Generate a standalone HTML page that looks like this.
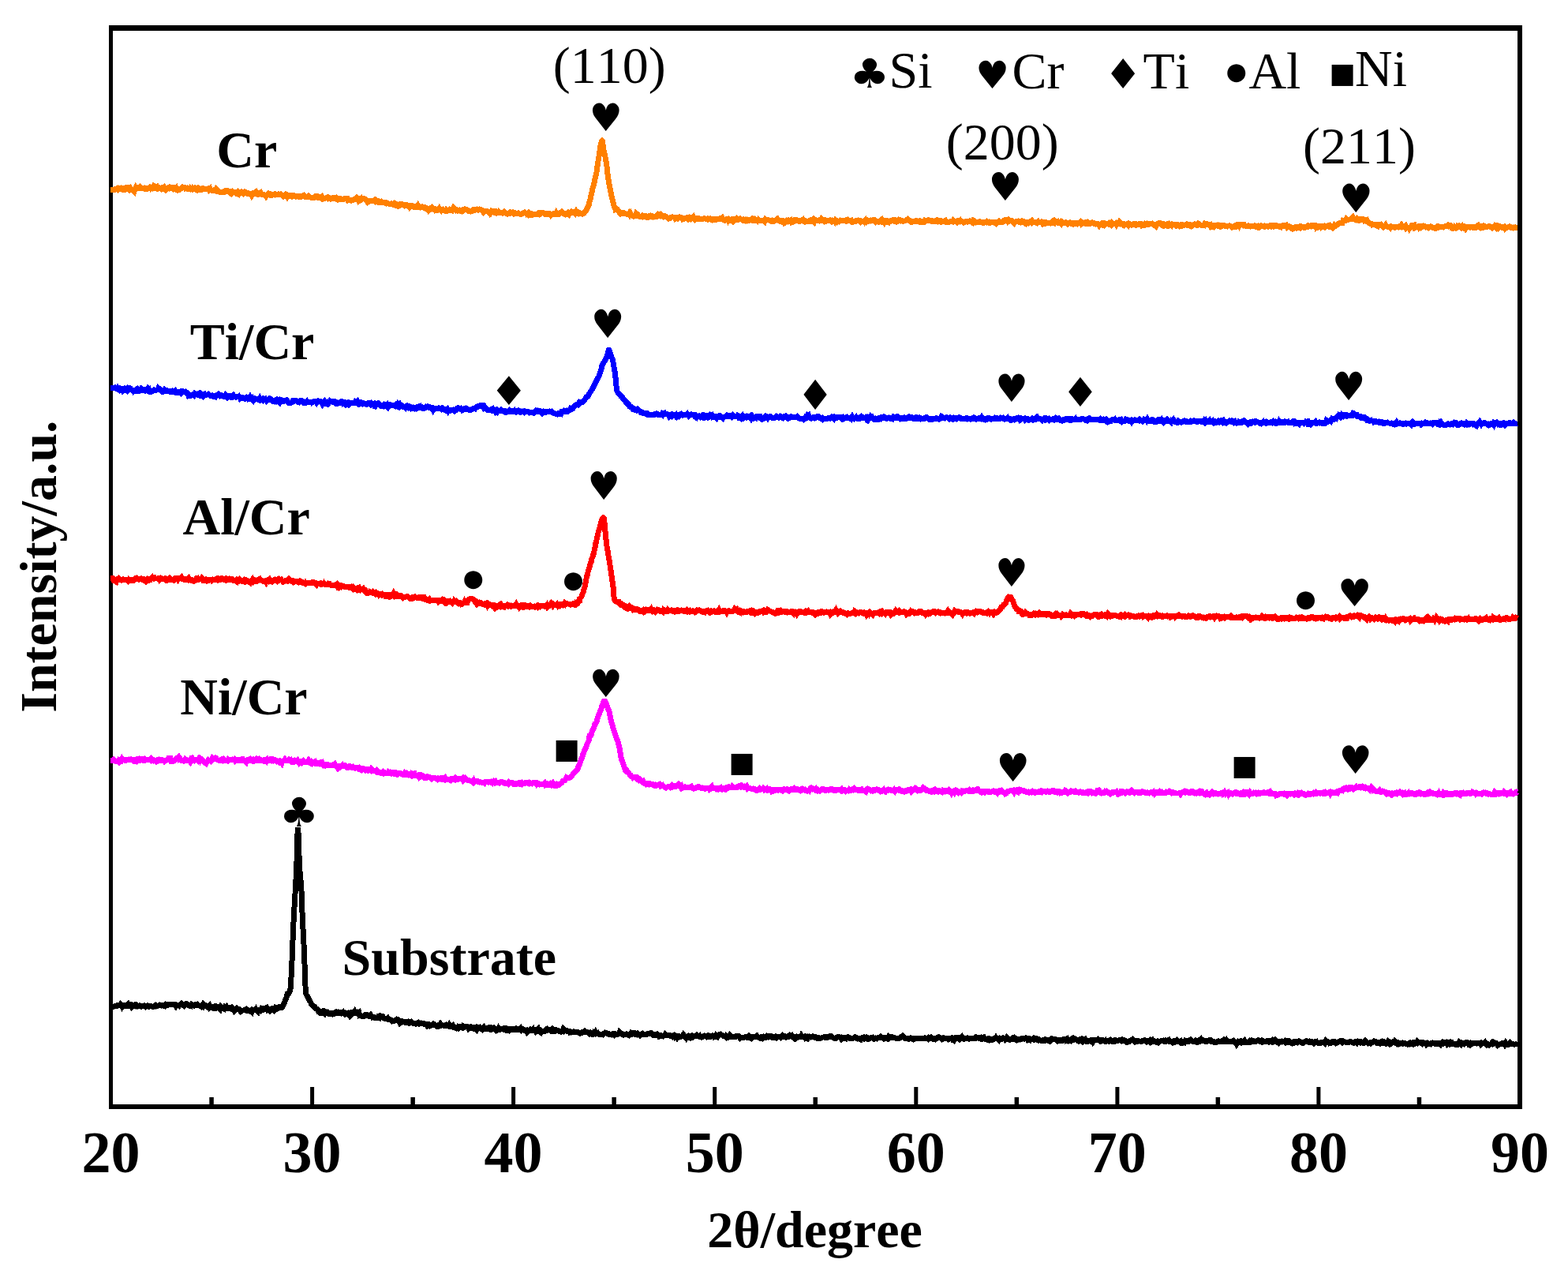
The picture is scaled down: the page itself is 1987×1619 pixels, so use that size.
<!DOCTYPE html>
<html><head><meta charset="utf-8"><title>XRD patterns</title>
<style>html,body{margin:0;padding:0;background:#fff;}svg{display:block;}text{font-kerning:none;}</style></head>
<body>
<svg width="1987" height="1619" viewBox="0 0 1987 1619">
<rect width="1987" height="1619" fill="#fff"/>
<g fill="#000">
<rect x="138" y="32" width="1791" height="7" fill="#000"/>
<rect x="138" y="1399" width="1791" height="6" fill="#000"/>
<rect x="138" y="32" width="5" height="1373" fill="#000"/>
<rect x="1923" y="32" width="6" height="1373" fill="#000"/>
<rect x="265.3" y="1390" width="5.5" height="9" fill="#000"/>
<rect x="393.1" y="1377" width="5" height="22" fill="#000"/>
<rect x="520.4" y="1390" width="5.5" height="9" fill="#000"/>
<rect x="648.1" y="1377" width="5" height="22" fill="#000"/>
<rect x="775.4" y="1390" width="5.5" height="9" fill="#000"/>
<rect x="903.2" y="1377" width="5" height="22" fill="#000"/>
<rect x="1030.5" y="1390" width="5.5" height="9" fill="#000"/>
<rect x="1158.3" y="1377" width="5" height="22" fill="#000"/>
<rect x="1285.6" y="1390" width="5.5" height="9" fill="#000"/>
<rect x="1413.4" y="1377" width="5" height="22" fill="#000"/>
<rect x="1540.6" y="1390" width="5.5" height="9" fill="#000"/>
<rect x="1668.4" y="1377" width="5" height="22" fill="#000"/>
<rect x="1795.7" y="1390" width="5.5" height="9" fill="#000"/>
</g>
<g>
<polyline fill="none" stroke="#ff8000" stroke-width="7.0" stroke-linejoin="miter" stroke-miterlimit="2" shape-rendering="crispEdges" points="140.0,240.3 141.0,240.3 142.0,240.3 143.0,240.3 144.0,240.4 145.0,240.4 146.0,239.4 147.0,239.5 148.0,239.0 149.0,239.9 150.0,238.5 151.0,239.2 152.0,239.1 153.0,238.8 154.0,238.0 155.0,238.2 156.0,239.9 157.0,239.4 158.0,240.5 159.0,240.2 160.0,237.7 161.0,235.6 162.0,238.1 163.0,238.9 164.0,240.0 165.0,238.8 166.0,240.6 167.0,238.8 168.0,240.7 169.0,241.2 170.0,242.2 171.0,239.3 172.0,237.4 173.0,238.7 174.0,238.7 175.0,237.8 176.0,237.7 177.0,238.2 178.0,237.0 179.0,237.8 180.0,238.1 181.0,238.5 182.0,238.9 183.0,238.4 184.0,239.2 185.0,239.8 186.0,239.6 187.0,238.5 188.0,238.6 189.0,238.5 190.0,237.5 191.0,238.7 192.0,237.9 193.0,238.2 194.0,236.8 195.0,238.6 196.0,238.3 197.0,237.1 198.0,237.8 199.0,236.9 200.0,239.1 201.0,238.7 202.0,238.0 203.0,238.5 204.0,238.2 205.0,239.5 206.0,239.0 207.0,239.1 208.0,237.8 209.0,239.5 210.0,240.6 211.0,239.4 212.0,238.1 213.0,237.7 214.0,237.2 215.0,238.5 216.0,237.9 217.0,238.1 218.0,237.3 219.0,237.2 220.0,238.9 221.0,238.0 222.0,238.8 223.0,238.0 224.0,240.5 225.0,241.0 226.0,240.3 227.0,240.6 228.0,239.5 229.0,239.0 230.0,238.1 231.0,237.2 232.0,237.9 233.0,237.5 234.0,237.7 235.0,238.9 236.0,238.6 237.0,238.3 238.0,239.5 239.0,239.6 240.0,239.8 241.0,238.5 242.0,239.5 243.0,239.9 244.0,238.5 245.0,239.7 246.0,239.5 247.0,238.4 248.0,239.6 249.0,240.9 250.0,241.2 251.0,240.7 252.0,238.4 253.0,238.9 254.0,240.0 255.0,240.5 256.0,239.9 257.0,238.8 258.0,238.9 259.0,239.8 260.0,241.4 261.0,238.8 262.0,241.1 263.0,239.6 264.0,239.1 265.0,240.7 266.0,239.7 267.0,242.8 268.0,241.0 269.0,241.6 270.0,241.5 271.0,241.6 272.0,240.4 273.0,240.5 274.0,239.1 275.0,240.0 276.0,241.9 277.0,245.2 278.0,241.8 279.0,243.5 280.0,243.4 281.0,241.1 282.0,243.0 283.0,243.5 284.0,243.3 285.0,241.9 286.0,241.6 287.0,242.0 288.0,241.6 289.0,242.2 290.0,242.7 291.0,243.8 292.0,242.5 293.0,242.4 294.0,244.2 295.0,243.0 296.0,244.0 297.0,243.9 298.0,243.8 299.0,243.5 300.0,245.3 301.0,245.5 302.0,246.1 303.0,243.6 304.0,244.4 305.0,244.5 306.0,243.5 307.0,244.5 308.0,245.2 309.0,244.1 310.0,243.4 311.0,244.2 312.0,243.9 313.0,244.4 314.0,245.0 315.0,247.2 316.0,245.2 317.0,245.5 318.0,245.7 319.0,247.5 320.0,245.9 321.0,244.7 322.0,244.5 323.0,244.3 324.0,243.5 325.0,245.9 326.0,246.1 327.0,246.4 328.0,245.6 329.0,244.3 330.0,243.8 331.0,245.6 332.0,246.4 333.0,246.1 334.0,246.3 335.0,247.0 336.0,247.6 337.0,248.8 338.0,247.5 339.0,246.0 340.0,245.1 341.0,246.1 342.0,245.8 343.0,247.0 344.0,247.0 345.0,247.2 346.0,246.9 347.0,246.5 348.0,246.9 349.0,245.8 350.0,246.3 351.0,246.8 352.0,246.7 353.0,246.0 354.0,246.4 355.0,246.4 356.0,248.8 357.0,246.9 358.0,247.6 359.0,248.6 360.0,247.6 361.0,247.8 362.0,246.6 363.0,247.7 364.0,249.2 365.0,247.7 366.0,248.4 367.0,247.9 368.0,247.7 369.0,247.9 370.0,248.7 371.0,247.6 372.0,247.4 373.0,248.3 374.0,248.2 375.0,249.1 376.0,248.9 377.0,246.8 378.0,249.3 379.0,249.6 380.0,249.4 381.0,248.7 382.0,249.2 383.0,248.8 384.0,248.2 385.0,250.5 386.0,248.7 387.0,249.7 388.0,249.5 389.0,249.5 390.0,249.5 391.0,248.6 392.0,249.9 393.0,249.9 394.0,250.0 395.0,250.7 396.0,250.4 397.0,250.3 398.0,250.2 399.0,249.3 400.0,248.3 401.0,248.3 402.0,250.3 403.0,250.6 404.0,250.4 405.0,249.9 406.0,250.5 407.0,250.9 408.0,249.9 409.0,251.8 410.0,251.1 411.0,251.1 412.0,251.3 413.0,250.8 414.0,250.4 415.0,251.2 416.0,250.2 417.0,251.2 418.0,251.0 419.0,252.0 420.0,251.4 421.0,251.6 422.0,250.8 423.0,250.7 424.0,250.8 425.0,251.4 426.0,250.8 427.0,252.4 428.0,253.0 429.0,252.6 430.0,251.8 431.0,251.6 432.0,252.0 433.0,252.1 434.0,254.1 435.0,252.1 436.0,252.1 437.0,251.6 438.0,251.9 439.0,251.4 440.0,251.4 441.0,253.6 442.0,253.1 443.0,253.3 444.0,253.4 445.0,254.1 446.0,253.7 447.0,253.8 448.0,253.0 449.0,252.3 450.0,252.0 451.0,251.6 452.0,250.6 453.0,251.9 454.0,251.7 455.0,254.7 456.0,254.1 457.0,253.4 458.0,252.0 459.0,253.7 460.0,251.5 461.0,251.7 462.0,252.0 463.0,252.5 464.0,253.9 465.0,254.7 466.0,256.1 467.0,255.2 468.0,255.0 469.0,254.2 470.0,254.4 471.0,254.6 472.0,254.3 473.0,254.6 474.0,254.1 475.0,254.9 476.0,253.3 477.0,254.0 478.0,254.9 479.0,254.7 480.0,256.0 481.0,256.0 482.0,255.7 483.0,255.2 484.0,256.2 485.0,256.0 486.0,256.2 487.0,256.2 488.0,257.3 489.0,257.8 490.0,257.1 491.0,257.7 492.0,258.0 493.0,258.1 494.0,258.3 495.0,258.2 496.0,257.9 497.0,258.2 498.0,258.9 499.0,258.1 500.0,259.5 501.0,260.0 502.0,258.6 503.0,259.2 504.0,259.5 505.0,261.0 506.0,260.4 507.0,259.0 508.0,259.3 509.0,258.5 510.0,258.8 511.0,259.3 512.0,259.7 513.0,260.5 514.0,259.8 515.0,259.6 516.0,260.7 517.0,261.0 518.0,260.8 519.0,262.3 520.0,261.2 521.0,260.6 522.0,260.4 523.0,260.9 524.0,262.0 525.0,262.4 526.0,261.8 527.0,262.2 528.0,262.2 529.0,262.2 530.0,260.3 531.0,261.5 532.0,262.1 533.0,262.9 534.0,262.7 535.0,261.9 536.0,262.0 537.0,262.0 538.0,263.4 539.0,264.1 540.0,264.3 541.0,263.9 542.0,264.3 543.0,266.0 544.0,264.7 545.0,264.9 546.0,263.7 547.0,263.0 548.0,264.4 549.0,265.1 550.0,264.6 551.0,264.5 552.0,266.3 553.0,265.9 554.0,266.1 555.0,264.3 556.0,266.1 557.0,264.2 558.0,265.4 559.0,266.6 560.0,265.2 561.0,265.0 562.0,265.8 563.0,266.9 564.0,267.2 565.0,266.1 566.0,267.4 567.0,267.1 568.0,266.9 569.0,266.4 570.0,265.5 571.0,266.1 572.0,266.3 573.0,266.8 574.0,265.4 575.0,263.2 576.0,264.2 577.0,265.9 578.0,266.7 579.0,266.1 580.0,266.9 581.0,266.2 582.0,266.0 583.0,266.3 584.0,267.6 585.0,267.9 586.0,267.4 587.0,265.6 588.0,265.1 589.0,264.9 590.0,265.2 591.0,265.5 592.0,266.1 593.0,266.5 594.0,267.7 595.0,267.9 596.0,268.0 597.0,267.3 598.0,267.3 599.0,266.1 600.0,265.6 601.0,265.6 602.0,266.1 603.0,265.7 604.0,265.2 605.0,266.0 606.0,266.2 607.0,265.6 608.0,265.1 609.0,265.5 610.0,266.0 611.0,266.5 612.0,267.0 613.0,268.8 614.0,267.9 615.0,267.6 616.0,267.4 617.0,267.4 618.0,268.3 619.0,268.7 620.0,269.8 621.0,267.6 622.0,269.2 623.0,267.6 624.0,268.1 625.0,268.3 626.0,267.2 627.0,267.2 628.0,269.8 629.0,270.1 630.0,269.4 631.0,269.4 632.0,268.2 633.0,269.0 634.0,269.5 635.0,269.4 636.0,269.5 637.0,270.2 638.0,269.5 639.0,268.5 640.0,269.5 641.0,270.0 642.0,270.0 643.0,271.0 644.0,270.6 645.0,270.3 646.0,269.3 647.0,270.1 648.0,269.3 649.0,269.6 650.0,268.8 651.0,269.0 652.0,270.9 653.0,270.6 654.0,270.7 655.0,270.8 656.0,270.7 657.0,270.1 658.0,270.9 659.0,271.3 660.0,271.3 661.0,271.3 662.0,270.7 663.0,270.0 664.0,269.3 665.0,269.0 666.0,269.9 667.0,267.9 668.0,270.5 669.0,269.8 670.0,271.5 671.0,270.6 672.0,271.5 673.0,272.8 674.0,272.8 675.0,271.3 676.0,271.7 677.0,271.1 678.0,271.2 679.0,271.2 680.0,271.7 681.0,271.6 682.0,270.7 683.0,271.4 684.0,270.0 685.0,270.6 686.0,269.9 687.0,269.8 688.0,269.5 689.0,270.2 690.0,270.9 691.0,271.5 692.0,271.0 693.0,271.4 694.0,271.1 695.0,270.5 696.0,270.6 697.0,271.2 698.0,272.5 699.0,271.6 700.0,271.2 701.0,270.9 702.0,271.0 703.0,271.6 704.0,271.7 705.0,269.8 706.0,271.3 707.0,271.9 708.0,271.9 709.0,270.6 710.0,269.7 711.0,269.8 712.0,268.6 713.0,269.8 714.0,270.6 715.0,271.2 716.0,271.6 717.0,270.5 718.0,270.8 719.0,271.2 720.0,270.0 721.0,271.1 722.0,269.2 723.0,269.0 724.0,268.3 725.0,269.2 726.0,268.6 727.0,269.1 728.0,268.7 729.0,269.9 730.0,268.3 731.0,269.9 732.0,270.4 732.7,270.7 733.0,270.8 733.0,270.8 733.2,270.6 733.5,270.3 733.7,270.0 734.0,269.7 734.0,269.6 734.2,269.7 734.5,269.9 734.7,270.0 735.0,270.1 735.0,270.1 735.2,270.2 735.5,270.2 735.7,270.2 736.0,270.3 736.0,270.3 736.2,270.3 736.5,270.4 736.7,270.5 737.0,270.5 737.0,270.5 737.2,270.7 737.5,270.8 737.7,271.0 738.0,271.1 738.0,271.1 738.2,271.0 738.5,270.9 738.7,270.8 739.0,270.6 739.0,270.6 739.2,270.5 739.5,270.5 739.7,270.4 740.0,270.3 740.0,270.3 740.2,270.0 740.5,269.6 740.7,269.2 741.0,268.7 741.0,268.7 741.2,268.5 741.5,268.3 741.7,268.1 742.0,267.8 742.0,267.8 742.2,267.4 742.5,267.0 742.7,266.5 743.0,266.1 743.0,266.0 743.2,265.5 743.5,265.0 743.7,264.4 744.0,263.8 744.0,263.7 744.2,263.4 744.5,262.8 744.7,262.2 745.0,261.6 745.0,261.4 745.2,261.2 745.5,260.9 745.7,260.5 746.0,260.1 746.0,260.0 746.2,259.2 746.5,258.1 746.7,257.0 747.0,255.9 747.0,255.7 747.2,254.9 747.5,254.0 747.7,253.1 748.0,252.2 748.0,252.1 748.2,251.1 748.5,249.9 748.7,248.8 749.0,247.6 749.0,247.3 749.2,246.6 749.5,245.6 749.7,244.5 750.0,243.5 750.0,243.3 750.2,242.4 750.5,241.2 750.7,240.1 751.0,238.9 751.0,238.7 751.2,238.0 751.5,237.1 751.7,236.2 752.0,235.4 752.0,235.2 752.2,234.3 752.5,233.2 752.7,232.2 753.0,231.1 753.0,230.9 753.2,230.1 753.5,229.0 753.7,227.9 754.0,226.8 754.0,226.6 754.2,225.9 754.5,224.9 754.7,223.9 755.0,222.9 755.0,222.6 755.2,221.7 755.5,220.5 755.7,219.3 756.0,218.0 756.0,217.7 756.2,216.4 756.5,214.6 756.7,212.9 757.0,211.1 757.0,210.8 757.2,209.3 757.5,207.5 757.7,205.7 758.0,203.9 758.0,203.5 758.2,202.3 758.5,200.9 758.7,199.4 759.0,197.9 759.0,197.6 759.2,196.3 759.5,194.6 759.7,192.9 760.0,191.2 760.0,190.9 760.2,189.8 760.5,188.2 760.7,186.5 761.0,184.8 761.0,184.4 761.2,183.4 761.5,182.1 761.7,181.0 762.0,180.1 762.0,180.0 762.2,179.2 762.5,178.6 762.7,178.4 763.0,178.7 763.0,178.8 763.2,179.5 763.5,180.7 763.7,182.1 764.0,183.8 764.0,184.1 764.2,185.3 764.5,186.8 764.7,188.4 765.0,189.9 765.0,190.2 765.2,191.2 765.5,192.4 765.7,193.3 766.0,194.2 766.0,194.4 766.2,195.4 766.5,196.6 766.7,197.8 767.0,199.0 767.0,199.3 767.2,200.3 767.5,201.5 767.7,202.9 768.0,204.3 768.0,204.7 768.2,205.7 768.5,207.2 768.7,208.9 769.0,211.1 769.0,211.6 769.2,213.6 769.5,216.2 769.7,218.6 770.0,220.7 770.0,221.1 770.2,222.6 770.5,224.4 770.7,226.1 771.0,227.7 771.0,228.1 771.2,229.2 771.5,230.7 771.7,232.1 772.0,233.4 772.0,233.7 772.2,234.7 772.5,236.0 772.7,237.2 773.0,238.4 773.0,238.6 773.2,239.6 773.5,240.9 773.7,242.1 774.0,243.3 774.0,243.5 774.2,244.6 774.5,245.9 774.7,247.2 775.0,248.4 775.0,248.7 775.2,249.6 775.5,250.7 775.7,251.7 776.0,252.9 776.0,253.1 776.2,253.8 776.5,254.6 776.7,255.5 777.0,256.4 777.0,256.5 777.2,257.4 777.5,258.5 777.7,259.6 778.0,260.7 778.0,260.9 778.2,261.5 778.5,262.2 778.7,262.9 779.0,263.5 779.0,263.7 779.2,264.0 779.5,264.4 779.7,264.7 780.0,264.9 780.0,265.0 780.2,264.9 780.5,264.7 780.7,264.6 781.0,264.4 781.0,264.4 781.2,264.5 781.5,264.6 781.7,264.7 782.0,264.8 782.0,264.8 782.2,265.2 782.5,265.6 782.7,266.0 783.0,266.4 783.0,266.5 783.2,266.8 783.5,267.1 783.7,267.4 784.0,267.8 784.0,267.8 784.2,268.1 784.5,268.4 784.7,268.8 785.0,269.1 785.0,269.2 785.2,269.4 785.5,269.6 785.7,269.8 786.0,270.1 786.0,270.1 786.2,269.9 786.5,269.7 786.7,269.5 787.0,269.3 787.0,269.2 787.2,269.3 787.5,269.4 787.7,269.4 788.0,269.5 788.0,269.5 788.2,269.5 788.5,269.4 788.7,269.3 789.0,269.3 789.0,269.3 789.2,269.4 789.5,269.6 789.7,269.8 790.0,269.9 790.0,270.0 790.2,270.0 790.5,270.0 790.7,269.9 791.0,269.9 791.0,269.9 791.2,270.0 791.5,270.1 791.7,270.2 792.0,270.2 792.0,270.2 792.2,270.4 792.5,270.5 793.0,270.9 794.0,271.2 795.0,271.2 796.0,271.6 797.0,270.4 798.0,272.1 799.0,270.5 800.0,272.3 801.0,273.3 802.0,273.6 803.0,274.1 804.0,273.4 805.0,273.6 806.0,271.0 807.0,272.2 808.0,271.8 809.0,273.2 810.0,274.2 811.0,274.4 812.0,274.2 813.0,274.0 814.0,273.3 815.0,274.4 816.0,273.8 817.0,273.5 818.0,273.3 819.0,274.4 820.0,275.3 821.0,275.4 822.0,275.0 823.0,273.3 824.0,273.1 825.0,273.6 826.0,273.5 827.0,274.7 828.0,274.3 829.0,274.9 830.0,274.6 831.0,274.1 832.0,273.3 833.0,272.2 834.0,273.7 835.0,273.3 836.0,272.4 837.0,273.2 838.0,272.0 839.0,272.8 840.0,273.2 841.0,274.2 842.0,273.5 843.0,274.1 844.0,274.3 845.0,275.2 846.0,275.8 847.0,276.9 848.0,276.3 849.0,276.4 850.0,275.7 851.0,275.0 852.0,274.8 853.0,275.0 854.0,275.0 855.0,275.5 856.0,277.3 857.0,276.8 858.0,276.0 859.0,276.7 860.0,275.7 861.0,274.9 862.0,275.5 863.0,275.4 864.0,276.6 865.0,277.9 866.0,277.6 867.0,276.5 868.0,276.4 869.0,276.3 870.0,275.7 871.0,275.7 872.0,277.1 873.0,275.8 874.0,275.2 875.0,275.6 876.0,276.9 877.0,276.0 878.0,276.5 879.0,275.2 880.0,276.9 881.0,278.2 882.0,277.4 883.0,277.6 884.0,276.5 885.0,276.3 886.0,277.4 887.0,277.1 888.0,277.4 889.0,277.6 890.0,277.3 891.0,276.0 892.0,278.5 893.0,276.9 894.0,277.0 895.0,277.5 896.0,277.1 897.0,277.8 898.0,277.2 899.0,277.6 900.0,277.0 901.0,278.0 902.0,278.6 903.0,277.8 904.0,277.3 905.0,277.5 906.0,278.5 907.0,278.5 908.0,278.2 909.0,277.3 910.0,277.5 911.0,277.5 912.0,276.9 913.0,276.7 914.0,277.1 915.0,276.1 916.0,278.0 917.0,279.0 918.0,279.3 919.0,278.5 920.0,278.4 921.0,277.4 922.0,277.7 923.0,279.5 924.0,278.3 925.0,279.1 926.0,278.4 927.0,277.9 928.0,278.9 929.0,280.1 930.0,279.1 931.0,277.9 932.0,278.2 933.0,277.3 934.0,278.7 935.0,278.7 936.0,277.9 937.0,277.3 938.0,277.0 939.0,277.8 940.0,278.2 941.0,278.8 942.0,278.2 943.0,278.8 944.0,278.3 945.0,279.4 946.0,278.7 947.0,279.8 948.0,279.3 949.0,278.9 950.0,279.3 951.0,278.8 952.0,277.8 953.0,277.2 954.0,279.1 955.0,279.0 956.0,278.0 957.0,279.4 958.0,279.5 959.0,278.8 960.0,279.7 961.0,278.4 962.0,279.3 963.0,279.5 964.0,279.9 965.0,279.5 966.0,279.1 967.0,279.3 968.0,279.2 969.0,280.4 970.0,278.2 971.0,279.2 972.0,278.6 973.0,278.5 974.0,279.0 975.0,279.1 976.0,279.8 977.0,280.2 978.0,279.5 979.0,280.5 980.0,280.5 981.0,280.0 982.0,279.4 983.0,279.0 984.0,278.1 985.0,277.4 986.0,278.8 987.0,279.8 988.0,280.3 989.0,279.7 990.0,279.6 991.0,280.5 992.0,279.7 993.0,280.4 994.0,282.2 995.0,281.3 996.0,281.0 997.0,279.6 998.0,280.3 999.0,279.2 1000.0,280.0 1001.0,279.6 1002.0,279.1 1003.0,281.2 1004.0,280.5 1005.0,281.2 1006.0,280.5 1007.0,278.7 1008.0,278.7 1009.0,278.5 1010.0,279.8 1011.0,279.7 1012.0,279.4 1013.0,280.5 1014.0,280.1 1015.0,280.0 1016.0,279.1 1017.0,279.6 1018.0,278.6 1019.0,280.1 1020.0,279.8 1021.0,281.0 1022.0,280.8 1023.0,281.0 1024.0,280.7 1025.0,280.6 1026.0,280.2 1027.0,278.9 1028.0,278.6 1029.0,280.6 1030.0,280.9 1031.0,279.3 1032.0,280.6 1033.0,278.5 1034.0,279.2 1035.0,279.1 1036.0,279.1 1037.0,279.7 1038.0,279.1 1039.0,280.0 1040.0,279.7 1041.0,277.6 1042.0,278.7 1043.0,278.5 1044.0,278.9 1045.0,280.3 1046.0,279.5 1047.0,280.3 1048.0,279.8 1049.0,279.5 1050.0,279.6 1051.0,279.8 1052.0,278.9 1053.0,279.5 1054.0,280.4 1055.0,279.4 1056.0,280.0 1057.0,279.6 1058.0,280.8 1059.0,279.0 1060.0,280.0 1061.0,281.1 1062.0,280.3 1063.0,280.7 1064.0,279.8 1065.0,279.1 1066.0,279.5 1067.0,279.7 1068.0,279.1 1069.0,279.0 1070.0,279.1 1071.0,279.6 1072.0,279.0 1073.0,280.2 1074.0,279.7 1075.0,278.7 1076.0,279.3 1077.0,279.8 1078.0,279.7 1079.0,279.3 1080.0,281.3 1081.0,281.1 1082.0,281.0 1083.0,280.7 1084.0,280.7 1085.0,279.4 1086.0,279.5 1087.0,279.2 1088.0,279.9 1089.0,280.0 1090.0,279.8 1091.0,281.1 1092.0,280.3 1093.0,280.8 1094.0,280.4 1095.0,278.3 1096.0,280.3 1097.0,279.0 1098.0,280.7 1099.0,279.6 1100.0,280.5 1101.0,280.2 1102.0,279.1 1103.0,279.0 1104.0,279.9 1105.0,279.6 1106.0,279.5 1107.0,278.5 1108.0,278.5 1109.0,280.1 1110.0,281.2 1111.0,280.6 1112.0,280.9 1113.0,281.3 1114.0,281.1 1115.0,280.2 1116.0,279.4 1117.0,278.6 1118.0,281.1 1119.0,280.7 1120.0,281.8 1121.0,279.8 1122.0,280.3 1123.0,279.6 1124.0,279.7 1125.0,281.7 1126.0,282.0 1127.0,280.7 1128.0,280.6 1129.0,279.4 1130.0,279.1 1131.0,279.0 1132.0,278.7 1133.0,279.6 1134.0,279.1 1135.0,280.9 1136.0,281.1 1137.0,280.7 1138.0,279.8 1139.0,278.5 1140.0,279.2 1141.0,279.0 1142.0,279.9 1143.0,279.5 1144.0,280.1 1145.0,280.1 1146.0,280.0 1147.0,279.8 1148.0,279.0 1149.0,278.8 1150.0,277.9 1151.0,279.1 1152.0,279.6 1153.0,279.6 1154.0,279.9 1155.0,281.4 1156.0,281.3 1157.0,280.7 1158.0,280.8 1159.0,280.3 1160.0,279.9 1161.0,279.5 1162.0,280.6 1163.0,280.9 1164.0,281.0 1165.0,281.3 1166.0,279.9 1167.0,280.0 1168.0,281.0 1169.0,281.4 1170.0,281.5 1171.0,281.4 1172.0,279.7 1173.0,280.3 1174.0,279.9 1175.0,279.7 1176.0,278.9 1177.0,278.8 1178.0,279.2 1179.0,279.6 1180.0,280.0 1181.0,279.6 1182.0,280.7 1183.0,280.6 1184.0,280.4 1185.0,280.5 1186.0,279.2 1187.0,278.7 1188.0,279.4 1189.0,280.3 1190.0,279.6 1191.0,279.2 1192.0,279.5 1193.0,281.1 1194.0,280.8 1195.0,280.4 1196.0,280.4 1197.0,280.4 1198.0,279.6 1199.0,281.4 1200.0,281.7 1201.0,281.1 1202.0,281.1 1203.0,281.2 1204.0,280.9 1205.0,280.5 1206.0,280.3 1207.0,280.7 1208.0,279.3 1209.0,280.3 1210.0,280.2 1211.0,280.4 1212.0,280.2 1213.0,281.2 1214.0,279.9 1215.0,280.4 1216.0,280.7 1217.0,279.5 1218.0,280.9 1219.0,280.8 1220.0,280.9 1221.0,281.8 1222.0,281.2 1223.0,281.1 1224.0,280.6 1225.0,280.5 1226.0,281.0 1227.0,280.6 1228.0,280.0 1229.0,279.9 1230.0,280.5 1231.0,281.2 1232.0,280.1 1233.0,281.2 1234.0,279.5 1235.0,280.1 1236.0,281.3 1237.0,281.9 1238.0,281.6 1239.0,281.8 1240.0,281.9 1241.0,281.9 1242.0,280.9 1243.0,281.3 1244.0,281.2 1245.0,281.8 1246.0,282.5 1247.0,282.3 1248.0,281.6 1249.0,281.5 1250.0,280.8 1251.0,281.9 1252.0,281.7 1253.0,281.3 1254.0,282.5 1255.0,282.2 1256.0,281.9 1257.0,281.5 1258.0,281.7 1259.0,281.7 1260.0,282.0 1261.0,281.6 1262.0,281.4 1263.0,282.8 1264.0,281.8 1265.0,280.9 1266.0,280.0 1267.0,280.9 1268.0,281.4 1269.0,281.2 1270.0,281.3 1271.0,280.6 1272.0,280.7 1273.0,279.1 1274.0,278.6 1275.0,278.5 1276.0,278.6 1277.0,280.2 1278.0,278.9 1279.0,280.1 1280.0,279.8 1281.0,279.7 1282.0,279.5 1283.0,280.4 1284.0,281.5 1285.0,282.5 1286.0,281.0 1287.0,280.8 1288.0,281.0 1289.0,280.8 1290.0,280.4 1291.0,281.1 1292.0,281.0 1293.0,281.5 1294.0,280.1 1295.0,279.8 1296.0,280.0 1297.0,281.5 1298.0,281.6 1299.0,282.6 1300.0,282.0 1301.0,283.1 1302.0,282.4 1303.0,282.8 1304.0,282.2 1305.0,280.9 1306.0,280.7 1307.0,281.7 1308.0,280.2 1309.0,281.7 1310.0,281.8 1311.0,281.7 1312.0,281.8 1313.0,281.9 1314.0,282.5 1315.0,281.4 1316.0,283.7 1317.0,281.5 1318.0,281.7 1319.0,281.0 1320.0,280.8 1321.0,281.5 1322.0,284.0 1323.0,283.8 1324.0,281.5 1325.0,281.4 1326.0,282.0 1327.0,282.1 1328.0,282.4 1329.0,282.8 1330.0,282.4 1331.0,282.7 1332.0,281.9 1333.0,282.1 1334.0,281.0 1335.0,282.2 1336.0,282.6 1337.0,280.4 1338.0,281.3 1339.0,280.8 1340.0,280.5 1341.0,282.0 1342.0,282.0 1343.0,282.6 1344.0,281.6 1345.0,283.0 1346.0,281.4 1347.0,282.2 1348.0,282.4 1349.0,282.6 1350.0,281.8 1351.0,281.9 1352.0,282.3 1353.0,283.5 1354.0,282.7 1355.0,282.7 1356.0,282.1 1357.0,283.2 1358.0,283.5 1359.0,283.8 1360.0,282.3 1361.0,282.2 1362.0,283.3 1363.0,282.8 1364.0,283.8 1365.0,284.0 1366.0,283.1 1367.0,282.3 1368.0,282.2 1369.0,281.2 1370.0,282.9 1371.0,281.5 1372.0,281.9 1373.0,282.7 1374.0,282.2 1375.0,283.1 1376.0,282.2 1377.0,282.9 1378.0,282.1 1379.0,283.3 1380.0,283.1 1381.0,283.5 1382.0,282.6 1383.0,282.2 1384.0,281.7 1385.0,282.2 1386.0,282.1 1387.0,283.2 1388.0,283.1 1389.0,283.9 1390.0,283.6 1391.0,283.6 1392.0,284.2 1393.0,285.6 1394.0,284.3 1395.0,283.9 1396.0,284.4 1397.0,282.6 1398.0,282.3 1399.0,282.3 1400.0,284.2 1401.0,283.1 1402.0,283.1 1403.0,283.4 1404.0,283.6 1405.0,284.0 1406.0,282.8 1407.0,283.6 1408.0,284.6 1409.0,282.9 1410.0,284.3 1411.0,284.0 1412.0,283.9 1413.0,283.8 1414.0,283.1 1415.0,284.7 1416.0,283.5 1417.0,283.0 1418.0,283.4 1419.0,281.1 1420.0,282.1 1421.0,282.7 1422.0,283.7 1423.0,284.3 1424.0,285.2 1425.0,283.7 1426.0,284.1 1427.0,284.2 1428.0,283.8 1429.0,283.9 1430.0,285.1 1431.0,283.5 1432.0,284.2 1433.0,284.2 1434.0,285.0 1435.0,284.0 1436.0,283.9 1437.0,284.3 1438.0,283.7 1439.0,283.8 1440.0,285.0 1441.0,284.4 1442.0,284.5 1443.0,284.2 1444.0,283.5 1445.0,283.8 1446.0,283.8 1447.0,285.7 1448.0,285.1 1449.0,284.8 1450.0,283.9 1451.0,285.1 1452.0,285.0 1453.0,284.5 1454.0,283.3 1455.0,283.6 1456.0,284.2 1457.0,283.4 1458.0,283.5 1459.0,283.4 1460.0,283.1 1461.0,284.0 1462.0,284.2 1463.0,285.2 1464.0,285.2 1465.0,286.3 1466.0,284.6 1467.0,283.7 1468.0,283.4 1469.0,282.5 1470.0,282.4 1471.0,283.2 1472.0,283.4 1473.0,285.0 1474.0,284.4 1475.0,286.1 1476.0,285.5 1477.0,284.9 1478.0,284.4 1479.0,285.3 1480.0,284.2 1481.0,285.2 1482.0,284.0 1483.0,284.7 1484.0,284.6 1485.0,285.5 1486.0,284.1 1487.0,284.4 1488.0,284.3 1489.0,284.8 1490.0,284.7 1491.0,286.2 1492.0,286.0 1493.0,284.9 1494.0,285.5 1495.0,285.2 1496.0,286.9 1497.0,286.8 1498.0,285.9 1499.0,284.7 1500.0,285.2 1501.0,285.2 1502.0,284.7 1503.0,285.0 1504.0,284.3 1505.0,285.0 1506.0,285.0 1507.0,284.9 1508.0,285.8 1509.0,285.2 1510.0,286.3 1511.0,285.5 1512.0,284.8 1513.0,284.6 1514.0,284.1 1515.0,284.8 1516.0,285.3 1517.0,284.6 1518.0,283.5 1519.0,284.6 1520.0,284.2 1521.0,284.9 1522.0,285.2 1523.0,285.7 1524.0,285.4 1525.0,285.2 1526.0,285.5 1527.0,283.4 1528.0,283.9 1529.0,283.6 1530.0,283.9 1531.0,284.4 1532.0,285.0 1533.0,284.7 1534.0,286.6 1535.0,285.5 1536.0,286.9 1537.0,286.2 1538.0,287.1 1539.0,286.1 1540.0,285.4 1541.0,285.2 1542.0,285.0 1543.0,285.6 1544.0,286.5 1545.0,286.8 1546.0,285.1 1547.0,285.2 1548.0,286.4 1549.0,285.8 1550.0,285.7 1551.0,285.4 1552.0,286.1 1553.0,286.7 1554.0,286.4 1555.0,286.8 1556.0,286.0 1557.0,286.0 1558.0,285.9 1559.0,286.0 1560.0,286.9 1561.0,287.9 1562.0,287.3 1563.0,286.8 1564.0,287.1 1565.0,286.3 1566.0,286.9 1567.0,285.6 1568.0,284.8 1569.0,285.4 1570.0,286.6 1571.0,284.8 1572.0,284.9 1573.0,284.7 1574.0,284.9 1575.0,284.9 1576.0,285.6 1577.0,285.0 1578.0,286.1 1579.0,286.5 1580.0,286.7 1581.0,286.1 1582.0,285.9 1583.0,286.0 1584.0,286.6 1585.0,287.0 1586.0,286.9 1587.0,286.6 1588.0,283.9 1589.0,286.1 1590.0,286.4 1591.0,286.7 1592.0,287.9 1593.0,287.9 1594.0,288.1 1595.0,286.6 1596.0,287.3 1597.0,286.3 1598.0,285.9 1599.0,286.2 1600.0,286.8 1601.0,286.8 1602.0,286.4 1603.0,287.3 1604.0,287.0 1605.0,286.9 1606.0,286.5 1607.0,287.2 1608.0,286.4 1609.0,286.0 1610.0,285.7 1611.0,286.5 1612.0,285.6 1613.0,285.7 1614.0,286.8 1615.0,286.2 1616.0,285.9 1617.0,285.7 1618.0,286.6 1619.0,286.8 1620.0,286.9 1621.0,287.3 1622.0,287.3 1623.0,287.7 1624.0,286.0 1625.0,285.8 1626.0,285.6 1627.0,286.6 1628.0,286.6 1629.0,286.4 1630.0,285.6 1631.0,287.5 1632.0,286.4 1633.0,286.2 1634.0,286.8 1635.0,287.1 1636.0,288.3 1637.0,289.4 1638.0,290.1 1639.0,289.3 1640.0,286.6 1641.0,288.0 1642.0,287.6 1643.0,286.0 1644.0,288.4 1645.0,287.9 1646.0,287.9 1647.0,288.5 1648.0,286.9 1649.0,286.9 1650.0,287.8 1651.0,287.4 1652.0,287.6 1653.0,288.4 1654.0,287.8 1655.0,288.0 1656.0,287.7 1657.0,287.7 1658.0,285.8 1659.0,286.1 1660.0,286.5 1661.0,286.9 1662.0,285.8 1663.0,286.0 1664.0,285.4 1665.0,285.6 1666.0,286.7 1667.0,286.2 1668.0,288.4 1669.0,287.7 1670.0,288.2 1671.0,287.6 1672.0,286.3 1673.0,286.2 1674.0,287.5 1675.0,286.6 1676.0,286.9 1677.0,287.1 1678.0,286.6 1679.0,287.7 1680.0,287.0 1681.0,286.7 1682.0,286.8 1682.2,286.6 1682.5,286.5 1682.8,286.3 1683.0,286.1 1683.2,286.3 1683.5,286.5 1683.8,286.7 1684.0,286.9 1684.2,286.7 1684.5,286.5 1684.8,286.2 1685.0,286.0 1685.2,286.3 1685.5,286.7 1685.8,287.0 1686.0,287.3 1686.2,287.2 1686.5,287.0 1686.8,286.9 1687.0,286.8 1687.2,286.9 1687.5,287.0 1687.8,287.2 1688.0,287.3 1688.2,287.5 1688.5,287.7 1688.8,287.9 1689.0,288.1 1689.2,287.9 1689.5,287.7 1689.8,287.4 1690.0,287.2 1690.2,286.8 1690.5,286.4 1690.8,286.0 1691.0,285.6 1691.2,285.8 1691.5,285.9 1691.8,286.0 1692.0,286.1 1692.2,285.9 1692.5,285.7 1692.8,285.5 1693.0,285.3 1693.2,285.2 1693.5,285.1 1693.8,285.0 1694.0,284.9 1694.2,284.8 1694.5,284.7 1694.8,284.7 1695.0,284.6 1695.2,284.4 1695.5,284.2 1695.8,284.0 1696.0,283.7 1696.2,283.5 1696.5,283.3 1696.8,283.0 1697.0,282.8 1697.2,282.6 1697.5,282.4 1697.8,282.2 1698.0,282.0 1698.2,282.0 1698.5,282.0 1698.8,282.0 1699.0,282.0 1699.2,282.0 1699.5,282.0 1699.8,282.0 1700.0,282.0 1700.2,282.1 1700.5,282.1 1700.8,282.1 1701.0,282.1 1701.2,281.5 1701.5,280.9 1701.8,280.3 1702.0,279.7 1702.2,279.8 1702.5,279.9 1702.8,280.0 1703.0,280.1 1703.2,280.0 1703.5,280.0 1703.8,279.9 1704.0,279.8 1704.2,279.7 1704.5,279.6 1704.8,279.5 1705.0,279.4 1705.2,279.0 1705.5,278.6 1705.8,278.2 1706.0,277.8 1706.2,278.0 1706.5,278.2 1706.8,278.4 1707.0,278.6 1707.2,278.7 1707.5,278.8 1707.8,278.8 1708.0,278.9 1708.2,278.9 1708.5,278.8 1708.8,278.8 1709.0,278.7 1709.2,279.0 1709.5,279.3 1709.8,279.6 1710.0,279.9 1710.2,279.4 1710.5,278.9 1710.8,278.4 1711.0,277.9 1711.2,277.8 1711.5,277.8 1711.8,277.7 1712.0,277.7 1712.2,277.3 1712.5,276.9 1712.8,276.5 1713.0,276.1 1713.2,275.8 1713.5,275.6 1713.8,275.4 1714.0,275.2 1714.2,275.6 1714.5,275.9 1714.8,276.2 1715.0,276.6 1715.2,276.8 1715.5,277.0 1715.8,277.2 1716.0,277.3 1716.2,277.5 1716.5,277.7 1716.8,277.9 1717.0,278.1 1717.2,278.2 1717.5,278.2 1717.8,278.3 1718.0,278.4 1718.2,278.1 1718.5,277.9 1718.8,277.7 1719.0,277.5 1719.2,277.8 1719.5,278.2 1719.8,278.5 1720.0,278.8 1720.2,278.8 1720.5,278.9 1720.8,278.9 1721.0,279.0 1721.2,279.0 1721.5,279.0 1721.8,279.0 1722.0,279.0 1722.2,278.7 1722.5,278.4 1722.8,278.1 1723.0,277.8 1723.2,277.8 1723.5,277.9 1723.8,277.9 1724.0,278.0 1724.2,278.0 1724.5,278.0 1724.8,278.0 1725.0,277.9 1725.2,278.0 1725.5,278.0 1725.8,278.0 1726.0,278.0 1726.2,277.8 1726.5,277.7 1726.8,277.5 1727.0,277.4 1727.2,277.5 1727.5,277.6 1727.8,277.7 1728.0,277.9 1728.2,278.2 1728.5,278.6 1728.8,279.0 1729.0,279.4 1729.2,279.3 1729.5,279.1 1729.8,279.0 1730.0,278.9 1730.2,279.2 1730.5,279.4 1730.8,279.6 1731.0,279.8 1731.2,279.6 1731.5,279.4 1731.8,279.2 1732.0,279.1 1732.2,279.6 1732.5,280.1 1732.8,280.7 1733.0,281.2 1733.2,281.4 1733.5,281.6 1733.8,281.8 1734.0,282.0 1734.2,282.0 1734.5,282.0 1734.8,282.0 1735.0,282.1 1735.2,282.3 1735.5,282.5 1735.8,282.7 1736.0,282.9 1736.2,283.0 1736.5,283.0 1736.8,283.1 1737.0,283.1 1737.2,283.2 1737.5,283.2 1737.8,283.3 1738.0,283.3 1738.2,283.6 1738.5,283.9 1738.8,284.2 1739.0,284.5 1739.2,284.4 1739.5,284.4 1739.8,284.4 1740.0,284.4 1740.2,284.4 1740.5,284.4 1740.8,284.4 1741.0,284.4 1741.2,284.5 1741.5,284.6 1741.8,284.7 1742.0,284.8 1743.0,284.8 1744.0,285.7 1745.0,286.2 1746.0,286.6 1747.0,285.0 1748.0,285.3 1749.0,285.3 1750.0,284.6 1751.0,285.6 1752.0,286.9 1753.0,287.7 1754.0,286.6 1755.0,286.4 1756.0,285.2 1757.0,286.8 1758.0,287.0 1759.0,287.8 1760.0,287.7 1761.0,287.2 1762.0,288.3 1763.0,286.9 1764.0,287.5 1765.0,287.6 1766.0,288.0 1767.0,288.3 1768.0,287.3 1769.0,287.1 1770.0,287.3 1771.0,287.3 1772.0,287.8 1773.0,286.9 1774.0,286.8 1775.0,287.3 1776.0,285.6 1777.0,287.2 1778.0,287.3 1779.0,287.6 1780.0,287.5 1781.0,286.5 1782.0,288.8 1783.0,288.0 1784.0,288.2 1785.0,288.1 1786.0,289.7 1787.0,288.5 1788.0,287.1 1789.0,285.6 1790.0,285.6 1791.0,285.6 1792.0,285.2 1793.0,288.7 1794.0,288.3 1795.0,288.0 1796.0,287.4 1797.0,287.0 1798.0,288.4 1799.0,287.5 1800.0,286.9 1801.0,288.3 1802.0,287.7 1803.0,287.1 1804.0,286.1 1805.0,286.3 1806.0,287.1 1807.0,287.8 1808.0,287.5 1809.0,288.0 1810.0,288.5 1811.0,287.3 1812.0,287.4 1813.0,287.0 1814.0,287.6 1815.0,287.9 1816.0,288.7 1817.0,288.5 1818.0,291.0 1819.0,289.3 1820.0,288.2 1821.0,287.4 1822.0,287.9 1823.0,286.7 1824.0,287.2 1825.0,287.2 1826.0,287.1 1827.0,287.6 1828.0,287.4 1829.0,287.8 1830.0,287.2 1831.0,286.7 1832.0,286.4 1833.0,286.7 1834.0,286.7 1835.0,285.6 1836.0,286.5 1837.0,285.9 1838.0,285.9 1839.0,287.6 1840.0,289.2 1841.0,289.4 1842.0,288.6 1843.0,290.7 1844.0,288.0 1845.0,288.9 1846.0,288.4 1847.0,286.4 1848.0,286.8 1849.0,286.2 1850.0,287.0 1851.0,286.8 1852.0,288.0 1853.0,286.8 1854.0,288.4 1855.0,288.9 1856.0,287.9 1857.0,289.3 1858.0,287.6 1859.0,287.6 1860.0,287.9 1861.0,287.5 1862.0,287.8 1863.0,288.1 1864.0,287.3 1865.0,287.4 1866.0,288.0 1867.0,287.3 1868.0,287.5 1869.0,288.5 1870.0,288.5 1871.0,288.1 1872.0,286.6 1873.0,285.8 1874.0,287.5 1875.0,287.9 1876.0,288.4 1877.0,287.2 1878.0,287.9 1879.0,288.1 1880.0,286.8 1881.0,287.9 1882.0,287.8 1883.0,287.0 1884.0,287.2 1885.0,287.2 1886.0,286.9 1887.0,286.3 1888.0,286.9 1889.0,287.7 1890.0,287.6 1891.0,288.5 1892.0,287.4 1893.0,287.5 1894.0,286.3 1895.0,287.3 1896.0,286.5 1897.0,288.3 1898.0,287.2 1899.0,288.6 1900.0,287.6 1901.0,287.1 1902.0,287.7 1903.0,287.8 1904.0,288.6 1905.0,288.7 1906.0,287.8 1907.0,289.2 1908.0,287.9 1909.0,288.7 1910.0,288.3 1911.0,287.9 1912.0,287.0 1913.0,286.9 1914.0,287.8 1915.0,288.4 1916.0,288.6 1917.0,288.9 1918.0,288.1 1919.0,288.5 1920.0,287.9 1921.0,288.0 1922.0,288.3 1923.0,288.4"/>
<polyline fill="none" stroke="#0000ff" stroke-width="7.0" stroke-linejoin="miter" stroke-miterlimit="2" shape-rendering="crispEdges" points="140.0,491.4 141.0,491.5 142.0,491.6 143.0,491.7 144.0,491.1 145.0,489.8 146.0,493.3 147.0,491.6 148.0,492.4 149.0,491.2 150.0,492.4 151.0,491.9 152.0,493.5 153.0,492.3 154.0,492.2 155.0,492.5 156.0,494.9 157.0,493.9 158.0,494.2 159.0,492.5 160.0,493.2 161.0,494.2 162.0,492.4 163.0,493.3 164.0,491.8 165.0,491.9 166.0,493.3 167.0,494.2 168.0,494.6 169.0,495.8 170.0,495.0 171.0,495.2 172.0,493.8 173.0,493.2 174.0,494.3 175.0,493.0 176.0,493.9 177.0,495.1 178.0,494.5 179.0,492.5 180.0,493.3 181.0,494.5 182.0,494.4 183.0,494.0 184.0,494.9 185.0,494.2 186.0,494.2 187.0,492.8 188.0,494.5 189.0,493.8 190.0,496.4 191.0,496.7 192.0,496.1 193.0,495.7 194.0,494.8 195.0,494.1 196.0,494.7 197.0,494.4 198.0,494.3 199.0,493.9 200.0,495.4 201.0,491.9 202.0,492.7 203.0,493.4 204.0,494.3 205.0,495.3 206.0,496.5 207.0,496.2 208.0,495.6 209.0,493.8 210.0,494.6 211.0,494.6 212.0,495.4 213.0,495.6 214.0,495.8 215.0,496.2 216.0,495.2 217.0,495.1 218.0,496.4 219.0,496.6 220.0,495.8 221.0,496.4 222.0,495.4 223.0,497.2 224.0,497.4 225.0,496.8 226.0,497.4 227.0,496.6 228.0,497.0 229.0,496.3 230.0,498.0 231.0,497.0 232.0,496.2 233.0,496.9 234.0,497.0 235.0,496.5 236.0,497.5 237.0,497.3 238.0,498.4 239.0,501.3 240.0,500.9 241.0,501.4 242.0,501.0 243.0,500.5 244.0,500.1 245.0,499.5 246.0,500.4 247.0,498.6 248.0,499.1 249.0,499.2 250.0,499.1 251.0,498.7 252.0,502.9 253.0,501.7 254.0,501.1 255.0,499.4 256.0,500.3 257.0,501.3 258.0,499.5 259.0,499.2 260.0,500.7 261.0,500.3 262.0,500.2 263.0,499.8 264.0,499.4 265.0,500.2 266.0,501.0 267.0,501.6 268.0,501.8 269.0,501.2 270.0,502.1 271.0,502.0 272.0,502.2 273.0,502.7 274.0,501.0 275.0,500.6 276.0,500.8 277.0,499.8 278.0,500.8 279.0,501.8 280.0,501.4 281.0,500.8 282.0,501.4 283.0,502.2 284.0,502.3 285.0,502.5 286.0,500.7 287.0,501.9 288.0,503.1 289.0,501.7 290.0,501.6 291.0,502.4 292.0,502.0 293.0,503.6 294.0,503.4 295.0,502.5 296.0,501.1 297.0,502.3 298.0,502.5 299.0,500.8 300.0,503.0 301.0,502.9 302.0,502.3 303.0,504.7 304.0,500.9 305.0,504.5 306.0,503.8 307.0,503.3 308.0,503.7 309.0,504.6 310.0,505.1 311.0,503.8 312.0,503.3 313.0,504.0 314.0,502.7 315.0,505.2 316.0,504.7 317.0,503.0 318.0,504.6 319.0,504.1 320.0,506.0 321.0,507.1 322.0,505.4 323.0,504.8 324.0,505.0 325.0,503.6 326.0,505.8 327.0,505.7 328.0,506.4 329.0,504.9 330.0,506.8 331.0,506.2 332.0,505.7 333.0,506.6 334.0,505.1 335.0,505.6 336.0,505.2 337.0,506.5 338.0,507.8 339.0,506.8 340.0,507.0 341.0,506.9 342.0,504.9 343.0,505.1 344.0,506.6 345.0,507.5 346.0,508.4 347.0,508.2 348.0,508.6 349.0,507.7 350.0,508.3 351.0,507.1 352.0,508.3 353.0,509.2 354.0,510.0 355.0,507.8 356.0,508.8 357.0,508.7 358.0,507.1 359.0,507.4 360.0,507.9 361.0,507.3 362.0,507.2 363.0,506.7 364.0,507.9 365.0,509.1 366.0,509.7 367.0,512.4 368.0,510.0 369.0,510.0 370.0,509.3 371.0,507.5 372.0,507.7 373.0,508.0 374.0,507.3 375.0,507.3 376.0,508.2 377.0,508.8 378.0,509.7 379.0,509.9 380.0,508.8 381.0,507.7 382.0,507.5 383.0,507.9 384.0,508.5 385.0,510.1 386.0,509.8 387.0,510.1 388.0,508.9 389.0,508.1 390.0,509.2 391.0,509.8 392.0,509.8 393.0,510.0 394.0,511.4 395.0,506.8 396.0,509.5 397.0,508.8 398.0,508.9 399.0,508.5 400.0,508.4 401.0,509.9 402.0,508.1 403.0,507.8 404.0,508.4 405.0,508.4 406.0,508.6 407.0,509.0 408.0,509.6 409.0,511.7 410.0,510.4 411.0,509.1 412.0,511.1 413.0,510.9 414.0,511.5 415.0,510.0 416.0,510.9 417.0,509.2 418.0,508.0 419.0,508.7 420.0,508.7 421.0,508.4 422.0,509.3 423.0,508.9 424.0,508.9 425.0,510.3 426.0,511.7 427.0,511.8 428.0,511.3 429.0,510.1 430.0,510.2 431.0,509.0 432.0,508.9 433.0,508.6 434.0,509.8 435.0,511.7 436.0,511.4 437.0,512.2 438.0,510.3 439.0,511.0 440.0,511.9 441.0,512.4 442.0,509.9 443.0,510.1 444.0,510.4 445.0,510.9 446.0,510.5 447.0,510.1 448.0,510.1 449.0,510.5 450.0,509.1 451.0,510.1 452.0,509.6 453.0,508.5 454.0,510.3 455.0,512.1 456.0,511.8 457.0,511.4 458.0,509.8 459.0,510.3 460.0,511.5 461.0,510.8 462.0,511.0 463.0,511.7 464.0,512.2 465.0,511.3 466.0,510.9 467.0,511.1 468.0,510.5 469.0,511.1 470.0,512.2 471.0,511.0 472.0,511.9 473.0,511.5 474.0,513.2 475.0,512.4 476.0,513.8 477.0,512.4 478.0,511.5 479.0,511.0 480.0,512.4 481.0,512.6 482.0,513.1 483.0,514.8 484.0,514.8 485.0,514.9 486.0,513.0 487.0,512.3 488.0,512.6 489.0,514.1 490.0,514.9 491.0,513.5 492.0,515.2 493.0,513.6 494.0,512.7 495.0,512.9 496.0,513.5 497.0,513.1 498.0,513.4 499.0,513.4 500.0,513.3 501.0,514.2 502.0,512.9 503.0,513.7 504.0,512.0 505.0,513.4 506.0,512.4 507.0,514.7 508.0,513.7 509.0,513.4 510.0,514.6 511.0,515.5 512.0,515.6 513.0,515.2 514.0,516.3 515.0,514.9 516.0,514.1 517.0,514.7 518.0,516.0 519.0,515.1 520.0,515.9 521.0,517.3 522.0,516.5 523.0,517.0 524.0,516.1 525.0,516.4 526.0,517.3 527.0,516.6 528.0,517.5 529.0,516.8 530.0,516.5 531.0,514.9 532.0,514.6 533.0,516.3 534.0,516.1 535.0,517.3 536.0,517.6 537.0,516.9 538.0,517.1 539.0,516.4 540.0,515.2 541.0,515.6 542.0,515.0 543.0,516.0 544.0,515.6 545.0,516.3 546.0,516.5 547.0,517.7 548.0,517.3 549.0,519.2 550.0,517.7 551.0,518.1 552.0,517.4 553.0,517.7 554.0,517.8 555.0,517.4 556.0,517.0 557.0,517.7 558.0,517.4 559.0,517.1 560.0,518.2 561.0,517.3 562.0,518.1 563.0,518.6 564.0,519.8 565.0,519.6 566.0,520.3 567.0,518.9 568.0,520.7 569.0,519.5 570.0,519.3 571.0,520.2 572.0,520.0 573.0,519.4 574.0,519.1 575.0,520.0 576.0,520.9 577.0,520.0 578.0,519.5 578.2,519.1 578.5,518.7 578.8,518.3 579.0,517.8 579.2,517.8 579.5,517.7 579.8,517.6 580.0,517.6 580.2,517.4 580.5,517.2 580.8,517.0 581.0,516.8 581.2,516.9 581.5,517.1 581.8,517.2 582.0,517.3 582.2,517.5 582.5,517.6 582.8,517.8 583.0,517.9 583.2,517.8 583.5,517.8 583.8,517.7 584.0,517.6 584.2,517.9 584.5,518.1 584.8,518.3 585.0,518.5 585.2,518.8 585.5,519.0 585.8,519.3 586.0,519.6 586.2,519.5 586.5,519.4 586.8,519.3 587.0,519.2 587.2,519.0 587.5,518.7 587.8,518.5 588.0,518.2 588.2,518.0 588.5,517.9 588.8,517.7 589.0,517.5 589.2,517.4 589.5,517.4 589.8,517.4 590.0,517.3 590.2,517.5 590.5,517.7 590.8,517.9 591.0,518.1 591.2,518.0 591.5,517.9 591.8,517.8 592.0,517.7 592.2,517.8 592.5,517.9 592.8,518.0 593.0,518.1 593.2,518.4 593.5,518.6 593.8,518.9 594.0,519.1 594.2,519.2 594.5,519.2 594.8,519.3 595.0,519.3 595.2,519.3 595.5,519.4 595.8,519.4 596.0,519.4 596.2,519.2 596.5,519.1 596.8,518.9 597.0,518.7 597.2,518.6 597.5,518.5 597.8,518.4 598.0,518.4 598.2,518.2 598.5,518.0 598.8,517.8 599.0,517.7 599.2,517.7 599.5,517.8 599.8,517.8 600.0,517.8 600.2,517.8 600.5,517.7 600.8,517.6 601.0,517.5 601.2,517.5 601.5,517.6 601.8,517.6 602.0,517.7 602.2,517.4 602.5,517.1 602.8,516.7 603.0,516.4 603.2,516.1 603.5,515.8 603.8,515.4 604.0,515.1 604.2,515.1 604.5,515.1 604.8,515.1 605.0,515.1 605.2,514.8 605.5,514.6 605.8,514.4 606.0,514.2 606.2,514.2 606.5,514.2 606.8,514.2 607.0,514.2 607.2,514.2 607.5,514.2 607.8,514.3 608.0,514.3 608.2,514.1 608.5,513.9 608.8,513.7 609.0,513.6 609.2,513.6 609.5,513.7 609.8,513.9 610.0,514.0 610.2,513.9 610.5,513.8 610.8,513.8 611.0,513.7 611.2,513.9 611.5,514.1 611.8,514.3 612.0,514.5 612.2,515.0 612.5,515.4 612.8,515.9 613.0,516.3 613.2,516.1 613.5,515.8 613.8,515.6 614.0,515.3 614.2,515.6 614.5,515.8 614.8,516.0 615.0,516.3 615.2,516.6 615.5,516.9 615.8,517.2 616.0,517.5 616.2,517.8 616.5,518.1 616.8,518.4 617.0,518.7 617.2,518.9 617.5,519.1 617.8,519.2 618.0,519.4 618.2,519.5 618.5,519.5 618.8,519.5 619.0,519.6 619.2,519.6 619.5,519.6 619.8,519.6 620.0,519.7 620.2,519.6 620.5,519.6 620.8,519.5 621.0,519.4 621.2,519.5 621.5,519.5 621.8,519.5 622.0,519.6 622.2,519.3 622.5,519.0 622.8,518.7 623.0,518.5 623.2,518.4 623.5,518.3 623.8,518.2 624.0,518.1 624.2,518.6 624.5,519.1 624.8,519.5 625.0,520.0 625.2,520.0 625.5,519.9 625.8,519.8 626.0,519.8 626.2,520.0 626.5,520.1 626.8,520.3 627.0,520.5 627.2,520.8 627.5,521.1 627.8,521.4 628.0,521.7 628.2,521.5 628.5,521.2 628.8,521.0 629.0,520.7 629.2,520.9 629.5,521.2 629.8,521.4 630.0,521.6 630.2,521.2 630.5,520.8 630.8,520.4 631.0,520.0 631.2,520.2 631.5,520.4 631.8,520.6 632.0,520.8 632.2,520.8 632.5,520.7 632.8,520.7 633.0,520.7 633.2,520.6 633.5,520.5 633.8,520.5 634.0,520.4 634.2,520.2 634.5,520.1 634.8,519.9 635.0,519.7 635.2,519.9 635.5,520.1 635.8,520.3 636.0,520.5 636.2,520.6 636.5,520.6 636.8,520.7 637.0,520.7 637.2,520.8 637.5,520.8 637.8,520.8 638.0,520.9 639.0,520.3 640.0,520.6 641.0,522.0 642.0,522.0 643.0,521.6 644.0,521.7 645.0,521.6 646.0,519.9 647.0,520.8 648.0,521.2 649.0,521.3 650.0,520.9 651.0,521.1 652.0,520.2 653.0,521.4 654.0,522.2 655.0,521.8 656.0,520.6 657.0,520.0 658.0,520.5 659.0,521.3 660.0,522.2 661.0,521.9 662.0,521.1 663.0,521.3 664.0,521.0 665.0,522.1 666.0,521.3 667.0,521.1 668.0,521.2 669.0,521.4 670.0,522.0 671.0,522.7 672.0,522.3 673.0,522.5 674.0,522.5 675.0,522.9 676.0,523.1 677.0,522.1 678.0,521.5 679.0,520.4 680.0,521.2 681.0,521.2 682.0,520.3 683.0,520.8 684.0,520.8 685.0,522.2 686.0,522.6 687.0,523.6 688.0,522.5 689.0,524.0 690.0,521.6 691.0,521.4 692.0,522.1 693.0,521.9 694.0,524.1 695.0,521.6 696.0,521.2 697.0,521.9 698.0,522.0 699.0,521.5 700.0,522.4 701.0,523.0 702.0,523.0 703.0,524.0 704.0,524.1 705.0,524.5 706.0,524.8 707.0,524.0 708.0,524.5 709.0,524.1 710.0,523.6 711.0,524.1 712.0,521.6 713.0,521.8 714.0,521.3 715.0,520.5 716.0,521.2 717.0,521.1 718.0,521.2 719.0,520.4 720.0,520.9 721.0,520.0 722.0,519.6 723.0,517.8 724.0,518.5 725.0,518.1 726.0,517.6 727.0,515.5 728.0,514.1 729.0,513.2 730.0,512.9 731.0,512.7 732.0,513.0 733.0,511.1 734.0,509.8 735.0,510.5 736.0,509.7 737.0,509.6 738.0,509.4 739.0,508.3 740.0,507.6 741.0,506.0 741.5,505.5 741.8,505.2 742.0,504.9 742.2,504.4 742.5,504.0 742.8,503.5 743.0,503.0 743.2,502.9 743.5,502.8 743.8,502.7 744.0,502.6 744.2,502.5 744.5,502.5 744.8,502.4 745.0,502.3 745.2,501.8 745.5,501.2 745.8,500.7 746.0,500.2 746.2,499.8 746.5,499.3 746.8,498.9 747.0,498.4 747.2,497.9 747.5,497.4 747.8,496.9 748.0,496.4 748.2,496.1 748.5,495.9 748.8,495.6 749.0,495.3 749.2,494.9 749.5,494.6 749.8,494.2 750.0,493.8 750.2,493.5 750.5,493.2 750.8,492.8 751.0,492.5 751.2,491.9 751.5,491.3 751.8,490.7 752.0,490.0 752.2,489.5 752.5,489.0 752.8,488.5 753.0,488.0 753.2,487.6 753.5,487.2 753.8,486.9 754.0,486.4 754.2,485.7 754.5,484.9 754.8,484.2 755.0,483.4 755.2,483.1 755.5,482.7 755.8,482.4 756.0,482.0 756.2,481.4 756.5,480.7 756.8,480.0 757.0,479.4 757.2,479.2 757.5,479.0 757.8,478.9 758.0,478.7 758.2,478.2 758.5,477.7 758.8,477.1 759.0,476.5 759.2,475.8 759.5,475.0 759.8,474.2 760.0,473.4 760.2,472.7 760.5,471.9 760.8,471.2 761.0,470.5 761.2,469.7 761.5,469.0 761.8,468.3 762.0,467.6 762.2,466.4 762.5,465.2 762.8,464.0 763.0,462.8 763.2,462.2 763.5,461.7 763.8,461.3 764.0,460.8 764.2,460.4 764.5,460.0 764.8,459.6 765.0,459.2 765.2,458.8 765.5,458.5 765.8,458.1 766.0,457.7 766.2,457.2 766.5,456.8 766.8,456.3 767.0,455.8 767.2,455.6 767.5,455.3 767.8,455.1 768.0,454.8 768.2,454.0 768.5,453.3 768.8,452.5 769.0,451.7 769.2,451.0 769.5,450.4 769.8,449.7 770.0,448.9 770.2,447.9 770.5,446.7 770.8,445.4 771.0,444.3 771.2,443.5 771.5,443.2 771.8,443.2 772.0,443.4 772.2,444.0 772.5,444.8 772.8,445.6 773.0,446.5 773.2,447.2 773.5,447.8 773.8,448.5 774.0,449.2 774.2,449.9 774.5,450.7 774.8,451.5 775.0,452.4 775.2,452.9 775.5,453.5 775.8,454.1 776.0,454.7 776.2,455.8 776.5,456.9 776.8,458.0 777.0,459.2 777.2,460.5 777.5,461.9 777.8,463.4 778.0,464.9 778.2,466.1 778.5,467.5 778.8,468.9 779.0,470.4 779.2,472.1 779.5,474.1 779.8,476.2 780.0,478.5 780.2,480.7 780.5,483.0 780.8,485.7 781.0,488.6 781.2,491.4 781.5,493.2 781.8,494.2 782.0,495.1 782.2,495.8 782.5,496.4 782.8,497.0 783.0,497.5 783.2,497.8 783.5,498.0 783.8,498.3 784.0,498.5 784.2,498.8 784.5,499.1 784.8,499.4 785.0,499.7 785.2,500.0 785.5,500.3 785.8,500.6 786.0,500.9 786.2,501.2 786.5,501.5 786.8,501.8 787.0,502.1 787.2,502.2 787.5,502.4 787.8,502.5 788.0,502.6 788.2,503.0 788.5,503.3 788.8,503.7 789.0,504.0 789.2,504.5 789.5,504.9 789.8,505.4 790.0,505.8 790.2,506.1 790.5,506.3 790.8,506.5 791.0,506.8 791.2,506.9 791.5,507.1 791.8,507.3 792.0,507.4 792.2,507.8 792.5,508.3 792.8,508.7 793.0,509.1 793.2,509.5 793.5,509.9 793.8,510.3 794.0,510.6 794.2,510.7 794.5,510.7 794.8,510.8 795.0,510.8 795.2,511.2 795.5,511.7 795.8,512.2 796.0,512.6 796.2,512.6 796.5,512.6 796.8,512.7 797.0,512.7 797.2,513.2 797.5,513.8 797.8,514.3 798.0,514.9 798.2,515.0 798.5,515.2 798.8,515.3 799.0,515.5 799.2,515.6 799.5,515.6 799.8,515.7 800.0,515.7 800.2,516.0 800.5,516.2 800.8,516.5 801.0,516.7 801.2,517.1 802.0,518.2 803.0,517.8 804.0,519.2 805.0,519.4 806.0,518.9 807.0,519.6 808.0,518.5 809.0,519.3 810.0,520.3 811.0,520.9 812.0,522.5 813.0,522.7 814.0,522.7 815.0,523.8 816.0,523.7 817.0,523.0 818.0,523.0 819.0,524.6 820.0,525.1 821.0,524.5 822.0,525.9 823.0,525.9 824.0,525.4 825.0,525.8 826.0,525.7 827.0,527.3 828.0,525.3 829.0,525.3 830.0,524.5 831.0,524.6 832.0,524.0 833.0,524.7 834.0,525.6 835.0,525.4 836.0,525.7 837.0,525.8 838.0,525.5 839.0,524.2 840.0,525.2 841.0,523.7 842.0,523.3 843.0,524.7 844.0,524.9 845.0,525.0 846.0,524.9 847.0,525.6 848.0,527.4 849.0,526.5 850.0,525.9 851.0,526.8 852.0,525.4 853.0,526.1 854.0,525.7 855.0,525.8 856.0,526.9 857.0,525.7 858.0,527.3 859.0,526.3 860.0,527.2 861.0,525.6 862.0,525.3 863.0,524.7 864.0,525.7 865.0,526.0 866.0,525.5 867.0,525.5 868.0,525.4 869.0,525.6 870.0,524.8 871.0,527.1 872.0,525.7 873.0,526.9 874.0,526.2 875.0,525.1 876.0,524.8 877.0,525.2 878.0,525.3 879.0,525.6 880.0,525.9 881.0,528.3 882.0,528.9 883.0,526.8 884.0,527.5 885.0,527.4 886.0,527.0 887.0,527.8 888.0,528.8 889.0,528.3 890.0,526.9 891.0,528.0 892.0,526.8 893.0,528.0 894.0,526.7 895.0,526.5 896.0,528.2 897.0,529.1 898.0,528.4 899.0,527.3 900.0,525.8 901.0,526.6 902.0,526.1 903.0,528.4 904.0,528.0 905.0,528.1 906.0,527.7 907.0,527.9 908.0,529.2 909.0,527.5 910.0,527.7 911.0,526.9 912.0,527.8 913.0,527.0 914.0,527.8 915.0,528.9 916.0,529.8 917.0,528.4 918.0,528.1 919.0,527.8 920.0,527.6 921.0,526.4 922.0,527.6 923.0,527.3 924.0,526.9 925.0,526.8 926.0,527.7 927.0,528.3 928.0,527.4 929.0,526.0 930.0,526.8 931.0,527.6 932.0,527.8 933.0,527.3 934.0,527.8 935.0,526.4 936.0,526.8 937.0,529.4 938.0,529.1 939.0,530.0 940.0,528.4 941.0,527.0 942.0,528.6 943.0,527.0 944.0,527.1 945.0,527.8 946.0,528.8 947.0,527.8 948.0,528.7 949.0,528.5 950.0,529.0 951.0,527.8 952.0,529.5 953.0,527.8 954.0,529.5 955.0,527.4 956.0,529.6 957.0,529.1 958.0,529.6 959.0,527.9 960.0,528.1 961.0,527.4 962.0,527.3 963.0,528.7 964.0,528.3 965.0,530.1 966.0,531.2 967.0,530.8 968.0,530.0 969.0,528.9 970.0,527.8 971.0,529.1 972.0,528.5 973.0,529.7 974.0,528.4 975.0,527.8 976.0,527.7 977.0,528.6 978.0,528.8 979.0,529.4 980.0,529.1 981.0,529.4 982.0,529.0 983.0,528.5 984.0,527.5 985.0,528.0 986.0,528.5 987.0,529.1 988.0,528.8 989.0,527.8 990.0,528.7 991.0,528.6 992.0,529.4 993.0,528.2 994.0,528.9 995.0,528.9 996.0,527.8 997.0,528.9 998.0,528.6 999.0,530.0 1000.0,529.5 1001.0,528.4 1002.0,528.5 1003.0,527.7 1004.0,528.3 1005.0,528.5 1006.0,528.6 1007.0,528.4 1008.0,528.4 1009.0,528.3 1010.0,527.7 1011.0,528.9 1012.0,529.8 1013.0,530.1 1014.0,530.5 1015.0,530.2 1016.0,530.3 1017.0,530.6 1018.0,531.2 1019.0,530.2 1020.0,530.3 1021.0,528.5 1022.0,528.9 1023.0,526.9 1024.0,527.9 1025.0,526.9 1026.0,529.3 1027.0,529.6 1028.0,530.2 1029.0,529.6 1030.0,528.7 1031.0,528.2 1032.0,528.4 1033.0,529.4 1034.0,528.9 1035.0,528.1 1036.0,527.5 1037.0,527.3 1038.0,528.3 1039.0,529.3 1040.0,530.0 1041.0,530.5 1042.0,529.8 1043.0,531.0 1044.0,530.1 1045.0,530.5 1046.0,530.3 1047.0,530.5 1048.0,530.7 1049.0,530.1 1050.0,529.0 1051.0,529.0 1052.0,529.9 1053.0,529.3 1054.0,528.5 1055.0,529.4 1056.0,529.1 1057.0,530.3 1058.0,528.7 1059.0,529.5 1060.0,529.1 1061.0,529.1 1062.0,528.4 1063.0,528.4 1064.0,528.1 1065.0,528.2 1066.0,529.1 1067.0,530.2 1068.0,529.3 1069.0,530.7 1070.0,530.3 1071.0,529.1 1072.0,529.0 1073.0,528.5 1074.0,529.4 1075.0,529.9 1076.0,530.0 1077.0,529.1 1078.0,528.7 1079.0,529.9 1080.0,528.3 1081.0,530.1 1082.0,530.7 1083.0,529.9 1084.0,529.7 1085.0,528.7 1086.0,530.1 1087.0,530.5 1088.0,530.1 1089.0,530.3 1090.0,528.6 1091.0,527.9 1092.0,529.5 1093.0,529.7 1094.0,529.0 1095.0,529.3 1096.0,529.6 1097.0,528.9 1098.0,530.6 1099.0,529.6 1100.0,531.3 1101.0,529.6 1102.0,529.6 1103.0,527.9 1104.0,529.1 1105.0,528.5 1106.0,530.1 1107.0,531.0 1108.0,531.0 1109.0,530.5 1110.0,531.6 1111.0,531.7 1112.0,531.3 1113.0,531.2 1114.0,529.8 1115.0,529.8 1116.0,530.5 1117.0,529.1 1118.0,529.3 1119.0,528.4 1120.0,528.0 1121.0,528.6 1122.0,530.0 1123.0,530.1 1124.0,530.1 1125.0,529.6 1126.0,529.2 1127.0,530.0 1128.0,530.1 1129.0,529.6 1130.0,529.7 1131.0,530.4 1132.0,528.7 1133.0,529.6 1134.0,529.0 1135.0,529.1 1136.0,527.9 1137.0,527.8 1138.0,529.3 1139.0,529.3 1140.0,529.9 1141.0,529.7 1142.0,530.9 1143.0,530.8 1144.0,530.8 1145.0,529.6 1146.0,528.9 1147.0,529.2 1148.0,530.2 1149.0,530.1 1150.0,529.6 1151.0,528.7 1152.0,528.0 1153.0,529.0 1154.0,528.5 1155.0,529.1 1156.0,528.9 1157.0,529.6 1158.0,530.4 1159.0,530.4 1160.0,529.6 1161.0,530.1 1162.0,528.8 1163.0,529.3 1164.0,529.1 1165.0,530.9 1166.0,531.0 1167.0,530.0 1168.0,530.4 1169.0,530.5 1170.0,530.8 1171.0,530.6 1172.0,529.5 1173.0,529.0 1174.0,528.6 1175.0,529.8 1176.0,530.2 1177.0,530.9 1178.0,531.4 1179.0,530.9 1180.0,531.0 1181.0,530.4 1182.0,531.0 1183.0,530.6 1184.0,530.2 1185.0,530.5 1186.0,529.8 1187.0,529.9 1188.0,530.2 1189.0,530.8 1190.0,531.1 1191.0,530.3 1192.0,529.8 1193.0,527.8 1194.0,528.7 1195.0,529.1 1196.0,529.7 1197.0,529.9 1198.0,529.1 1199.0,528.9 1200.0,528.8 1201.0,529.0 1202.0,529.5 1203.0,530.5 1204.0,529.4 1205.0,530.1 1206.0,530.7 1207.0,529.9 1208.0,530.7 1209.0,529.6 1210.0,530.3 1211.0,529.7 1212.0,530.4 1213.0,529.4 1214.0,529.5 1215.0,528.9 1216.0,528.9 1217.0,529.6 1218.0,530.4 1219.0,530.6 1220.0,530.7 1221.0,530.5 1222.0,530.6 1223.0,530.7 1224.0,530.1 1225.0,530.6 1226.0,529.8 1227.0,530.6 1228.0,530.6 1229.0,530.6 1230.0,531.2 1231.0,530.4 1232.0,530.7 1233.0,529.7 1234.0,528.9 1235.0,529.7 1236.0,531.0 1237.0,531.2 1238.0,531.0 1239.0,530.1 1240.0,530.2 1241.0,529.3 1242.0,529.5 1243.0,530.3 1244.0,528.8 1245.0,530.3 1246.0,531.1 1247.0,530.9 1248.0,531.5 1249.0,530.7 1250.0,531.2 1251.0,530.3 1252.0,529.5 1253.0,529.4 1254.0,530.3 1255.0,530.5 1256.0,531.1 1257.0,530.4 1258.0,530.4 1259.0,530.2 1260.0,530.2 1261.0,529.4 1262.0,529.9 1263.0,530.4 1264.0,529.9 1265.0,530.2 1266.0,530.6 1267.0,530.7 1268.0,529.4 1269.0,529.9 1270.0,530.0 1271.0,529.4 1272.0,530.3 1273.0,530.9 1274.0,530.4 1275.0,530.8 1276.0,530.5 1277.0,529.5 1278.0,530.8 1279.0,531.1 1280.0,531.0 1281.0,532.3 1282.0,532.1 1283.0,531.2 1284.0,530.9 1285.0,530.7 1286.0,531.5 1287.0,531.0 1288.0,530.7 1289.0,529.8 1290.0,530.0 1291.0,529.1 1292.0,529.4 1293.0,531.6 1294.0,530.9 1295.0,530.6 1296.0,530.9 1297.0,530.8 1298.0,530.3 1299.0,531.7 1300.0,530.7 1301.0,530.5 1302.0,530.7 1303.0,531.5 1304.0,532.3 1305.0,531.8 1306.0,531.5 1307.0,530.9 1308.0,530.0 1309.0,530.6 1310.0,531.9 1311.0,531.6 1312.0,533.6 1313.0,529.1 1314.0,528.4 1315.0,530.4 1316.0,530.2 1317.0,530.4 1318.0,530.6 1319.0,531.2 1320.0,531.9 1321.0,529.8 1322.0,531.4 1323.0,531.7 1324.0,529.7 1325.0,529.4 1326.0,530.0 1327.0,531.5 1328.0,531.1 1329.0,532.0 1330.0,530.7 1331.0,531.3 1332.0,531.8 1333.0,531.5 1334.0,531.0 1335.0,530.6 1336.0,528.5 1337.0,530.6 1338.0,529.6 1339.0,530.2 1340.0,531.4 1341.0,531.6 1342.0,530.7 1343.0,532.0 1344.0,532.5 1345.0,532.5 1346.0,533.1 1347.0,533.0 1348.0,531.8 1349.0,532.3 1350.0,531.8 1351.0,530.7 1352.0,530.9 1353.0,530.5 1354.0,531.3 1355.0,531.1 1356.0,532.1 1357.0,532.1 1358.0,530.6 1359.0,531.0 1360.0,531.3 1361.0,531.8 1362.0,531.3 1363.0,530.3 1364.0,531.5 1365.0,531.5 1366.0,531.3 1367.0,531.8 1368.0,531.7 1369.0,531.8 1370.0,531.1 1371.0,530.6 1372.0,530.5 1373.0,530.9 1374.0,531.1 1375.0,532.0 1376.0,531.6 1377.0,531.3 1378.0,532.5 1379.0,531.3 1380.0,531.6 1381.0,530.3 1382.0,531.0 1383.0,531.8 1384.0,531.9 1385.0,531.7 1386.0,531.5 1387.0,531.4 1388.0,531.7 1389.0,531.4 1390.0,531.7 1391.0,531.2 1392.0,531.1 1393.0,531.8 1394.0,531.1 1395.0,532.6 1396.0,532.5 1397.0,531.5 1398.0,531.2 1399.0,532.2 1400.0,532.5 1401.0,533.2 1402.0,531.9 1403.0,533.1 1404.0,534.2 1405.0,533.3 1406.0,533.6 1407.0,533.0 1408.0,533.0 1409.0,531.9 1410.0,531.4 1411.0,531.4 1412.0,532.0 1413.0,531.2 1414.0,532.4 1415.0,532.4 1416.0,532.6 1417.0,532.2 1418.0,531.7 1419.0,532.7 1420.0,533.4 1421.0,532.3 1422.0,534.0 1423.0,533.2 1424.0,533.1 1425.0,533.5 1426.0,533.0 1427.0,531.2 1428.0,531.6 1429.0,532.4 1430.0,533.1 1431.0,533.4 1432.0,533.2 1433.0,532.6 1434.0,534.2 1435.0,532.6 1436.0,532.4 1437.0,532.7 1438.0,532.0 1439.0,532.4 1440.0,532.7 1441.0,532.8 1442.0,532.5 1443.0,532.8 1444.0,531.8 1445.0,533.0 1446.0,532.8 1447.0,533.1 1448.0,534.0 1449.0,533.1 1450.0,531.4 1451.0,532.0 1452.0,531.8 1453.0,532.9 1454.0,531.2 1455.0,532.9 1456.0,533.3 1457.0,533.8 1458.0,534.0 1459.0,533.8 1460.0,531.6 1461.0,531.8 1462.0,532.4 1463.0,534.4 1464.0,534.8 1465.0,534.5 1466.0,533.5 1467.0,532.8 1468.0,531.7 1469.0,531.5 1470.0,533.1 1471.0,533.1 1472.0,531.9 1473.0,533.4 1474.0,533.3 1475.0,535.0 1476.0,534.2 1477.0,533.5 1478.0,532.0 1479.0,531.3 1480.0,532.1 1481.0,533.4 1482.0,533.3 1483.0,533.7 1484.0,534.6 1485.0,532.5 1486.0,532.8 1487.0,531.8 1488.0,533.3 1489.0,534.4 1490.0,534.5 1491.0,535.0 1492.0,535.3 1493.0,533.4 1494.0,534.2 1495.0,534.0 1496.0,534.0 1497.0,534.8 1498.0,534.2 1499.0,534.3 1500.0,533.7 1501.0,533.0 1502.0,534.0 1503.0,533.8 1504.0,534.8 1505.0,534.8 1506.0,534.9 1507.0,534.6 1508.0,534.7 1509.0,533.6 1510.0,534.2 1511.0,533.7 1512.0,533.5 1513.0,532.9 1514.0,533.7 1515.0,533.5 1516.0,534.0 1517.0,533.6 1518.0,534.2 1519.0,533.5 1520.0,533.2 1521.0,533.4 1522.0,534.2 1523.0,534.1 1524.0,534.4 1525.0,534.8 1526.0,533.1 1527.0,534.6 1528.0,533.2 1529.0,534.9 1530.0,534.6 1531.0,534.4 1532.0,533.9 1533.0,532.7 1534.0,534.2 1535.0,534.7 1536.0,534.6 1537.0,533.5 1538.0,534.9 1539.0,533.7 1540.0,534.0 1541.0,535.3 1542.0,535.3 1543.0,534.8 1544.0,533.7 1545.0,534.6 1546.0,533.5 1547.0,533.0 1548.0,532.7 1549.0,534.0 1550.0,533.1 1551.0,535.0 1552.0,534.5 1553.0,534.6 1554.0,535.5 1555.0,534.6 1556.0,534.8 1557.0,533.9 1558.0,533.0 1559.0,533.8 1560.0,534.1 1561.0,533.4 1562.0,534.4 1563.0,534.1 1564.0,535.1 1565.0,534.2 1566.0,535.9 1567.0,536.1 1568.0,535.8 1569.0,535.6 1570.0,534.1 1571.0,534.5 1572.0,535.2 1573.0,535.2 1574.0,533.8 1575.0,533.5 1576.0,532.9 1577.0,534.0 1578.0,534.0 1579.0,534.8 1580.0,535.8 1581.0,536.1 1582.0,537.1 1583.0,536.2 1584.0,535.4 1585.0,536.0 1586.0,534.4 1587.0,534.1 1588.0,535.0 1589.0,534.8 1590.0,535.1 1591.0,533.9 1592.0,533.9 1593.0,534.8 1594.0,534.9 1595.0,535.1 1596.0,535.5 1597.0,536.5 1598.0,536.8 1599.0,535.8 1600.0,535.0 1601.0,534.2 1602.0,535.4 1603.0,535.6 1604.0,536.1 1605.0,534.8 1606.0,535.7 1607.0,535.2 1608.0,535.5 1609.0,535.5 1610.0,534.9 1611.0,534.4 1612.0,535.0 1613.0,534.1 1614.0,535.7 1615.0,535.4 1616.0,534.7 1617.0,535.9 1618.0,535.4 1619.0,535.9 1620.0,535.6 1621.0,533.6 1622.0,534.9 1623.0,534.5 1624.0,535.5 1625.0,535.4 1626.0,534.7 1627.0,535.0 1628.0,534.3 1629.0,535.2 1630.0,534.7 1631.0,534.3 1632.0,534.1 1633.0,535.3 1634.0,535.2 1635.0,535.3 1636.0,535.8 1637.0,535.3 1638.0,535.3 1639.0,533.7 1640.0,533.8 1641.0,536.0 1642.0,535.5 1643.0,536.4 1644.0,536.0 1645.0,535.6 1646.0,536.6 1647.0,534.0 1648.0,535.7 1649.0,535.6 1650.0,535.9 1651.0,535.5 1652.0,535.4 1653.0,536.3 1654.0,535.6 1655.0,534.1 1656.0,534.3 1657.0,533.9 1658.0,537.0 1659.0,537.0 1660.0,536.4 1661.0,537.5 1662.0,536.3 1663.0,535.3 1664.0,535.0 1665.0,535.0 1666.0,535.5 1667.0,534.5 1668.0,536.1 1669.0,536.3 1670.0,535.6 1671.0,535.8 1672.0,535.0 1673.0,535.9 1674.0,535.6 1675.0,535.8 1676.0,536.7 1677.0,536.7 1678.0,535.6 1679.0,536.0 1680.0,534.5 1681.0,532.3 1682.0,532.9 1683.0,533.9 1683.2,533.7 1683.5,533.5 1683.8,533.3 1684.0,533.1 1684.2,533.1 1684.5,533.1 1684.8,533.2 1685.0,533.2 1685.2,532.6 1685.5,532.1 1685.8,531.6 1686.0,531.0 1686.2,531.3 1686.5,531.5 1686.8,531.8 1687.0,532.1 1687.2,531.7 1687.5,531.2 1687.8,530.8 1688.0,530.4 1688.2,530.5 1688.5,530.6 1688.8,530.8 1689.0,530.9 1689.2,531.0 1689.5,531.1 1689.8,531.2 1690.0,531.3 1690.2,531.0 1690.5,530.7 1690.8,530.4 1691.0,530.1 1691.2,530.0 1691.5,530.0 1691.8,529.9 1692.0,529.9 1692.2,530.0 1692.5,530.0 1692.8,530.1 1693.0,530.2 1693.2,529.8 1693.5,529.3 1693.8,528.9 1694.0,528.5 1694.2,528.2 1694.5,527.8 1694.8,527.5 1695.0,527.2 1695.2,527.2 1695.5,527.3 1695.8,527.4 1696.0,527.4 1696.2,527.1 1696.5,526.7 1696.8,526.4 1697.0,526.0 1697.2,526.1 1697.5,526.2 1697.8,526.3 1698.0,526.4 1698.2,526.7 1698.5,527.1 1698.8,527.5 1699.0,527.8 1699.2,527.5 1699.5,527.1 1699.8,526.8 1700.0,526.4 1700.2,526.7 1700.5,527.0 1700.8,527.3 1701.0,527.5 1701.2,527.6 1701.5,527.7 1701.8,527.7 1702.0,527.8 1702.2,527.6 1702.5,527.3 1702.8,527.1 1703.0,526.8 1703.2,526.6 1703.5,526.3 1703.8,526.0 1704.0,525.8 1704.2,525.9 1704.5,526.0 1704.8,526.1 1705.0,526.2 1705.2,526.1 1705.5,526.0 1705.8,525.9 1706.0,525.8 1706.2,526.1 1706.5,526.4 1706.8,526.7 1707.0,527.0 1707.2,526.9 1707.5,526.8 1707.8,526.6 1708.0,526.5 1708.2,526.1 1708.5,525.8 1708.8,525.4 1709.0,525.0 1709.2,525.4 1709.5,525.7 1709.8,526.0 1710.0,526.4 1710.2,526.4 1710.5,526.3 1710.8,526.3 1711.0,526.2 1711.2,526.2 1711.5,526.3 1711.8,526.3 1712.0,526.3 1712.2,526.0 1712.5,525.8 1712.8,525.6 1713.0,525.3 1713.2,525.1 1713.5,524.8 1713.8,524.6 1714.0,524.3 1714.2,524.5 1714.5,524.7 1714.8,524.9 1715.0,525.1 1715.2,524.9 1715.5,524.7 1715.8,524.5 1716.0,524.3 1716.2,524.5 1716.5,524.7 1716.8,524.9 1717.0,525.1 1717.2,525.1 1717.5,525.1 1717.8,525.1 1718.0,525.2 1718.2,525.1 1718.5,525.1 1718.8,525.1 1719.0,525.1 1719.2,525.6 1719.5,526.1 1719.8,526.6 1720.0,527.1 1720.2,527.1 1720.5,527.1 1720.8,527.1 1721.0,527.1 1721.2,527.1 1721.5,527.1 1721.8,527.0 1722.0,527.0 1722.2,527.1 1722.5,527.1 1722.8,527.1 1723.0,527.1 1723.2,527.3 1723.5,527.5 1723.8,527.6 1724.0,527.8 1724.2,528.2 1724.5,528.6 1724.8,528.9 1725.0,529.3 1725.2,529.3 1725.5,529.3 1725.8,529.3 1726.0,529.2 1726.2,529.0 1726.5,528.8 1726.8,528.6 1727.0,528.3 1727.2,528.3 1727.5,528.3 1727.8,528.3 1728.0,528.3 1728.2,528.6 1728.5,528.8 1728.8,529.1 1729.0,529.4 1729.2,529.3 1729.5,529.2 1729.8,529.2 1730.0,529.1 1730.2,529.3 1730.5,529.5 1730.8,529.7 1731.0,530.0 1731.2,530.0 1731.5,530.1 1731.8,530.2 1732.0,530.2 1732.2,530.5 1732.5,530.8 1732.8,531.1 1733.0,531.3 1733.2,532.4 1733.5,533.6 1733.8,534.7 1734.0,535.8 1734.2,534.8 1734.5,533.8 1734.8,532.8 1735.0,531.7 1735.2,532.1 1735.5,532.4 1735.8,532.8 1736.0,533.1 1736.2,533.0 1736.5,533.0 1736.8,532.9 1737.0,532.8 1737.2,533.3 1737.5,533.8 1737.8,534.3 1738.0,534.8 1738.2,534.5 1738.5,534.2 1738.8,533.9 1739.0,533.6 1739.2,533.6 1739.5,533.5 1739.8,533.5 1740.0,533.5 1740.2,533.7 1740.5,534.0 1740.8,534.2 1741.0,534.5 1741.2,534.4 1741.5,534.4 1741.8,534.3 1742.0,534.3 1742.2,534.1 1742.5,534.0 1742.8,533.8 1743.0,533.7 1744.0,534.7 1745.0,535.0 1746.0,534.8 1747.0,535.1 1748.0,534.4 1749.0,535.0 1750.0,534.5 1751.0,534.3 1752.0,535.1 1753.0,536.4 1754.0,536.0 1755.0,536.1 1756.0,535.4 1757.0,535.4 1758.0,535.1 1759.0,535.8 1760.0,536.0 1761.0,536.0 1762.0,536.1 1763.0,536.0 1764.0,536.5 1765.0,536.3 1766.0,537.4 1767.0,537.8 1768.0,537.1 1769.0,536.9 1770.0,535.1 1771.0,536.6 1772.0,536.1 1773.0,536.1 1774.0,536.1 1775.0,535.7 1776.0,534.2 1777.0,537.1 1778.0,537.5 1779.0,537.1 1780.0,536.7 1781.0,536.2 1782.0,537.1 1783.0,536.5 1784.0,536.4 1785.0,536.9 1786.0,536.9 1787.0,536.6 1788.0,537.7 1789.0,535.4 1790.0,534.4 1791.0,535.5 1792.0,537.0 1793.0,537.0 1794.0,536.7 1795.0,536.5 1796.0,536.6 1797.0,536.6 1798.0,536.6 1799.0,536.7 1800.0,536.4 1801.0,537.8 1802.0,537.1 1803.0,536.8 1804.0,536.2 1805.0,536.1 1806.0,535.3 1807.0,536.2 1808.0,536.3 1809.0,535.7 1810.0,536.1 1811.0,536.3 1812.0,536.1 1813.0,536.6 1814.0,536.2 1815.0,537.1 1816.0,535.6 1817.0,535.5 1818.0,535.7 1819.0,535.9 1820.0,535.5 1821.0,536.2 1822.0,537.4 1823.0,537.8 1824.0,536.1 1825.0,537.2 1826.0,535.8 1827.0,537.5 1828.0,537.6 1829.0,538.3 1830.0,538.8 1831.0,538.6 1832.0,538.5 1833.0,537.8 1834.0,537.6 1835.0,536.8 1836.0,537.5 1837.0,537.8 1838.0,537.2 1839.0,537.4 1840.0,536.7 1841.0,537.3 1842.0,536.0 1843.0,535.0 1844.0,535.2 1845.0,535.6 1846.0,537.2 1847.0,538.4 1848.0,538.6 1849.0,538.3 1850.0,536.8 1851.0,536.4 1852.0,536.0 1853.0,536.5 1854.0,536.6 1855.0,537.5 1856.0,538.2 1857.0,537.6 1858.0,537.9 1859.0,536.0 1860.0,536.7 1861.0,536.8 1862.0,537.7 1863.0,537.3 1864.0,536.9 1865.0,537.0 1866.0,536.5 1867.0,536.4 1868.0,537.7 1869.0,537.4 1870.0,538.7 1871.0,539.4 1872.0,537.5 1873.0,537.2 1874.0,535.6 1875.0,534.4 1876.0,536.0 1877.0,537.4 1878.0,536.0 1879.0,536.1 1880.0,535.9 1881.0,535.5 1882.0,536.4 1883.0,536.5 1884.0,537.0 1885.0,537.7 1886.0,537.2 1887.0,538.3 1888.0,537.5 1889.0,536.8 1890.0,536.8 1891.0,537.5 1892.0,536.3 1893.0,537.8 1894.0,535.8 1895.0,535.5 1896.0,535.6 1897.0,535.1 1898.0,535.7 1899.0,537.5 1900.0,537.1 1901.0,538.3 1902.0,538.4 1903.0,537.6 1904.0,536.2 1905.0,535.9 1906.0,537.0 1907.0,538.1 1908.0,536.7 1909.0,536.3 1910.0,536.5 1911.0,536.9 1912.0,536.8 1913.0,535.8 1914.0,535.9 1915.0,536.6 1916.0,536.8 1917.0,536.3 1918.0,535.5 1919.0,536.6 1920.0,536.6 1921.0,536.8 1922.0,536.6 1923.0,536.4"/>
<polyline fill="none" stroke="#ff0000" stroke-width="7.0" stroke-linejoin="miter" stroke-miterlimit="2" shape-rendering="crispEdges" points="140.0,732.7 141.0,732.7 142.0,732.7 143.0,732.7 144.0,734.1 145.0,737.9 146.0,736.2 147.0,736.8 148.0,732.6 149.0,733.6 150.0,732.9 151.0,734.1 152.0,734.0 153.0,734.6 154.0,735.1 155.0,734.2 156.0,733.9 157.0,734.6 158.0,734.6 159.0,734.4 160.0,734.6 161.0,735.1 162.0,735.9 163.0,734.5 164.0,735.6 165.0,735.6 166.0,734.3 167.0,734.4 168.0,735.5 169.0,735.4 170.0,734.4 171.0,733.5 172.0,732.2 173.0,732.0 174.0,733.0 175.0,733.8 176.0,734.3 177.0,733.7 178.0,733.7 179.0,732.9 180.0,733.1 181.0,734.2 182.0,733.8 183.0,735.3 184.0,734.9 185.0,736.0 186.0,734.6 187.0,733.5 188.0,734.0 189.0,735.2 190.0,734.9 191.0,733.0 192.0,732.6 193.0,731.5 194.0,732.9 195.0,733.1 196.0,732.4 197.0,734.2 198.0,731.4 199.0,732.7 200.0,732.6 201.0,733.3 202.0,734.6 203.0,733.4 204.0,732.3 205.0,732.8 206.0,733.4 207.0,733.5 208.0,733.6 209.0,734.2 210.0,732.9 211.0,733.1 212.0,735.1 213.0,734.7 214.0,734.0 215.0,732.7 216.0,733.8 217.0,734.4 218.0,734.6 219.0,734.6 220.0,735.0 221.0,733.3 222.0,732.4 223.0,732.5 224.0,732.5 225.0,733.7 226.0,731.5 227.0,733.3 228.0,732.6 229.0,732.5 230.0,731.5 231.0,733.1 232.0,733.3 233.0,736.3 234.0,734.0 235.0,733.6 236.0,734.3 237.0,734.3 238.0,733.6 239.0,732.6 240.0,734.6 241.0,734.2 242.0,734.2 243.0,734.3 244.0,735.9 245.0,736.2 246.0,736.1 247.0,734.9 248.0,734.1 249.0,732.7 250.0,732.4 251.0,733.9 252.0,733.4 253.0,734.0 254.0,733.7 255.0,733.9 256.0,732.3 257.0,733.3 258.0,735.5 259.0,735.3 260.0,735.1 261.0,734.4 262.0,735.4 263.0,734.5 264.0,734.9 265.0,735.1 266.0,734.4 267.0,734.5 268.0,732.8 269.0,735.1 270.0,734.4 271.0,734.9 272.0,734.9 273.0,734.1 274.0,734.3 275.0,733.0 276.0,732.7 277.0,734.8 278.0,734.4 279.0,734.4 280.0,734.2 281.0,732.8 282.0,732.9 283.0,733.5 284.0,734.7 285.0,734.9 286.0,733.8 287.0,734.6 288.0,733.2 289.0,733.6 290.0,733.2 291.0,734.3 292.0,734.2 293.0,733.5 294.0,733.7 295.0,734.5 296.0,735.5 297.0,735.4 298.0,735.1 299.0,735.8 300.0,736.6 301.0,734.4 302.0,734.8 303.0,734.0 304.0,735.5 305.0,735.0 306.0,735.8 307.0,735.5 308.0,736.4 309.0,736.6 310.0,737.0 311.0,734.6 312.0,734.9 313.0,738.0 314.0,736.6 315.0,737.0 316.0,737.5 317.0,735.3 318.0,737.0 319.0,735.5 320.0,734.2 321.0,736.1 322.0,734.8 323.0,734.9 324.0,736.0 325.0,736.4 326.0,735.4 327.0,735.4 328.0,733.7 329.0,733.2 330.0,734.5 331.0,735.2 332.0,735.5 333.0,736.2 334.0,736.2 335.0,736.6 336.0,736.2 337.0,737.5 338.0,735.2 339.0,735.2 340.0,734.4 341.0,733.8 342.0,736.0 343.0,735.4 344.0,735.4 345.0,736.3 346.0,735.2 347.0,735.4 348.0,734.7 349.0,735.7 350.0,735.5 351.0,734.7 352.0,736.1 353.0,735.4 354.0,734.1 355.0,734.8 356.0,734.4 357.0,736.7 358.0,734.9 359.0,736.8 360.0,736.2 361.0,736.1 362.0,735.2 363.0,735.4 364.0,736.0 365.0,734.8 366.0,733.8 367.0,735.0 368.0,735.0 369.0,735.7 370.0,736.4 371.0,735.9 372.0,737.2 373.0,736.3 374.0,736.1 375.0,736.3 376.0,736.6 377.0,736.8 378.0,737.4 379.0,736.4 380.0,735.9 381.0,736.5 382.0,737.7 383.0,737.7 384.0,738.4 385.0,738.9 386.0,739.2 387.0,738.1 388.0,739.2 389.0,738.5 390.0,738.7 391.0,738.2 392.0,738.3 393.0,738.3 394.0,738.4 395.0,737.8 396.0,737.8 397.0,737.5 398.0,738.4 399.0,738.7 400.0,739.8 401.0,740.7 402.0,739.3 403.0,739.6 404.0,739.9 405.0,739.6 406.0,739.0 407.0,740.4 408.0,740.1 409.0,739.6 410.0,741.3 411.0,739.4 412.0,740.6 413.0,740.5 414.0,740.6 415.0,740.7 416.0,739.6 417.0,740.2 418.0,740.0 419.0,741.2 420.0,741.8 421.0,741.6 422.0,741.6 423.0,741.3 424.0,741.0 425.0,740.9 426.0,740.6 427.0,742.2 428.0,740.6 429.0,741.6 430.0,743.4 431.0,742.3 432.0,743.1 433.0,741.9 434.0,742.2 435.0,742.2 436.0,743.1 437.0,743.1 438.0,743.5 439.0,743.3 440.0,743.7 441.0,743.5 442.0,743.4 443.0,744.0 444.0,744.8 445.0,746.6 446.0,744.8 447.0,745.8 448.0,744.5 449.0,745.4 450.0,746.0 451.0,746.4 452.0,747.1 453.0,745.9 454.0,747.2 455.0,747.4 456.0,745.7 457.0,747.1 458.0,746.2 459.0,746.4 460.0,745.8 461.0,747.6 462.0,748.3 463.0,748.1 464.0,749.8 465.0,751.7 466.0,751.7 467.0,750.8 468.0,752.7 469.0,750.1 470.0,750.6 471.0,750.3 472.0,749.7 473.0,751.0 474.0,750.5 475.0,750.7 476.0,752.1 477.0,750.8 478.0,751.6 479.0,752.2 480.0,753.5 481.0,752.5 482.0,752.4 483.0,753.1 484.0,752.6 485.0,753.9 486.0,753.5 487.0,753.0 488.0,753.0 489.0,755.5 490.0,755.4 491.0,754.3 492.0,755.2 493.0,753.7 494.0,753.5 495.0,755.4 496.0,754.6 497.0,753.8 498.0,753.5 499.0,751.7 500.0,753.3 501.0,755.7 502.0,755.4 503.0,755.6 504.0,753.8 505.0,754.5 506.0,755.3 507.0,755.5 508.0,754.9 509.0,756.1 510.0,756.2 511.0,757.2 512.0,756.4 513.0,756.7 514.0,756.3 515.0,756.0 516.0,755.6 517.0,756.0 518.0,757.0 519.0,757.3 520.0,758.4 521.0,758.5 522.0,758.5 523.0,756.8 524.0,757.1 525.0,757.1 526.0,756.2 527.0,756.9 528.0,757.3 529.0,757.1 530.0,757.0 531.0,756.7 532.0,757.7 533.0,757.4 534.0,757.8 535.0,757.3 536.0,753.6 537.0,758.9 538.0,758.9 539.0,759.5 540.0,759.2 541.0,760.3 542.0,760.8 543.0,760.6 544.0,759.5 545.0,761.0 546.0,760.6 547.0,760.3 548.0,760.2 549.0,760.8 550.0,760.7 551.0,760.1 552.0,760.1 553.0,760.6 554.0,760.3 555.0,760.4 556.0,762.2 557.0,761.6 558.0,761.0 559.0,760.8 560.0,760.0 561.0,761.2 562.0,762.2 563.0,762.9 564.0,761.0 565.0,761.7 566.0,763.0 566.5,762.4 566.8,762.1 567.0,761.8 567.2,761.7 567.5,761.6 567.8,761.5 568.0,761.4 568.2,761.5 568.5,761.7 568.8,761.8 569.0,762.0 569.2,761.9 569.5,761.7 569.8,761.6 570.0,761.5 570.2,761.7 570.5,761.8 570.8,761.9 571.0,762.1 571.2,762.3 571.5,762.5 571.8,762.7 572.0,763.0 572.2,763.1 572.5,763.3 572.8,763.4 573.0,763.6 573.2,763.3 573.5,763.0 573.8,762.6 574.0,762.3 574.2,762.8 574.5,763.2 574.8,763.6 575.0,764.0 575.2,763.5 575.5,762.9 575.8,762.4 576.0,761.8 576.2,762.0 576.5,762.2 576.8,762.4 577.0,762.5 577.2,763.0 577.5,763.5 577.8,764.0 578.0,764.5 578.2,764.1 578.5,763.7 578.8,763.3 579.0,762.9 579.2,763.1 579.5,763.4 579.8,763.6 580.0,763.9 580.2,764.1 580.5,764.2 580.8,764.4 581.0,764.5 581.2,764.3 581.5,764.0 581.8,763.8 582.0,763.5 582.2,763.5 582.5,763.5 582.8,763.4 583.0,763.4 583.2,763.5 583.5,763.6 583.8,763.7 584.0,763.8 584.2,764.1 584.5,764.5 584.8,764.8 585.0,765.2 585.2,765.1 585.5,765.0 585.8,765.0 586.0,764.9 586.2,764.7 586.5,764.5 586.8,764.3 587.0,764.1 587.2,764.0 587.5,763.9 587.8,763.8 588.0,763.8 588.2,763.4 588.5,763.0 588.8,762.7 589.0,762.3 589.2,762.6 589.5,762.8 589.8,763.1 590.0,763.4 590.2,763.4 590.5,763.3 590.8,763.3 591.0,763.2 591.2,763.2 591.5,763.2 591.8,763.2 592.0,763.2 592.2,762.6 592.5,762.1 592.8,761.6 593.0,761.1 593.2,760.7 593.5,760.4 593.8,760.0 594.0,759.7 594.2,759.1 594.5,758.5 594.8,757.9 595.0,757.3 595.2,757.6 595.5,757.8 595.8,758.1 596.0,758.5 596.2,758.4 596.5,758.3 596.8,758.2 597.0,758.2 597.2,758.1 597.5,758.1 597.8,758.1 598.0,758.2 598.2,758.3 598.5,758.5 598.8,758.7 599.0,758.9 599.2,759.1 599.5,759.3 599.8,759.5 600.0,759.8 600.2,760.0 600.5,760.3 600.8,760.6 601.0,760.9 601.2,761.2 601.5,761.4 601.8,761.6 602.0,761.8 602.2,762.3 602.5,762.7 602.8,763.1 603.0,763.5 603.2,763.8 603.5,764.1 603.8,764.4 604.0,764.7 604.2,764.4 604.5,764.0 604.8,763.7 605.0,763.4 605.2,763.6 605.5,763.8 605.8,763.9 606.0,764.1 606.2,764.0 606.5,763.8 606.8,763.6 607.0,763.5 607.2,763.7 607.5,763.9 607.8,764.0 608.0,764.2 608.2,764.1 608.5,764.0 608.8,763.9 609.0,763.8 609.2,764.0 609.5,764.2 609.8,764.5 610.0,764.7 610.2,764.8 610.5,765.0 610.8,765.1 611.0,765.2 611.2,765.3 611.5,765.3 611.8,765.3 612.0,765.4 612.2,765.3 612.5,765.3 612.8,765.3 613.0,765.2 613.2,765.5 613.5,765.7 613.8,766.0 614.0,766.2 614.2,766.3 614.5,766.3 614.8,766.4 615.0,766.5 615.2,766.5 615.5,766.6 615.8,766.6 616.0,766.6 616.2,766.3 616.5,766.1 616.8,765.8 617.0,765.5 617.2,765.8 617.5,766.2 617.8,766.5 618.0,766.9 618.2,766.6 618.5,766.3 618.8,766.1 619.0,765.8 619.2,766.0 619.5,766.1 619.8,766.3 620.0,766.5 620.2,766.4 620.5,766.2 620.8,766.1 621.0,765.9 621.2,766.0 621.5,766.1 621.8,766.1 622.0,766.2 622.2,766.3 622.5,766.4 622.8,766.5 623.0,766.6 623.2,766.7 623.5,766.7 623.8,766.7 624.0,766.7 624.2,767.1 624.5,767.4 624.8,767.7 625.0,768.0 625.2,767.9 625.5,767.8 625.8,767.7 626.0,767.6 626.2,768.0 627.0,769.3 628.0,767.6 629.0,768.4 630.0,769.2 631.0,768.4 632.0,767.9 633.0,766.8 634.0,767.8 635.0,766.5 636.0,768.0 637.0,768.3 638.0,768.4 639.0,768.9 640.0,767.7 641.0,767.8 642.0,767.7 643.0,766.6 644.0,767.7 645.0,767.0 646.0,767.4 647.0,767.1 648.0,768.1 649.0,768.0 650.0,767.9 651.0,768.0 652.0,767.9 653.0,767.0 654.0,765.6 655.0,767.4 656.0,767.2 657.0,767.3 658.0,768.9 659.0,767.4 660.0,766.9 661.0,767.9 662.0,768.9 663.0,767.9 664.0,769.0 665.0,768.5 666.0,767.1 667.0,767.6 668.0,768.0 669.0,767.6 670.0,767.6 671.0,768.6 672.0,767.5 673.0,768.3 674.0,768.6 675.0,768.5 676.0,768.3 677.0,768.1 678.0,768.9 679.0,768.1 680.0,768.1 681.0,769.0 682.0,767.2 683.0,767.8 684.0,768.4 685.0,767.4 686.0,767.3 687.0,767.8 688.0,767.3 689.0,767.4 690.0,768.1 691.0,767.9 692.0,768.4 693.0,767.0 694.0,768.9 695.0,768.1 696.0,767.6 697.0,766.8 698.0,765.3 699.0,763.9 700.0,764.7 701.0,766.9 702.0,765.8 703.0,766.1 704.0,766.7 705.0,766.9 706.0,765.8 707.0,767.2 708.0,766.2 709.0,767.0 710.0,765.9 711.0,765.6 712.0,766.5 713.0,766.9 714.0,765.9 715.0,766.3 716.0,764.1 717.0,765.1 718.0,765.1 719.0,764.9 720.0,765.0 721.0,765.1 722.0,765.2 723.0,766.0 724.0,765.2 725.0,765.4 726.0,764.9 727.0,765.9 728.0,766.2 729.0,764.7 730.0,765.8 731.0,764.7 732.0,764.4 733.0,761.9 733.8,761.6 734.0,761.5 734.0,761.3 734.3,760.0 734.5,758.7 734.8,757.4 735.0,756.3 735.0,756.4 735.3,756.7 735.5,756.9 735.8,757.2 736.0,757.4 736.0,757.3 736.3,756.8 736.5,756.4 736.8,755.9 737.0,755.5 737.0,755.4 737.3,754.8 737.5,754.1 737.8,753.4 738.0,752.7 738.0,752.6 738.3,752.0 738.5,751.4 738.8,750.8 739.0,750.2 739.0,750.1 739.3,749.2 739.5,748.3 739.8,747.5 740.0,746.8 740.0,746.6 740.3,745.8 740.5,745.0 740.8,744.2 741.0,743.5 741.0,743.3 741.3,742.0 741.5,740.8 741.8,739.5 742.0,738.5 742.0,738.2 742.3,736.8 742.5,735.4 742.8,734.1 743.0,733.0 743.0,732.8 743.3,731.8 743.5,730.8 743.8,729.9 744.0,729.2 744.0,729.0 744.3,727.9 744.5,726.9 744.8,725.8 745.0,725.0 745.0,724.8 745.3,724.0 745.5,723.1 745.8,722.2 746.0,721.6 746.0,721.4 746.3,720.7 746.5,719.9 746.8,719.1 747.0,718.5 747.0,718.3 747.3,717.3 747.5,716.2 747.8,715.2 748.0,714.3 748.0,714.2 748.3,713.6 748.5,713.1 748.8,712.5 749.0,712.1 749.0,711.8 749.3,710.8 749.5,709.8 749.8,708.7 750.0,707.9 750.0,707.8 750.3,707.1 750.5,706.5 750.8,705.8 751.0,705.3 751.0,705.1 751.3,704.3 751.5,703.5 751.8,702.7 752.0,702.1 752.0,701.9 752.3,700.9 752.5,699.9 752.8,698.9 753.0,698.0 753.0,697.8 753.3,696.8 753.5,695.8 753.8,694.7 754.0,693.9 754.0,693.6 754.3,692.2 754.5,690.8 754.8,689.3 755.0,688.2 755.0,688.0 755.3,686.9 755.5,685.9 755.8,684.8 756.0,684.0 756.0,683.7 756.3,682.7 756.5,681.7 756.8,680.6 757.0,679.8 757.0,679.6 757.3,678.4 757.5,677.2 757.8,676.0 758.0,675.1 758.0,674.9 758.3,673.9 758.5,672.9 758.8,671.9 759.0,671.2 759.0,671.1 759.3,670.7 759.5,670.3 759.8,669.9 760.0,669.5 760.0,669.3 760.3,668.1 760.5,666.9 760.8,665.7 761.0,664.8 761.0,664.6 761.3,663.6 761.5,662.6 761.8,661.6 762.0,660.8 762.0,660.7 762.3,659.8 762.5,659.0 762.8,658.1 763.0,657.3 763.0,657.2 763.3,656.7 763.5,656.4 763.8,656.2 764.0,656.4 764.0,656.3 764.3,655.9 764.5,655.8 764.8,655.9 765.0,656.1 765.0,656.3 765.3,657.6 765.5,659.0 765.8,660.7 766.0,662.5 766.0,662.9 766.3,665.3 766.5,667.7 766.8,670.7 767.0,673.3 767.0,673.9 767.3,676.9 767.5,679.4 767.8,681.7 768.0,683.4 768.0,683.9 768.3,686.1 768.5,688.2 768.8,690.3 769.0,691.8 769.0,692.2 769.3,693.7 769.5,695.2 769.8,696.7 770.0,697.8 770.0,698.1 770.3,699.7 770.5,701.3 770.8,702.8 771.0,704.0 771.0,704.3 771.3,705.7 771.5,707.1 771.8,708.5 772.0,709.6 772.0,709.9 772.3,711.5 772.5,713.1 772.8,714.7 773.0,716.0 773.0,716.3 773.3,717.9 773.5,719.5 773.8,721.1 774.0,722.4 774.0,722.8 774.3,724.5 774.5,726.2 774.8,728.0 775.0,729.4 775.0,729.8 775.3,731.5 775.5,733.3 775.8,735.1 776.0,736.5 776.0,736.8 776.3,738.4 776.5,740.2 776.8,742.0 777.0,743.6 777.0,744.0 777.3,746.6 777.5,750.1 777.8,753.7 778.0,756.1 778.0,756.6 778.3,758.2 778.5,758.7 778.8,759.2 779.0,759.6 779.0,759.7 779.3,760.2 779.5,760.7 779.8,761.1 780.0,761.5 780.0,761.5 780.3,761.6 780.5,761.8 780.8,761.9 781.0,762.0 781.0,762.0 781.3,762.2 781.5,762.3 781.8,762.4 782.0,762.5 782.0,762.5 782.3,762.6 782.5,762.8 782.8,762.9 783.0,762.9 783.0,763.0 783.3,763.2 783.5,763.5 783.8,763.7 784.0,763.9 784.0,763.9 784.3,763.8 784.5,763.6 784.8,763.5 785.0,763.4 785.0,763.4 785.3,763.5 785.5,763.6 785.8,763.7 786.0,763.8 786.0,763.9 786.3,764.5 786.5,765.0 786.8,765.6 787.0,766.0 787.0,766.0 787.3,766.0 787.5,765.9 787.8,765.9 788.0,765.8 788.0,765.8 788.3,765.8 788.5,765.8 788.8,765.8 789.0,765.8 789.0,765.8 789.3,765.9 789.5,766.1 789.8,766.2 790.0,766.3 790.0,766.4 790.3,766.8 790.5,767.3 790.8,767.8 791.0,768.2 791.0,768.2 791.3,768.2 791.5,768.1 791.8,768.1 792.0,768.1 792.0,768.2 792.3,768.7 792.5,769.2 792.8,769.8 793.0,770.2 793.0,770.2 793.3,770.3 793.5,770.3 794.0,770.4 795.0,770.9 796.0,769.3 797.0,769.7 798.0,768.0 799.0,768.9 800.0,769.9 801.0,770.8 802.0,770.7 803.0,772.7 804.0,772.5 805.0,771.7 806.0,771.3 807.0,771.5 808.0,771.9 809.0,773.3 810.0,773.8 811.0,774.9 812.0,774.8 813.0,773.6 814.0,773.7 815.0,774.7 816.0,773.2 817.0,774.0 818.0,772.8 819.0,772.2 820.0,772.6 821.0,773.4 822.0,773.7 823.0,773.4 824.0,773.4 825.0,772.0 826.0,773.9 827.0,774.6 828.0,774.0 829.0,772.9 830.0,773.4 831.0,774.8 832.0,773.9 833.0,772.8 834.0,773.5 835.0,772.8 836.0,773.4 837.0,774.7 838.0,774.6 839.0,774.7 840.0,775.3 841.0,772.8 842.0,773.7 843.0,774.3 844.0,774.3 845.0,774.4 846.0,772.9 847.0,774.1 848.0,773.9 849.0,773.9 850.0,773.2 851.0,772.8 852.0,773.5 853.0,774.4 854.0,774.1 855.0,775.0 856.0,774.2 857.0,773.4 858.0,772.9 859.0,774.6 860.0,774.4 861.0,773.9 862.0,773.7 863.0,773.2 864.0,773.8 865.0,773.6 866.0,774.1 867.0,774.4 868.0,773.9 869.0,773.8 870.0,774.5 871.0,773.0 872.0,774.0 873.0,774.6 874.0,773.8 875.0,774.9 876.0,774.5 877.0,774.5 878.0,773.8 879.0,774.2 880.0,774.5 881.0,775.4 882.0,774.9 883.0,774.3 884.0,773.0 885.0,773.2 886.0,772.8 887.0,773.1 888.0,773.7 889.0,774.6 890.0,775.1 891.0,775.4 892.0,775.2 893.0,775.7 894.0,774.0 895.0,773.9 896.0,774.1 897.0,773.5 898.0,774.8 899.0,775.5 900.0,776.3 901.0,775.7 902.0,774.1 903.0,774.3 904.0,774.0 905.0,773.8 906.0,774.0 907.0,775.5 908.0,775.6 909.0,774.0 910.0,773.8 911.0,772.5 912.0,774.5 913.0,773.7 914.0,774.3 915.0,774.1 916.0,774.7 917.0,774.6 918.0,773.7 919.0,773.9 920.0,774.2 921.0,775.8 922.0,774.2 923.0,773.7 924.0,774.4 925.0,774.7 926.0,774.7 927.0,774.5 928.0,774.1 929.0,774.3 930.0,773.9 931.0,772.0 932.0,773.2 933.0,773.5 934.0,772.5 935.0,774.3 936.0,775.4 937.0,775.4 938.0,775.9 939.0,774.0 940.0,774.6 941.0,774.9 942.0,775.7 943.0,775.1 944.0,775.9 945.0,775.9 946.0,775.5 947.0,774.2 948.0,774.3 949.0,774.2 950.0,773.8 951.0,775.1 952.0,774.1 953.0,775.3 954.0,774.6 955.0,776.6 956.0,777.2 957.0,776.0 958.0,776.8 959.0,776.7 960.0,775.8 961.0,776.0 962.0,775.4 963.0,774.6 964.0,774.9 965.0,774.8 966.0,773.8 967.0,773.4 968.0,775.2 969.0,774.4 970.0,775.6 971.0,775.6 972.0,774.7 973.0,772.6 974.0,773.4 975.0,773.8 976.0,774.3 977.0,774.9 978.0,775.1 979.0,775.2 980.0,776.0 981.0,777.0 982.0,777.3 983.0,775.2 984.0,776.9 985.0,775.0 986.0,775.7 987.0,774.1 988.0,774.7 989.0,773.9 990.0,775.3 991.0,775.3 992.0,775.0 993.0,774.7 994.0,775.1 995.0,774.6 996.0,775.0 997.0,774.8 998.0,775.9 999.0,775.6 1000.0,775.4 1001.0,775.6 1002.0,774.9 1003.0,775.1 1004.0,774.8 1005.0,776.2 1006.0,777.3 1007.0,775.7 1008.0,775.1 1009.0,775.4 1010.0,777.2 1011.0,775.7 1012.0,775.4 1013.0,774.7 1014.0,774.6 1015.0,775.1 1016.0,775.0 1017.0,775.1 1018.0,775.2 1019.0,775.7 1020.0,776.4 1021.0,776.5 1022.0,774.4 1023.0,774.8 1024.0,774.0 1025.0,775.3 1026.0,775.3 1027.0,775.0 1028.0,775.0 1029.0,775.9 1030.0,775.7 1031.0,777.0 1032.0,777.6 1033.0,773.5 1034.0,777.6 1035.0,777.0 1036.0,776.0 1037.0,777.0 1038.0,776.3 1039.0,775.8 1040.0,774.9 1041.0,775.8 1042.0,775.1 1043.0,775.7 1044.0,776.2 1045.0,775.5 1046.0,775.3 1047.0,775.1 1048.0,775.7 1049.0,775.1 1050.0,775.2 1051.0,776.0 1052.0,777.7 1053.0,776.3 1054.0,777.3 1055.0,776.7 1056.0,776.2 1057.0,774.4 1058.0,774.5 1059.0,773.1 1060.0,775.2 1061.0,775.0 1062.0,776.5 1063.0,775.6 1064.0,775.7 1065.0,774.5 1066.0,775.6 1067.0,775.8 1068.0,775.6 1069.0,776.6 1070.0,776.3 1071.0,776.8 1072.0,777.2 1073.0,778.1 1074.0,776.9 1075.0,776.8 1076.0,777.3 1077.0,777.4 1078.0,777.2 1079.0,776.8 1080.0,776.6 1081.0,776.2 1082.0,776.7 1083.0,774.5 1084.0,775.3 1085.0,776.9 1086.0,776.0 1087.0,776.4 1088.0,776.8 1089.0,776.2 1090.0,775.2 1091.0,775.4 1092.0,776.2 1093.0,776.3 1094.0,777.0 1095.0,776.0 1096.0,776.3 1097.0,777.1 1098.0,778.8 1099.0,777.4 1100.0,776.5 1101.0,775.8 1102.0,777.5 1103.0,776.3 1104.0,777.3 1105.0,777.4 1106.0,778.6 1107.0,777.0 1108.0,776.7 1109.0,776.6 1110.0,776.4 1111.0,776.8 1112.0,776.5 1113.0,776.0 1114.0,775.4 1115.0,776.9 1116.0,776.0 1117.0,776.9 1118.0,775.4 1119.0,776.8 1120.0,776.7 1121.0,776.3 1122.0,777.3 1123.0,775.8 1124.0,775.5 1125.0,776.2 1126.0,775.5 1127.0,776.1 1128.0,776.0 1129.0,778.0 1130.0,776.9 1131.0,777.4 1132.0,777.5 1133.0,776.5 1134.0,775.6 1135.0,774.0 1136.0,775.2 1137.0,775.5 1138.0,775.0 1139.0,775.7 1140.0,774.2 1141.0,775.3 1142.0,775.5 1143.0,775.5 1144.0,775.7 1145.0,777.3 1146.0,775.0 1147.0,775.4 1148.0,775.8 1149.0,778.0 1150.0,777.2 1151.0,776.8 1152.0,777.3 1153.0,776.0 1154.0,774.6 1155.0,775.5 1156.0,775.5 1157.0,777.4 1158.0,775.6 1159.0,776.4 1160.0,775.9 1161.0,776.1 1162.0,776.5 1163.0,776.3 1164.0,775.5 1165.0,774.5 1166.0,774.4 1167.0,774.5 1168.0,775.1 1169.0,776.3 1170.0,776.2 1171.0,776.6 1172.0,776.5 1173.0,778.1 1174.0,776.9 1175.0,776.4 1176.0,777.1 1177.0,775.9 1178.0,776.3 1179.0,776.9 1180.0,776.1 1181.0,775.5 1182.0,775.4 1183.0,774.6 1184.0,774.4 1185.0,775.1 1186.0,776.3 1187.0,775.6 1188.0,775.4 1189.0,775.0 1190.0,775.9 1191.0,776.5 1192.0,775.7 1193.0,776.3 1194.0,776.2 1195.0,776.4 1196.0,776.8 1197.0,777.0 1198.0,776.5 1199.0,776.0 1200.0,775.5 1201.0,774.2 1202.0,776.1 1203.0,776.1 1204.0,776.0 1205.0,776.8 1206.0,777.7 1207.0,778.7 1208.0,776.8 1209.0,776.4 1210.0,774.3 1211.0,775.3 1212.0,775.0 1213.0,774.8 1214.0,774.7 1215.0,775.8 1216.0,775.7 1217.0,775.5 1218.0,776.2 1219.0,776.2 1220.0,777.9 1221.0,776.8 1222.0,776.7 1223.0,775.8 1224.0,775.7 1225.0,776.7 1226.0,775.8 1227.0,775.9 1228.0,776.8 1229.0,777.1 1230.0,776.7 1231.0,776.7 1232.0,776.6 1233.0,776.4 1234.0,777.1 1235.0,775.2 1236.0,775.3 1237.0,774.3 1238.0,774.9 1239.0,775.6 1240.0,775.0 1241.0,774.6 1242.0,774.7 1243.0,774.9 1244.0,775.5 1245.0,775.6 1246.0,776.4 1247.0,776.7 1248.0,776.5 1249.0,776.4 1249.5,776.2 1249.8,776.2 1250.0,776.1 1250.2,776.4 1250.5,776.6 1250.8,776.8 1251.0,777.0 1251.2,776.9 1251.5,776.8 1251.8,776.7 1252.0,776.5 1252.2,776.2 1252.5,776.0 1252.8,775.7 1253.0,775.4 1253.2,775.6 1253.5,775.8 1253.8,776.0 1254.0,776.3 1254.2,776.0 1254.5,775.7 1254.8,775.4 1255.0,775.1 1255.2,775.1 1255.5,775.1 1255.8,775.1 1256.0,775.1 1256.2,775.3 1256.5,775.4 1256.8,775.5 1257.0,775.6 1257.2,775.8 1257.5,776.0 1257.8,776.1 1258.0,776.3 1258.2,776.6 1258.5,776.9 1258.8,777.3 1259.0,777.6 1259.2,777.3 1259.5,777.0 1259.8,776.7 1260.0,776.4 1260.2,776.1 1260.5,775.8 1260.8,775.5 1261.0,775.2 1261.2,775.3 1261.5,775.5 1261.8,775.7 1262.0,775.9 1262.2,775.9 1262.5,776.0 1262.8,776.0 1263.0,776.0 1263.2,775.9 1263.5,775.7 1263.8,775.5 1264.0,775.2 1264.2,775.0 1264.5,774.8 1264.8,774.6 1265.0,774.4 1265.2,774.1 1265.5,773.8 1265.8,773.5 1266.0,773.1 1266.2,772.9 1266.5,772.7 1266.8,772.5 1267.0,772.2 1267.2,771.9 1267.5,771.7 1267.8,771.4 1268.0,771.1 1268.2,770.6 1268.5,770.1 1268.8,769.6 1269.0,769.1 1269.2,769.1 1269.5,769.0 1269.8,768.9 1270.0,768.9 1270.2,768.5 1270.5,768.1 1270.8,767.8 1271.0,767.4 1271.2,767.0 1271.5,766.6 1271.8,766.3 1272.0,765.9 1272.2,765.8 1272.5,765.7 1272.8,765.6 1273.0,765.4 1273.2,765.3 1273.5,765.2 1273.8,765.0 1274.0,764.8 1274.2,764.4 1274.5,763.8 1274.8,763.3 1275.0,762.8 1275.2,762.0 1275.5,761.2 1275.8,760.5 1276.0,759.7 1276.2,759.1 1276.5,758.4 1276.8,757.8 1277.0,757.3 1277.2,757.0 1277.5,756.8 1277.8,756.6 1278.0,756.4 1278.2,756.5 1278.5,756.6 1278.8,756.8 1279.0,757.0 1279.2,757.0 1279.5,757.0 1279.8,757.1 1280.0,757.3 1280.2,757.1 1280.5,757.0 1280.8,756.9 1281.0,756.9 1281.2,757.4 1281.5,758.0 1281.8,758.7 1282.0,759.3 1282.2,759.5 1282.5,759.8 1282.8,760.0 1283.0,760.3 1283.2,760.7 1283.5,761.1 1283.8,761.5 1284.0,761.9 1284.2,762.8 1284.5,763.7 1284.8,764.6 1285.0,765.5 1285.2,766.2 1285.5,766.9 1285.8,767.5 1286.0,768.1 1286.2,768.6 1286.5,769.1 1286.8,769.5 1287.0,769.9 1287.2,770.2 1287.5,770.5 1287.8,770.8 1288.0,771.1 1288.2,771.1 1288.5,771.1 1288.8,771.1 1289.0,771.1 1289.2,771.4 1289.5,771.7 1289.8,772.0 1290.0,772.3 1290.2,772.9 1290.5,773.4 1290.8,773.9 1291.0,774.5 1291.2,774.5 1291.5,774.6 1291.8,774.7 1292.0,774.8 1292.2,774.6 1292.5,774.4 1292.8,774.2 1293.0,774.0 1293.2,774.1 1293.5,774.2 1293.8,774.2 1294.0,774.3 1294.2,774.9 1294.5,775.6 1294.8,776.2 1295.0,776.8 1295.2,777.3 1295.5,777.7 1295.8,778.2 1296.0,778.6 1296.2,778.6 1296.5,778.5 1296.8,778.4 1297.0,778.3 1297.2,778.2 1297.5,778.0 1297.8,777.9 1298.0,777.8 1298.2,777.8 1298.5,777.9 1298.8,777.9 1299.0,777.9 1299.2,777.5 1299.5,777.1 1299.8,776.7 1300.0,776.3 1300.2,776.5 1300.5,776.6 1300.8,776.8 1301.0,776.9 1301.2,777.1 1301.5,777.4 1301.8,777.6 1302.0,777.8 1302.2,777.8 1302.5,777.8 1302.8,777.9 1303.0,777.9 1303.2,777.6 1303.5,777.3 1303.8,777.0 1304.0,776.7 1304.2,777.3 1304.5,777.9 1304.8,778.4 1305.0,779.0 1305.2,779.0 1305.5,778.9 1305.8,778.9 1306.0,778.9 1306.2,779.0 1306.5,779.1 1306.8,779.1 1307.0,779.2 1307.2,779.0 1307.5,778.8 1307.8,778.6 1308.0,778.4 1308.2,778.3 1308.5,778.2 1308.8,778.1 1309.0,778.0 1309.2,777.8 1310.0,777.2 1311.0,778.2 1312.0,778.8 1313.0,777.8 1314.0,778.4 1315.0,777.8 1316.0,778.9 1317.0,778.7 1318.0,776.8 1319.0,777.5 1320.0,778.1 1321.0,777.6 1322.0,778.1 1323.0,778.4 1324.0,777.8 1325.0,778.2 1326.0,778.8 1327.0,777.8 1328.0,778.0 1329.0,777.6 1330.0,778.1 1331.0,778.2 1332.0,779.2 1333.0,780.5 1334.0,780.8 1335.0,780.4 1336.0,779.8 1337.0,778.7 1338.0,780.1 1339.0,780.0 1340.0,778.5 1341.0,779.5 1342.0,779.8 1343.0,779.9 1344.0,779.6 1345.0,780.9 1346.0,780.0 1347.0,778.4 1348.0,778.8 1349.0,779.3 1350.0,779.1 1351.0,778.8 1352.0,779.3 1353.0,779.6 1354.0,779.7 1355.0,779.0 1356.0,779.4 1357.0,777.1 1358.0,778.1 1359.0,779.4 1360.0,778.6 1361.0,778.8 1362.0,780.2 1363.0,779.5 1364.0,778.4 1365.0,778.4 1366.0,778.9 1367.0,779.0 1368.0,778.7 1369.0,778.1 1370.0,778.9 1371.0,778.4 1372.0,777.5 1373.0,777.7 1374.0,778.7 1375.0,778.5 1376.0,778.3 1377.0,780.5 1378.0,780.4 1379.0,779.7 1380.0,779.6 1381.0,780.4 1382.0,781.3 1383.0,780.7 1384.0,780.8 1385.0,779.5 1386.0,779.1 1387.0,778.5 1388.0,778.3 1389.0,778.3 1390.0,779.9 1391.0,780.6 1392.0,779.7 1393.0,780.5 1394.0,779.3 1395.0,779.6 1396.0,778.7 1397.0,780.1 1398.0,779.7 1399.0,779.9 1400.0,780.2 1401.0,778.3 1402.0,778.2 1403.0,779.5 1404.0,777.8 1405.0,778.9 1406.0,779.7 1407.0,780.7 1408.0,780.0 1409.0,780.4 1410.0,779.3 1411.0,779.2 1412.0,779.8 1413.0,779.6 1414.0,779.8 1415.0,780.3 1416.0,780.4 1417.0,780.9 1418.0,781.1 1419.0,780.8 1420.0,781.2 1421.0,779.3 1422.0,780.0 1423.0,780.2 1424.0,779.9 1425.0,780.6 1426.0,779.1 1427.0,780.0 1428.0,779.4 1429.0,779.3 1430.0,778.9 1431.0,779.6 1432.0,780.9 1433.0,780.4 1434.0,780.0 1435.0,780.1 1436.0,780.7 1437.0,780.8 1438.0,781.4 1439.0,781.7 1440.0,781.7 1441.0,780.5 1442.0,780.1 1443.0,779.9 1444.0,780.8 1445.0,780.2 1446.0,779.8 1447.0,779.8 1448.0,780.9 1449.0,779.9 1450.0,780.7 1451.0,780.2 1452.0,780.4 1453.0,781.0 1454.0,781.1 1455.0,782.2 1456.0,780.7 1457.0,781.3 1458.0,780.8 1459.0,780.6 1460.0,782.2 1461.0,782.0 1462.0,779.7 1463.0,779.8 1464.0,780.7 1465.0,780.5 1466.0,778.9 1467.0,780.2 1468.0,779.6 1469.0,780.4 1470.0,780.0 1471.0,780.9 1472.0,781.1 1473.0,780.1 1474.0,781.1 1475.0,780.5 1476.0,780.5 1477.0,780.1 1478.0,780.1 1479.0,779.9 1480.0,780.8 1481.0,780.5 1482.0,780.4 1483.0,781.9 1484.0,781.2 1485.0,781.1 1486.0,778.3 1487.0,780.7 1488.0,780.5 1489.0,781.7 1490.0,780.6 1491.0,780.0 1492.0,779.8 1493.0,780.1 1494.0,779.4 1495.0,780.5 1496.0,780.1 1497.0,780.2 1498.0,781.0 1499.0,781.0 1500.0,780.8 1501.0,781.2 1502.0,780.8 1503.0,781.2 1504.0,781.4 1505.0,780.9 1506.0,780.1 1507.0,780.7 1508.0,781.0 1509.0,781.0 1510.0,780.2 1511.0,779.7 1512.0,780.0 1513.0,780.3 1514.0,781.1 1515.0,782.0 1516.0,782.5 1517.0,781.8 1518.0,782.2 1519.0,780.9 1520.0,781.2 1521.0,780.9 1522.0,781.8 1523.0,782.2 1524.0,782.3 1525.0,782.8 1526.0,782.2 1527.0,782.7 1528.0,783.1 1529.0,782.0 1530.0,781.6 1531.0,781.1 1532.0,780.8 1533.0,780.8 1534.0,781.7 1535.0,781.1 1536.0,781.1 1537.0,780.7 1538.0,780.6 1539.0,782.2 1540.0,780.6 1541.0,780.6 1542.0,780.1 1543.0,780.5 1544.0,780.6 1545.0,781.5 1546.0,782.8 1547.0,781.9 1548.0,782.6 1549.0,781.8 1550.0,782.2 1551.0,781.6 1552.0,782.7 1553.0,781.9 1554.0,781.3 1555.0,781.4 1556.0,781.7 1557.0,781.6 1558.0,781.8 1559.0,782.1 1560.0,780.8 1561.0,781.8 1562.0,782.2 1563.0,782.3 1564.0,782.2 1565.0,782.5 1566.0,782.4 1567.0,781.9 1568.0,782.0 1569.0,782.0 1570.0,781.9 1571.0,782.8 1572.0,782.8 1573.0,782.9 1574.0,780.8 1575.0,780.9 1576.0,781.1 1577.0,780.7 1578.0,780.4 1579.0,780.7 1580.0,780.8 1581.0,781.8 1582.0,782.8 1583.0,782.0 1584.0,783.2 1585.0,780.4 1586.0,784.2 1587.0,783.6 1588.0,782.5 1589.0,782.5 1590.0,782.3 1591.0,782.1 1592.0,782.6 1593.0,782.3 1594.0,782.3 1595.0,783.0 1596.0,783.1 1597.0,783.0 1598.0,782.3 1599.0,781.1 1600.0,782.5 1601.0,782.3 1602.0,781.9 1603.0,783.3 1604.0,783.1 1605.0,781.5 1606.0,781.8 1607.0,782.0 1608.0,782.5 1609.0,781.7 1610.0,779.7 1611.0,781.8 1612.0,782.9 1613.0,782.3 1614.0,783.0 1615.0,782.9 1616.0,781.8 1617.0,783.1 1618.0,783.8 1619.0,784.4 1620.0,784.3 1621.0,783.4 1622.0,783.4 1623.0,782.8 1624.0,783.7 1625.0,782.7 1626.0,783.0 1627.0,782.8 1628.0,783.9 1629.0,783.5 1630.0,782.7 1631.0,782.2 1632.0,782.6 1633.0,783.6 1634.0,782.4 1635.0,783.4 1636.0,782.8 1637.0,782.8 1638.0,783.4 1639.0,783.2 1640.0,783.1 1641.0,783.6 1642.0,783.1 1643.0,782.1 1644.0,782.4 1645.0,782.2 1646.0,783.5 1647.0,782.9 1648.0,782.6 1649.0,783.0 1650.0,781.8 1651.0,782.3 1652.0,782.9 1653.0,783.6 1654.0,783.5 1655.0,783.7 1656.0,784.1 1657.0,783.5 1658.0,782.5 1659.0,782.7 1660.0,783.1 1661.0,782.9 1662.0,781.8 1663.0,781.8 1664.0,781.7 1665.0,782.3 1666.0,783.5 1667.0,783.9 1668.0,782.9 1669.0,783.4 1670.0,782.9 1671.0,782.5 1672.0,782.7 1673.0,782.4 1674.0,782.2 1675.0,783.6 1676.0,783.5 1677.0,783.9 1678.0,782.3 1679.0,782.4 1680.0,781.5 1681.0,782.0 1682.0,782.3 1683.0,781.8 1684.0,782.3 1685.0,783.5 1686.0,783.8 1687.0,784.2 1688.0,783.0 1689.0,782.0 1690.0,782.0 1691.0,782.4 1692.0,782.1 1693.0,783.5 1694.0,783.0 1695.0,782.7 1696.0,782.3 1697.0,781.4 1698.0,783.2 1699.0,782.2 1700.0,782.9 1701.0,782.9 1702.0,782.6 1703.0,782.6 1704.0,783.4 1705.0,783.2 1706.0,783.4 1707.0,783.4 1708.0,781.3 1709.0,781.0 1710.0,780.6 1711.0,782.5 1712.0,780.7 1713.0,781.5 1714.0,781.0 1715.0,781.5 1716.0,781.1 1717.0,780.0 1718.0,780.2 1719.0,779.8 1720.0,779.4 1721.0,780.6 1722.0,780.2 1723.0,781.7 1724.0,779.8 1725.0,779.9 1726.0,780.4 1727.0,781.0 1728.0,781.8 1729.0,781.4 1730.0,781.9 1731.0,783.8 1732.0,784.8 1733.0,783.3 1734.0,782.8 1735.0,781.5 1736.0,782.3 1737.0,784.1 1738.0,783.3 1739.0,783.1 1740.0,782.9 1741.0,781.2 1742.0,783.3 1743.0,782.3 1744.0,783.1 1745.0,783.5 1746.0,784.1 1747.0,783.4 1748.0,781.8 1749.0,782.1 1750.0,783.3 1751.0,780.6 1752.0,783.5 1753.0,783.6 1754.0,784.9 1755.0,785.3 1756.0,783.5 1757.0,784.9 1758.0,785.6 1759.0,785.4 1760.0,786.1 1761.0,785.6 1762.0,785.7 1763.0,785.6 1764.0,786.1 1765.0,786.5 1766.0,785.8 1767.0,785.8 1768.0,787.0 1769.0,785.2 1770.0,785.8 1771.0,786.3 1772.0,786.9 1773.0,785.0 1774.0,785.4 1775.0,784.2 1776.0,784.5 1777.0,783.9 1778.0,783.5 1779.0,784.3 1780.0,784.7 1781.0,785.6 1782.0,785.2 1783.0,784.1 1784.0,784.2 1785.0,784.3 1786.0,783.9 1787.0,785.6 1788.0,784.2 1789.0,785.2 1790.0,784.6 1791.0,783.9 1792.0,783.2 1793.0,784.5 1794.0,784.7 1795.0,784.1 1796.0,784.1 1797.0,784.2 1798.0,785.2 1799.0,786.3 1800.0,785.6 1801.0,786.1 1802.0,785.6 1803.0,786.0 1804.0,786.5 1805.0,785.5 1806.0,784.5 1807.0,785.1 1808.0,783.4 1809.0,784.3 1810.0,782.6 1811.0,783.5 1812.0,784.9 1813.0,785.5 1814.0,785.0 1815.0,784.8 1816.0,787.3 1817.0,784.6 1818.0,785.8 1819.0,784.1 1820.0,782.4 1821.0,783.9 1822.0,783.7 1823.0,785.2 1824.0,786.5 1825.0,785.3 1826.0,784.2 1827.0,784.6 1828.0,785.8 1829.0,786.6 1830.0,786.4 1831.0,786.9 1832.0,785.9 1833.0,785.6 1834.0,785.7 1835.0,786.6 1836.0,784.5 1837.0,784.3 1838.0,785.2 1839.0,785.4 1840.0,784.4 1841.0,784.4 1842.0,784.1 1843.0,784.7 1844.0,783.6 1845.0,784.4 1846.0,783.6 1847.0,783.3 1848.0,783.3 1849.0,783.8 1850.0,784.6 1851.0,783.8 1852.0,784.0 1853.0,784.2 1854.0,784.3 1855.0,784.7 1856.0,784.0 1857.0,783.5 1858.0,784.1 1859.0,784.8 1860.0,784.1 1861.0,783.3 1862.0,784.6 1863.0,784.3 1864.0,784.6 1865.0,784.7 1866.0,785.0 1867.0,784.7 1868.0,784.5 1869.0,784.4 1870.0,783.7 1871.0,783.9 1872.0,784.5 1873.0,784.8 1874.0,786.1 1875.0,784.9 1876.0,787.1 1877.0,785.0 1878.0,785.3 1879.0,784.4 1880.0,784.5 1881.0,783.9 1882.0,784.3 1883.0,784.5 1884.0,783.1 1885.0,784.2 1886.0,785.1 1887.0,784.5 1888.0,784.0 1889.0,785.1 1890.0,784.2 1891.0,784.7 1892.0,782.5 1893.0,783.5 1894.0,783.2 1895.0,783.9 1896.0,784.4 1897.0,783.8 1898.0,784.1 1899.0,783.3 1900.0,785.3 1901.0,785.6 1902.0,784.6 1903.0,784.6 1904.0,784.8 1905.0,786.6 1906.0,784.3 1907.0,784.6 1908.0,782.9 1909.0,782.5 1910.0,783.5 1911.0,784.1 1912.0,783.7 1913.0,784.3 1914.0,784.3 1915.0,783.7 1916.0,783.7 1917.0,782.2 1918.0,783.2 1919.0,783.0 1920.0,783.4 1921.0,782.5 1922.0,783.1 1923.0,783.6"/>
<polyline fill="none" stroke="#ff00ff" stroke-width="7.0" stroke-linejoin="miter" stroke-miterlimit="2" shape-rendering="crispEdges" points="140.0,963.3 141.0,963.3 142.0,963.3 143.0,963.2 144.0,962.3 145.0,963.3 146.0,963.7 147.0,964.8 148.0,964.8 149.0,965.0 150.0,963.6 151.0,964.8 152.0,963.4 153.0,962.4 154.0,963.3 155.0,961.2 156.0,962.3 157.0,962.6 158.0,962.7 159.0,963.4 160.0,963.2 161.0,962.7 162.0,962.4 163.0,962.6 164.0,962.1 165.0,962.3 166.0,962.0 167.0,962.5 168.0,962.8 169.0,963.2 170.0,964.8 171.0,964.7 172.0,962.1 173.0,961.9 174.0,963.6 175.0,962.7 176.0,965.4 177.0,963.7 178.0,963.0 179.0,961.7 180.0,961.6 181.0,962.1 182.0,963.4 183.0,963.5 184.0,962.1 185.0,962.8 186.0,962.7 187.0,962.2 188.0,962.2 189.0,962.0 190.0,961.9 191.0,962.8 192.0,961.2 193.0,962.2 194.0,962.6 195.0,963.8 196.0,963.4 197.0,963.4 198.0,964.4 199.0,963.4 200.0,963.8 201.0,962.6 202.0,962.1 203.0,962.3 204.0,963.5 205.0,963.6 206.0,963.1 207.0,963.7 208.0,962.1 209.0,964.2 210.0,963.5 211.0,963.1 212.0,962.0 213.0,961.8 214.0,960.0 215.0,960.0 216.0,960.2 217.0,963.6 218.0,963.1 219.0,964.1 220.0,964.1 221.0,963.8 222.0,962.9 223.0,961.1 224.0,960.4 225.0,960.4 226.0,959.4 227.0,961.6 228.0,960.8 229.0,962.3 230.0,963.7 231.0,963.8 232.0,963.3 233.0,964.1 234.0,964.0 235.0,961.8 236.0,962.6 237.0,963.4 238.0,963.8 239.0,963.6 240.0,963.4 241.0,964.7 242.0,962.3 243.0,963.1 244.0,961.6 245.0,963.3 246.0,963.7 247.0,962.9 248.0,962.6 249.0,962.7 250.0,962.9 251.0,963.7 252.0,961.9 253.0,963.2 254.0,960.9 255.0,961.6 256.0,962.6 257.0,963.3 258.0,964.4 259.0,965.9 260.0,966.4 261.0,967.1 262.0,964.8 263.0,964.4 264.0,962.9 265.0,963.7 266.0,963.2 267.0,964.1 268.0,963.1 269.0,961.1 270.0,962.3 271.0,961.9 272.0,960.8 273.0,960.0 274.0,960.5 275.0,962.3 276.0,962.8 277.0,963.3 278.0,963.6 279.0,963.7 280.0,963.2 281.0,961.9 282.0,961.6 283.0,963.2 284.0,962.6 285.0,963.6 286.0,963.4 287.0,963.1 288.0,963.7 289.0,962.2 290.0,963.3 291.0,963.0 292.0,962.7 293.0,962.4 294.0,962.1 295.0,962.9 296.0,962.9 297.0,962.0 298.0,963.7 299.0,962.7 300.0,963.5 301.0,963.6 302.0,960.8 303.0,962.1 304.0,962.5 305.0,963.0 306.0,962.1 307.0,962.9 308.0,962.2 309.0,963.9 310.0,964.1 311.0,964.2 312.0,965.3 313.0,962.9 314.0,962.6 315.0,962.2 316.0,963.5 317.0,963.4 318.0,962.1 319.0,963.0 320.0,962.4 321.0,964.0 322.0,964.0 323.0,963.6 324.0,962.4 325.0,961.3 326.0,962.1 327.0,963.4 328.0,963.6 329.0,961.9 330.0,962.6 331.0,963.6 332.0,965.8 333.0,964.0 334.0,964.0 335.0,962.9 336.0,963.1 337.0,962.6 338.0,964.0 339.0,962.4 340.0,963.7 341.0,963.4 342.0,963.0 343.0,961.7 344.0,961.6 345.0,963.2 346.0,962.4 347.0,963.6 348.0,963.2 349.0,965.6 350.0,963.9 351.0,964.6 352.0,964.0 353.0,964.1 354.0,963.9 355.0,966.0 356.0,965.6 357.0,966.8 358.0,964.2 359.0,964.0 360.0,963.4 361.0,962.1 362.0,963.4 363.0,963.2 364.0,963.2 365.0,963.4 366.0,962.2 367.0,962.9 368.0,962.5 369.0,964.5 370.0,965.6 371.0,965.4 372.0,963.9 373.0,963.4 374.0,964.5 375.0,963.8 376.0,964.4 377.0,963.3 378.0,964.9 379.0,966.3 380.0,965.3 381.0,964.6 382.0,964.9 383.0,966.1 384.0,965.3 385.0,964.0 386.0,964.9 387.0,966.0 388.0,967.7 389.0,965.4 390.0,965.3 391.0,963.7 392.0,965.4 393.0,966.5 394.0,967.0 395.0,965.6 396.0,966.8 397.0,965.7 398.0,965.3 399.0,966.3 400.0,965.4 401.0,966.7 402.0,967.6 403.0,967.5 404.0,967.7 405.0,966.3 406.0,965.9 407.0,966.6 408.0,966.0 409.0,967.8 410.0,969.3 411.0,968.7 412.0,969.5 413.0,968.6 414.0,968.5 415.0,968.5 416.0,969.4 417.0,969.7 418.0,969.2 419.0,969.4 420.0,969.5 421.0,969.7 422.0,968.7 423.0,968.3 424.0,967.7 425.0,969.4 426.0,970.8 427.0,971.7 428.0,973.0 429.0,971.7 430.0,972.1 431.0,970.6 432.0,968.2 433.0,969.9 434.0,969.1 435.0,970.2 436.0,969.7 437.0,969.8 438.0,970.9 439.0,971.3 440.0,972.3 441.0,972.4 442.0,971.5 443.0,970.7 444.0,971.5 445.0,971.4 446.0,971.2 447.0,971.7 448.0,975.4 449.0,972.4 450.0,973.0 451.0,972.6 452.0,972.4 453.0,972.5 454.0,972.3 455.0,974.0 456.0,973.5 457.0,974.6 458.0,975.4 459.0,974.5 460.0,973.6 461.0,973.9 462.0,974.6 463.0,975.6 464.0,974.9 465.0,975.2 466.0,974.8 467.0,976.1 468.0,975.7 469.0,975.9 470.0,974.6 471.0,976.2 472.0,975.3 473.0,976.2 474.0,976.4 475.0,976.5 476.0,977.2 477.0,976.2 478.0,978.1 479.0,978.3 480.0,978.0 481.0,978.5 482.0,979.1 483.0,978.8 484.0,979.2 485.0,979.7 486.0,978.3 487.0,979.2 488.0,978.9 489.0,979.6 490.0,979.7 491.0,979.7 492.0,978.2 493.0,979.1 494.0,978.5 495.0,979.7 496.0,980.1 497.0,979.8 498.0,978.7 499.0,978.4 500.0,978.7 501.0,982.8 502.0,980.9 503.0,981.2 504.0,979.5 505.0,979.9 506.0,979.8 507.0,979.7 508.0,980.0 509.0,980.7 510.0,981.1 511.0,981.0 512.0,981.3 513.0,979.6 514.0,980.7 515.0,979.8 516.0,980.9 517.0,980.7 518.0,981.7 519.0,981.2 520.0,981.3 521.0,982.2 522.0,980.0 523.0,980.6 524.0,980.0 525.0,979.8 526.0,982.8 527.0,982.9 528.0,983.0 529.0,982.9 530.0,982.2 531.0,983.9 532.0,982.6 533.0,983.3 534.0,982.0 535.0,982.6 536.0,982.8 537.0,983.8 538.0,985.6 539.0,985.4 540.0,985.2 541.0,985.1 542.0,984.0 543.0,984.5 544.0,984.6 545.0,985.1 546.0,985.9 547.0,986.8 548.0,986.2 549.0,985.7 550.0,983.8 551.0,985.8 552.0,985.9 553.0,986.5 554.0,986.1 555.0,987.4 556.0,986.6 557.0,983.9 558.0,985.9 559.0,986.6 560.0,985.9 561.0,985.7 562.0,987.4 563.0,987.4 564.0,986.1 565.0,988.0 566.0,987.9 567.0,987.9 568.0,987.2 569.0,987.4 570.0,987.9 571.0,988.4 572.0,986.9 573.0,987.2 574.0,986.8 575.0,986.9 576.0,987.4 577.0,986.2 578.0,987.7 579.0,987.1 580.0,987.1 581.0,987.0 582.0,984.7 583.0,986.7 584.0,986.5 585.0,987.1 586.0,986.1 587.0,988.2 588.0,987.0 589.0,986.0 590.0,987.4 591.0,987.7 592.0,987.9 593.0,988.5 594.0,988.4 595.0,989.0 596.0,989.3 597.0,989.8 598.0,989.5 599.0,990.4 600.0,989.0 601.0,990.9 602.0,990.1 603.0,990.0 604.0,989.5 605.0,990.2 606.0,990.0 607.0,990.6 608.0,991.0 609.0,990.9 610.0,991.1 611.0,991.7 612.0,991.7 613.0,991.3 614.0,992.0 615.0,990.8 616.0,990.1 617.0,990.1 618.0,990.6 619.0,991.1 620.0,990.9 621.0,991.0 622.0,990.5 623.0,991.3 624.0,988.8 625.0,991.9 626.0,990.4 627.0,991.5 628.0,990.6 629.0,992.4 630.0,989.6 631.0,991.2 632.0,991.1 633.0,991.8 634.0,990.9 635.0,990.9 636.0,990.3 637.0,990.8 638.0,991.5 639.0,991.6 640.0,992.5 641.0,992.8 642.0,992.6 643.0,992.3 644.0,991.2 645.0,992.7 646.0,991.9 647.0,991.5 648.0,991.4 649.0,991.3 650.0,991.8 651.0,993.2 652.0,993.0 653.0,993.9 654.0,993.8 655.0,992.2 656.0,992.0 657.0,992.9 658.0,993.2 659.0,992.0 660.0,992.4 661.0,991.8 662.0,993.2 663.0,992.4 664.0,992.4 665.0,992.3 666.0,991.5 667.0,991.3 668.0,991.9 669.0,992.0 670.0,992.5 671.0,991.4 672.0,992.0 673.0,992.5 674.0,992.9 675.0,992.3 676.0,991.5 677.0,991.8 678.0,991.9 679.0,991.9 680.0,993.3 681.0,992.1 682.0,992.6 683.0,993.0 684.0,993.8 685.0,993.4 686.0,993.1 687.0,993.5 688.0,993.3 689.0,993.1 690.0,992.1 691.0,994.2 692.0,993.3 693.0,992.9 694.0,994.5 695.0,994.3 696.0,993.8 697.0,993.1 698.0,994.9 699.0,995.1 700.0,994.5 701.0,992.8 702.0,994.3 703.0,995.2 704.0,994.8 705.0,995.1 706.0,993.8 707.0,994.6 708.0,994.6 709.0,993.0 710.0,992.8 711.0,992.0 712.0,991.6 713.0,989.5 714.0,989.2 715.0,988.7 716.0,988.6 717.0,986.7 718.0,984.9 719.0,985.4 720.0,985.1 721.0,985.5 722.0,985.0 723.0,984.3 724.0,983.6 725.0,982.1 726.0,980.9 727.0,979.5 728.0,978.3 729.0,977.6 730.0,976.3 731.0,975.9 732.0,974.5 733.0,970.7 734.0,969.7 735.0,966.0 735.6,964.5 735.9,963.9 736.0,963.5 736.1,963.2 736.4,962.5 736.6,961.7 736.9,961.0 737.0,960.6 737.1,960.4 737.4,960.0 737.6,959.6 737.9,959.2 738.0,958.9 738.1,958.5 738.4,957.4 738.6,956.4 738.9,955.3 739.0,954.7 739.1,954.4 739.4,953.9 739.6,953.4 739.9,952.9 740.0,952.6 740.1,952.3 740.4,951.6 740.6,950.9 740.9,950.2 741.0,949.8 741.1,949.7 741.4,949.3 741.6,948.9 741.9,948.5 742.0,948.3 742.1,948.0 742.4,947.3 742.6,946.6 742.9,945.8 743.0,945.4 743.1,945.1 743.4,944.5 743.6,943.8 743.9,943.1 744.0,942.7 744.1,942.5 744.4,941.8 744.6,941.2 744.9,940.5 745.0,940.2 745.1,940.0 745.4,939.6 745.6,939.2 745.9,938.8 746.0,938.5 746.1,937.9 746.4,936.4 746.6,934.8 746.9,933.3 747.0,932.4 747.1,932.4 747.4,932.4 747.6,932.4 747.9,932.4 748.0,932.4 748.1,932.3 748.4,931.9 748.6,931.6 748.9,931.2 749.0,931.0 749.1,930.7 749.4,929.9 749.6,929.1 749.9,928.3 750.0,927.8 750.1,927.5 750.4,926.8 750.6,926.1 750.9,925.4 751.0,925.0 751.1,924.8 751.4,924.2 751.6,923.7 751.9,923.1 752.0,922.7 752.1,922.5 752.4,922.0 752.6,921.4 752.9,920.8 753.0,920.5 753.1,920.1 753.4,919.2 753.6,918.3 753.9,917.4 754.0,916.9 754.1,916.8 754.4,916.7 754.6,916.6 754.9,916.5 755.0,916.4 755.1,916.2 755.4,915.7 755.6,915.2 755.9,914.8 756.0,914.5 756.1,914.1 756.4,913.1 756.6,912.2 756.9,911.2 757.0,910.6 757.1,910.3 757.4,909.4 757.6,908.6 757.9,907.7 758.0,907.2 758.1,907.0 758.4,906.4 758.6,905.9 758.9,905.4 759.0,905.1 759.1,904.8 759.4,904.2 759.6,903.5 759.9,902.9 760.0,902.5 760.1,902.3 760.4,901.6 760.6,901.0 760.9,900.3 761.0,899.8 761.1,899.6 761.4,898.9 761.6,898.2 761.9,897.6 762.0,897.2 762.1,896.8 762.4,895.9 762.6,895.1 762.9,894.2 763.0,893.7 763.1,893.5 763.4,893.1 763.6,892.7 763.9,892.3 764.0,892.1 764.1,891.7 764.4,890.7 764.6,889.8 764.9,888.9 765.0,888.4 765.1,888.3 765.4,888.1 765.6,888.0 765.9,888.0 766.0,888.0 766.1,888.1 766.4,888.3 766.6,888.5 766.9,888.8 767.0,889.0 767.1,889.1 767.4,889.4 767.6,889.7 767.9,890.1 768.0,890.4 768.1,890.6 768.4,891.3 768.6,891.9 768.9,892.6 769.0,893.1 769.1,893.4 769.4,894.2 769.6,895.1 769.9,895.9 770.0,896.5 770.1,896.7 770.4,897.3 770.6,897.9 770.9,898.6 771.0,898.9 771.1,899.2 771.4,899.7 771.6,900.3 771.9,900.9 772.0,901.2 772.1,901.7 772.4,902.9 772.6,904.2 772.9,905.6 773.0,906.5 773.1,907.0 773.4,908.2 773.6,909.4 773.9,910.7 774.0,911.4 774.1,911.9 774.4,913.0 774.6,914.0 774.9,915.0 775.0,915.6 775.1,915.9 775.4,916.8 775.6,917.5 775.9,918.3 776.0,918.7 776.1,919.1 776.4,920.0 776.6,920.9 776.9,921.8 777.0,922.3 777.1,922.7 777.4,923.5 777.6,924.3 777.9,925.1 778.0,925.6 778.1,925.9 778.4,926.5 778.6,927.2 778.9,927.8 779.0,928.2 779.1,928.5 779.4,929.4 779.6,930.2 779.9,931.1 780.0,931.6 780.1,932.0 780.4,932.8 780.6,933.7 780.9,934.5 781.0,934.9 781.1,935.2 781.4,935.8 781.6,936.4 781.9,937.1 782.0,937.4 782.1,937.6 782.4,938.1 782.6,938.6 782.9,939.1 783.0,939.4 783.1,939.8 783.4,940.8 783.6,941.8 783.9,942.8 784.0,943.5 784.1,943.8 784.4,944.8 784.6,945.8 784.9,946.8 785.0,947.5 785.1,948.0 785.4,949.4 785.6,951.0 785.9,952.6 786.0,953.7 786.1,954.3 786.4,956.0 786.6,957.6 786.9,959.0 787.0,959.9 787.1,960.3 787.4,961.3 787.6,962.0 787.9,962.6 788.0,963.0 788.1,963.2 788.4,963.8 788.6,964.3 788.9,964.8 789.0,965.1 789.1,965.5 789.4,966.4 789.6,967.3 789.9,968.2 790.0,968.7 790.1,969.0 790.4,969.7 790.6,970.3 790.9,971.0 791.0,971.4 791.1,971.7 791.4,972.5 791.6,973.3 791.9,974.1 792.0,974.6 792.1,974.8 792.4,975.4 792.6,976.0 792.9,976.5 793.0,976.8 793.1,977.0 793.4,977.3 793.6,977.5 793.9,977.8 794.0,977.9 794.1,977.9 794.4,977.8 794.6,977.6 794.9,977.5 795.0,977.4 795.1,977.6 795.4,978.0 796.0,978.9 797.0,979.8 798.0,981.4 799.0,981.9 800.0,983.7 801.0,983.9 802.0,985.0 803.0,984.0 804.0,984.0 805.0,984.2 806.0,985.3 807.0,984.9 808.0,987.0 809.0,987.0 810.0,988.1 811.0,987.2 812.0,988.2 813.0,989.8 814.0,990.5 815.0,989.8 816.0,992.0 817.0,992.2 818.0,993.2 819.0,993.8 820.0,993.4 821.0,990.0 822.0,993.3 823.0,993.9 824.0,993.6 825.0,993.5 826.0,993.5 827.0,993.7 828.0,994.8 829.0,995.3 830.0,995.4 831.0,994.6 832.0,995.1 833.0,994.4 834.0,994.7 835.0,994.5 836.0,993.7 837.0,995.3 838.0,994.4 839.0,994.2 840.0,995.5 841.0,996.1 842.0,996.9 843.0,997.4 844.0,997.9 845.0,997.3 846.0,996.7 847.0,996.7 848.0,996.4 849.0,997.2 850.0,996.1 851.0,996.7 852.0,995.0 853.0,996.0 854.0,996.0 855.0,996.2 856.0,996.3 857.0,995.0 858.0,995.0 859.0,994.0 860.0,996.4 861.0,994.9 862.0,996.2 863.0,997.7 864.0,996.4 865.0,998.1 866.0,997.7 867.0,997.0 868.0,996.8 869.0,997.2 870.0,997.6 871.0,997.8 872.0,997.7 873.0,995.6 874.0,997.1 875.0,997.1 876.0,996.5 877.0,998.0 878.0,998.4 879.0,998.9 880.0,998.4 881.0,998.6 882.0,998.2 883.0,997.1 884.0,996.9 885.0,996.6 886.0,997.3 887.0,997.4 888.0,997.9 889.0,998.4 890.0,998.1 891.0,998.7 892.0,998.9 893.0,999.2 894.0,998.1 895.0,998.2 896.0,998.3 897.0,998.5 898.0,998.7 899.0,999.9 900.0,999.0 901.0,997.7 902.0,996.6 903.0,998.8 904.0,998.6 905.0,998.5 906.0,998.9 907.0,998.7 908.0,999.5 908.2,999.4 908.5,999.3 908.8,999.2 909.0,999.1 909.2,999.3 909.5,999.4 909.8,999.6 910.0,999.8 910.2,999.6 910.5,999.5 910.8,999.3 911.0,999.2 911.2,998.9 911.5,998.7 911.8,998.5 912.0,998.3 912.2,998.2 912.5,998.2 912.8,998.2 913.0,998.1 913.2,998.5 913.5,998.9 913.8,999.3 914.0,999.8 914.2,999.8 914.5,999.9 914.8,999.9 915.0,1000.0 915.2,999.8 915.5,999.7 915.8,999.6 916.0,999.4 916.2,999.3 916.5,999.2 916.8,999.1 917.0,999.0 917.2,999.1 917.5,999.2 917.8,999.3 918.0,999.5 918.2,999.6 918.5,999.7 918.8,999.9 919.0,1000.0 919.2,999.7 919.5,999.3 919.8,999.0 920.0,998.7 920.2,998.7 920.5,998.7 920.8,998.8 921.0,998.8 921.2,998.4 921.5,997.9 921.8,997.5 922.0,997.1 922.2,997.0 922.5,997.0 922.8,996.9 923.0,996.9 923.2,997.1 923.5,997.4 923.8,997.6 924.0,997.9 924.2,998.2 924.5,998.6 924.8,998.9 925.0,999.3 925.2,998.9 925.5,998.6 925.8,998.2 926.0,997.8 926.2,997.7 926.5,997.6 926.8,997.5 927.0,997.4 927.2,997.1 927.5,996.9 927.8,996.6 928.0,996.3 928.2,996.5 928.5,996.7 928.8,996.9 929.0,997.0 929.2,997.0 929.5,997.1 929.8,997.1 930.0,997.1 930.2,997.1 930.5,997.2 930.8,997.2 931.0,997.3 931.2,997.2 931.5,997.1 931.8,997.0 932.0,997.0 932.2,997.1 932.5,997.1 932.8,997.2 933.0,997.3 933.2,997.4 933.5,997.4 933.8,997.4 934.0,997.4 934.2,997.2 934.5,997.0 934.8,996.8 935.0,996.5 935.2,996.5 935.5,996.5 935.8,996.5 936.0,996.5 936.2,996.3 936.5,996.1 936.8,995.9 937.0,995.7 937.2,995.7 937.5,995.6 937.8,995.6 938.0,995.5 938.2,995.7 938.5,996.0 938.8,996.2 939.0,996.4 939.2,996.2 939.5,996.0 939.8,995.8 940.0,995.6 940.2,995.8 940.5,996.1 940.8,996.3 941.0,996.5 941.2,996.6 941.5,996.7 941.8,996.8 942.0,996.9 942.2,996.8 942.5,996.6 942.8,996.5 943.0,996.4 943.2,996.6 943.5,996.7 943.8,996.9 944.0,997.0 944.2,997.2 944.5,997.3 944.8,997.4 945.0,997.5 945.2,997.3 945.5,997.1 945.8,996.8 946.0,996.6 946.2,997.1 946.5,997.5 946.8,998.0 947.0,998.4 947.2,998.2 947.5,998.1 947.8,997.9 948.0,997.8 948.2,997.9 948.5,998.1 948.8,998.2 949.0,998.4 949.2,998.4 949.5,998.4 949.8,998.4 950.0,998.4 950.2,998.6 950.5,998.7 950.8,998.8 951.0,998.9 951.2,999.0 951.5,999.1 951.8,999.1 952.0,999.2 952.2,999.3 952.5,999.3 952.8,999.4 953.0,999.5 953.2,999.5 953.5,999.4 953.8,999.4 954.0,999.3 954.2,999.5 954.5,999.6 954.8,999.7 955.0,999.8 955.2,999.8 955.5,999.8 955.8,999.8 956.0,999.8 956.2,1000.0 956.5,1000.2 956.8,1000.5 957.0,1000.7 957.2,1000.7 957.5,1000.8 957.8,1000.8 958.0,1000.9 958.2,1001.0 958.5,1001.0 958.8,1001.1 959.0,1001.2 959.2,1000.9 959.5,1000.7 959.8,1000.5 960.0,1000.2 960.2,1000.1 960.5,1000.1 960.8,1000.0 961.0,999.9 961.2,999.9 961.5,1000.0 961.8,1000.0 962.0,1000.1 962.2,999.8 962.5,999.6 962.8,999.4 963.0,999.1 963.2,999.3 963.5,999.6 963.8,999.8 964.0,1000.0 964.2,999.9 964.5,999.8 964.8,999.7 965.0,999.6 965.2,999.6 965.5,999.7 965.8,999.7 966.0,999.7 966.2,1000.2 966.5,1000.7 966.8,1001.2 967.0,1001.7 967.2,1001.3 967.5,1000.8 967.8,1000.4 968.0,999.9 969.0,1001.0 970.0,1000.7 971.0,1000.3 972.0,999.4 973.0,1000.8 974.0,1000.2 975.0,999.7 976.0,999.7 977.0,1000.1 978.0,1002.2 979.0,1001.4 980.0,1002.2 981.0,1002.0 982.0,1001.3 983.0,1000.0 984.0,1000.0 985.0,1000.4 986.0,1001.0 987.0,1000.5 988.0,1000.5 989.0,1000.7 990.0,1000.9 991.0,1001.5 992.0,998.9 993.0,1000.7 994.0,999.8 995.0,1000.0 996.0,1000.1 997.0,999.8 998.0,1000.9 999.0,1000.5 1000.0,1001.5 1001.0,1000.6 1002.0,1000.4 1003.0,999.5 1004.0,999.6 1005.0,1000.0 1006.0,999.1 1007.0,1000.3 1008.0,1000.2 1009.0,999.9 1010.0,999.5 1011.0,1000.3 1012.0,1000.3 1013.0,1000.6 1014.0,1001.3 1015.0,1000.2 1016.0,1000.6 1017.0,999.6 1018.0,1000.4 1019.0,1000.7 1020.0,1000.3 1021.0,1001.5 1022.0,1001.8 1023.0,999.6 1024.0,1001.8 1025.0,999.1 1026.0,1000.6 1027.0,998.7 1028.0,998.0 1029.0,998.7 1030.0,999.7 1031.0,999.3 1032.0,999.4 1033.0,1000.5 1034.0,999.5 1035.0,1000.8 1036.0,1001.7 1037.0,1000.7 1038.0,1001.3 1039.0,1002.0 1040.0,1001.0 1041.0,1000.5 1042.0,999.3 1043.0,999.3 1044.0,1000.2 1045.0,1000.8 1046.0,1001.4 1047.0,1000.7 1048.0,1000.8 1049.0,1001.0 1050.0,1001.2 1051.0,1000.6 1052.0,1000.0 1053.0,1000.2 1054.0,999.6 1055.0,999.9 1056.0,1001.2 1057.0,1001.5 1058.0,1000.9 1059.0,1001.5 1060.0,1000.8 1061.0,1000.6 1062.0,1000.4 1063.0,1000.7 1064.0,1000.3 1065.0,1000.5 1066.0,1001.4 1067.0,1000.1 1068.0,1001.2 1069.0,1000.4 1070.0,1000.2 1071.0,1000.9 1072.0,1002.2 1073.0,1001.4 1074.0,1001.1 1075.0,1001.7 1076.0,1000.4 1077.0,1001.4 1078.0,1001.3 1079.0,1000.3 1080.0,1000.5 1081.0,999.7 1082.0,999.0 1083.0,1000.6 1084.0,1000.3 1085.0,1000.8 1086.0,1000.6 1087.0,1000.4 1088.0,1001.8 1089.0,1001.7 1090.0,1001.5 1091.0,1000.6 1092.0,1000.0 1093.0,1001.2 1094.0,1001.4 1095.0,1001.9 1096.0,1002.0 1097.0,1002.7 1098.0,1000.4 1099.0,999.6 1100.0,1000.7 1101.0,1000.1 1102.0,1000.9 1103.0,1000.9 1104.0,1001.7 1105.0,1001.3 1106.0,1002.1 1107.0,1001.6 1108.0,1001.6 1109.0,1000.0 1110.0,1000.0 1111.0,999.9 1112.0,1000.4 1113.0,1001.2 1114.0,1000.8 1115.0,1001.3 1116.0,1002.4 1117.0,1001.6 1118.0,1002.3 1119.0,1001.7 1120.0,1000.7 1121.0,1002.1 1122.0,1002.8 1123.0,1001.3 1124.0,1000.7 1125.0,1000.3 1126.0,1001.0 1127.0,1000.2 1128.0,1000.2 1129.0,1000.7 1130.0,1001.4 1131.0,1001.4 1132.0,1001.5 1133.0,1000.6 1134.0,1002.0 1135.0,1000.3 1136.0,1000.5 1137.0,1000.2 1138.0,1000.1 1139.0,999.8 1140.0,1001.2 1141.0,1001.0 1142.0,1001.9 1143.0,1002.4 1144.0,1001.7 1145.0,1002.1 1146.0,1002.8 1147.0,1002.1 1148.0,1002.4 1149.0,1001.5 1150.0,1000.8 1151.0,1000.7 1152.0,1001.2 1153.0,1001.3 1154.0,1000.5 1155.0,1002.2 1156.0,1001.2 1157.0,1001.0 1158.0,1000.3 1159.0,999.7 1160.0,998.7 1161.0,999.4 1162.0,1001.0 1163.0,1001.9 1164.0,1001.6 1165.0,1000.4 1166.0,1000.4 1167.0,1001.0 1168.0,1000.6 1169.0,999.3 1170.0,1001.0 1171.0,998.8 1172.0,999.7 1173.0,1000.0 1174.0,1001.1 1175.0,1003.1 1176.0,1001.4 1177.0,1001.9 1178.0,1002.4 1179.0,1002.4 1180.0,1003.0 1181.0,1001.4 1182.0,1001.4 1183.0,1001.2 1184.0,1000.5 1185.0,1002.3 1186.0,1001.5 1187.0,1002.9 1188.0,1003.0 1189.0,1001.6 1190.0,1001.6 1191.0,1001.9 1192.0,1002.5 1193.0,1002.5 1194.0,1003.3 1195.0,1001.7 1196.0,1002.5 1197.0,1002.9 1198.0,1001.8 1199.0,1001.8 1200.0,1001.8 1201.0,1002.6 1202.0,1002.9 1203.0,1001.2 1204.0,1002.0 1205.0,1002.5 1206.0,1004.3 1207.0,1002.9 1208.0,1002.7 1209.0,1003.8 1210.0,1001.7 1211.0,1001.0 1212.0,1001.7 1213.0,1001.8 1214.0,1002.4 1215.0,1004.0 1216.0,1003.0 1217.0,1003.2 1218.0,1003.9 1219.0,1002.3 1220.0,1003.0 1221.0,1002.4 1222.0,1002.0 1223.0,1002.2 1224.0,1001.7 1225.0,1001.7 1226.0,1001.8 1227.0,1002.2 1228.0,1002.2 1229.0,1000.9 1230.0,1001.8 1231.0,1002.1 1232.0,1002.5 1233.0,1002.6 1234.0,1001.3 1235.0,1001.9 1236.0,1001.8 1237.0,1000.2 1238.0,999.8 1239.0,999.8 1240.0,1001.4 1241.0,1001.8 1242.0,1002.1 1243.0,1003.4 1244.0,1003.9 1245.0,1002.8 1246.0,1002.7 1247.0,1002.7 1248.0,1003.5 1249.0,1002.4 1250.0,1002.6 1251.0,1002.9 1252.0,1002.4 1253.0,1002.5 1254.0,1003.6 1255.0,1003.5 1256.0,1003.2 1257.0,1002.9 1258.0,1002.8 1259.0,1002.2 1260.0,1002.9 1261.0,1002.6 1262.0,1003.5 1263.0,1003.2 1264.0,1004.2 1265.0,1002.7 1266.0,1002.0 1267.0,1002.8 1268.0,1002.2 1269.0,1001.5 1270.0,1002.7 1271.0,1003.8 1272.0,1004.0 1273.0,1004.2 1274.0,1005.8 1275.0,1005.3 1276.0,1003.9 1277.0,1002.8 1278.0,1002.8 1279.0,1002.1 1280.0,1001.8 1281.0,1001.3 1282.0,1001.4 1283.0,1002.1 1284.0,1002.1 1285.0,1003.4 1286.0,1001.6 1287.0,1002.3 1288.0,1001.5 1289.0,1003.0 1290.0,1003.6 1291.0,1002.1 1292.0,1003.8 1293.0,1002.0 1294.0,1000.9 1295.0,1001.2 1296.0,1001.3 1297.0,1002.0 1298.0,1001.9 1299.0,1002.2 1300.0,1003.1 1301.0,1003.6 1302.0,1003.6 1303.0,1003.2 1304.0,1004.0 1305.0,1003.3 1306.0,1003.3 1307.0,1003.3 1308.0,1002.6 1309.0,1003.9 1310.0,1003.8 1311.0,1004.3 1312.0,1003.4 1313.0,1003.8 1314.0,1003.5 1315.0,1003.3 1316.0,1002.7 1317.0,1003.2 1318.0,1002.9 1319.0,1002.3 1320.0,1003.2 1321.0,1002.1 1322.0,1002.4 1323.0,1002.8 1324.0,1002.9 1325.0,1003.2 1326.0,1002.3 1327.0,1002.1 1328.0,1002.6 1329.0,1003.3 1330.0,1003.6 1331.0,1002.6 1332.0,1002.3 1333.0,1002.3 1334.0,1001.7 1335.0,1001.6 1336.0,1002.1 1337.0,1003.6 1338.0,1003.7 1339.0,1004.0 1340.0,1002.6 1341.0,1002.4 1342.0,1002.3 1343.0,1003.6 1344.0,1004.9 1345.0,1004.8 1346.0,1004.1 1347.0,1003.0 1348.0,1003.0 1349.0,1003.3 1350.0,1001.6 1351.0,1002.3 1352.0,1003.3 1353.0,1004.3 1354.0,1003.4 1355.0,1003.6 1356.0,1003.1 1357.0,1002.1 1358.0,1002.8 1359.0,1002.3 1360.0,1002.9 1361.0,1003.3 1362.0,1002.6 1363.0,1002.1 1364.0,1003.2 1365.0,1003.4 1366.0,1003.6 1367.0,1004.1 1368.0,1003.5 1369.0,1002.9 1370.0,1003.0 1371.0,1003.4 1372.0,1004.3 1373.0,1004.0 1374.0,1004.7 1375.0,1004.7 1376.0,1004.2 1377.0,1003.1 1378.0,1002.8 1379.0,1004.0 1380.0,1002.8 1381.0,1002.6 1382.0,1002.7 1383.0,1003.5 1384.0,1004.5 1385.0,1003.9 1386.0,1004.1 1387.0,1004.8 1388.0,1005.3 1389.0,1004.4 1390.0,1002.4 1391.0,1003.1 1392.0,1002.8 1393.0,1001.8 1394.0,1003.1 1395.0,1004.4 1396.0,1004.9 1397.0,1004.5 1398.0,1003.9 1399.0,1004.2 1400.0,1003.1 1401.0,1004.0 1402.0,1003.9 1403.0,1002.9 1404.0,1003.7 1405.0,1003.9 1406.0,1005.2 1407.0,1005.8 1408.0,1005.1 1409.0,1003.9 1410.0,1003.5 1411.0,1004.3 1412.0,1003.9 1413.0,1003.7 1414.0,1003.9 1415.0,1003.1 1416.0,1004.4 1417.0,1006.1 1418.0,1005.8 1419.0,1005.3 1420.0,1003.4 1421.0,1004.0 1422.0,1002.7 1423.0,1003.0 1424.0,1003.9 1425.0,1003.9 1426.0,1004.6 1427.0,1003.5 1428.0,1002.9 1429.0,1003.8 1430.0,1003.6 1431.0,1004.0 1432.0,1002.9 1433.0,1003.1 1434.0,1002.0 1435.0,1003.1 1436.0,1002.9 1437.0,1003.0 1438.0,1004.1 1439.0,1003.2 1440.0,1003.3 1441.0,1003.2 1442.0,1003.3 1443.0,1004.3 1444.0,1004.3 1445.0,1004.2 1446.0,1003.3 1447.0,1002.9 1448.0,1002.8 1449.0,1003.1 1450.0,1003.1 1451.0,1004.1 1452.0,1004.4 1453.0,1004.2 1454.0,1003.9 1455.0,1004.3 1456.0,1004.8 1457.0,1004.1 1458.0,1003.9 1459.0,1003.7 1460.0,1003.8 1461.0,1004.7 1462.0,1003.7 1463.0,1005.2 1464.0,1004.2 1465.0,1004.2 1466.0,1001.7 1467.0,1004.3 1468.0,1004.1 1469.0,1003.2 1470.0,1004.5 1471.0,1004.1 1472.0,1003.6 1473.0,1004.6 1474.0,1004.4 1475.0,1004.3 1476.0,1004.6 1477.0,1004.6 1478.0,1003.4 1479.0,1003.8 1480.0,1003.9 1481.0,1003.6 1482.0,1002.4 1483.0,1003.0 1484.0,1003.1 1485.0,1004.3 1486.0,1003.5 1487.0,1003.8 1488.0,1004.3 1489.0,1004.1 1490.0,1004.5 1491.0,1004.6 1492.0,1003.4 1493.0,1006.2 1494.0,1004.9 1495.0,1004.7 1496.0,1006.0 1497.0,1004.8 1498.0,1004.2 1499.0,1003.2 1500.0,1003.4 1501.0,1002.6 1502.0,1003.7 1503.0,1002.7 1504.0,1003.0 1505.0,1003.7 1506.0,1004.1 1507.0,1004.1 1508.0,1004.4 1509.0,1003.0 1510.0,1002.4 1511.0,1002.6 1512.0,1004.0 1513.0,1004.6 1514.0,1003.8 1515.0,1004.0 1516.0,1004.7 1517.0,1004.0 1518.0,1004.2 1519.0,1003.4 1520.0,1004.1 1521.0,1002.6 1522.0,1003.2 1523.0,1002.8 1524.0,1004.3 1525.0,1005.3 1526.0,1005.6 1527.0,1006.3 1528.0,1004.9 1529.0,1004.2 1530.0,1005.8 1531.0,1005.1 1532.0,1005.2 1533.0,1006.3 1534.0,1005.2 1535.0,1004.3 1536.0,1003.5 1537.0,1004.5 1538.0,1002.5 1539.0,1004.7 1540.0,1005.2 1541.0,1004.9 1542.0,1005.3 1543.0,1005.6 1544.0,1006.0 1545.0,1005.9 1546.0,1005.7 1547.0,1004.7 1548.0,1004.2 1549.0,1004.0 1550.0,1005.9 1551.0,1005.4 1552.0,1003.9 1553.0,1005.4 1554.0,1004.4 1555.0,1004.2 1556.0,1003.7 1557.0,1005.7 1558.0,1004.2 1559.0,1004.2 1560.0,1005.2 1561.0,1005.6 1562.0,1006.0 1563.0,1005.1 1564.0,1005.0 1565.0,1003.9 1566.0,1003.8 1567.0,1005.0 1568.0,1004.7 1569.0,1005.4 1570.0,1005.3 1571.0,1005.1 1572.0,1006.5 1573.0,1006.5 1574.0,1005.5 1575.0,1006.2 1576.0,1006.4 1577.0,1003.6 1578.0,1004.0 1579.0,1004.0 1580.0,1003.7 1581.0,1005.0 1582.0,1004.8 1583.0,1006.0 1584.0,1004.2 1585.0,1005.5 1586.0,1005.3 1587.0,1005.5 1588.0,1005.1 1589.0,1004.3 1590.0,1004.6 1591.0,1004.3 1592.0,1005.3 1593.0,1006.0 1594.0,1005.8 1595.0,1004.6 1596.0,1005.4 1597.0,1004.7 1598.0,1004.3 1599.0,1004.6 1600.0,1004.7 1601.0,1004.1 1602.0,1005.4 1603.0,1002.8 1604.0,1006.5 1605.0,1004.0 1606.0,1004.0 1607.0,1003.5 1608.0,1003.6 1609.0,1003.0 1610.0,1005.8 1611.0,1005.7 1612.0,1004.8 1613.0,1005.2 1614.0,1005.3 1615.0,1006.1 1616.0,1005.8 1617.0,1007.4 1618.0,1006.6 1619.0,1007.0 1620.0,1006.3 1621.0,1005.8 1622.0,1005.8 1623.0,1005.9 1624.0,1005.7 1625.0,1005.5 1626.0,1005.7 1627.0,1006.1 1628.0,1005.2 1629.0,1005.5 1630.0,1006.1 1631.0,1007.4 1632.0,1006.2 1633.0,1005.4 1634.0,1005.6 1635.0,1005.9 1636.0,1005.2 1637.0,1005.1 1638.0,1005.3 1639.0,1005.2 1640.0,1005.0 1641.0,1006.8 1642.0,1006.5 1643.0,1006.0 1644.0,1006.6 1645.0,1005.1 1646.0,1006.0 1647.0,1004.8 1648.0,1004.7 1649.0,1004.3 1650.0,1005.6 1651.0,1005.3 1652.0,1005.2 1653.0,1006.6 1654.0,1006.6 1655.0,1007.3 1656.0,1006.7 1657.0,1006.8 1658.0,1005.7 1659.0,1006.5 1660.0,1006.7 1661.0,1006.1 1662.0,1005.4 1663.0,1005.6 1664.0,1004.9 1665.0,1005.9 1666.0,1005.7 1667.0,1005.3 1668.0,1004.1 1669.0,1005.1 1670.0,1004.6 1671.0,1004.8 1672.0,1005.0 1673.0,1005.0 1674.0,1004.7 1675.0,1004.7 1676.0,1005.1 1677.0,1004.3 1678.0,1005.0 1679.0,1005.0 1680.0,1003.8 1681.0,1004.5 1682.0,1004.0 1683.0,1004.0 1684.0,1004.5 1685.0,1003.7 1686.0,1005.5 1687.0,1004.1 1688.0,1003.6 1689.0,1004.0 1690.0,1004.2 1691.0,1007.1 1692.0,1003.8 1693.0,1003.2 1694.0,1003.3 1695.0,1004.2 1695.2,1003.8 1695.5,1003.4 1695.8,1003.0 1696.0,1002.5 1696.2,1002.5 1696.5,1002.4 1696.8,1002.3 1697.0,1002.2 1697.2,1002.0 1697.5,1001.8 1697.8,1001.6 1698.0,1001.4 1698.2,1001.3 1698.5,1001.2 1698.8,1001.1 1699.0,1001.0 1699.2,1001.0 1699.5,1001.0 1699.8,1000.9 1700.0,1000.9 1700.2,1001.0 1700.5,1001.1 1700.8,1001.1 1701.0,1001.2 1701.2,1000.8 1701.5,1000.4 1701.8,1000.0 1702.0,999.6 1702.2,999.6 1702.5,999.5 1702.8,999.5 1703.0,999.5 1703.2,999.3 1703.5,999.2 1703.8,999.1 1704.0,998.9 1704.2,999.0 1704.5,999.0 1704.8,999.0 1705.0,999.0 1705.2,998.8 1705.5,998.7 1705.8,998.5 1706.0,998.3 1706.2,998.5 1706.5,998.7 1706.8,998.8 1707.0,999.0 1707.2,999.2 1707.5,999.5 1707.8,999.7 1708.0,999.9 1708.2,999.8 1708.5,999.6 1708.8,999.5 1709.0,999.3 1709.2,999.0 1709.5,998.6 1709.8,998.2 1710.0,997.9 1710.2,998.0 1710.5,998.1 1710.8,998.2 1711.0,998.4 1711.2,998.2 1711.5,997.9 1711.8,997.7 1712.0,997.5 1712.2,997.5 1712.5,997.5 1712.8,997.6 1713.0,997.6 1713.2,997.8 1713.5,998.0 1713.8,998.1 1714.0,998.3 1714.2,998.6 1714.5,998.8 1714.8,999.1 1715.0,999.3 1715.2,999.1 1715.5,998.9 1715.8,998.7 1716.0,998.4 1716.2,998.4 1716.5,998.4 1716.8,998.4 1717.0,998.4 1717.2,998.1 1717.5,997.9 1717.8,997.6 1718.0,997.4 1718.2,997.9 1718.5,998.3 1718.8,998.8 1719.0,999.3 1719.2,998.8 1719.5,998.4 1719.8,997.9 1720.0,997.5 1720.2,997.4 1720.5,997.4 1720.8,997.3 1721.0,997.2 1721.2,997.1 1721.5,997.0 1721.8,996.9 1722.0,996.8 1722.2,996.9 1722.5,997.0 1722.8,997.0 1723.0,997.1 1723.2,997.0 1723.5,996.9 1723.8,996.8 1724.0,996.7 1724.2,996.9 1724.5,997.1 1724.8,997.3 1725.0,997.5 1725.2,997.4 1725.5,997.3 1725.8,997.3 1726.0,997.2 1726.2,997.0 1726.5,996.9 1726.8,996.7 1727.0,996.5 1727.2,996.6 1727.5,996.7 1727.8,996.7 1728.0,996.8 1728.2,997.1 1728.5,997.5 1728.8,997.8 1729.0,998.1 1729.2,998.0 1729.5,997.9 1729.8,997.7 1730.0,997.6 1730.2,997.9 1730.5,998.1 1730.8,998.4 1731.0,998.6 1731.2,998.5 1731.5,998.5 1731.8,998.4 1732.0,998.3 1732.2,998.4 1732.5,998.4 1732.8,998.5 1733.0,998.6 1733.2,998.6 1733.5,998.5 1733.8,998.5 1734.0,998.5 1734.2,998.7 1734.5,998.8 1734.8,999.0 1735.0,999.2 1735.2,998.5 1735.5,997.8 1735.8,997.1 1736.0,996.4 1736.2,997.1 1736.5,997.9 1736.8,998.6 1737.0,999.3 1737.2,998.9 1737.5,998.6 1737.8,998.2 1738.0,997.8 1738.2,998.0 1738.5,998.3 1738.8,998.5 1739.0,998.8 1739.2,999.3 1739.5,999.9 1739.8,1000.5 1740.0,1001.0 1740.2,1000.9 1740.5,1000.7 1740.8,1000.6 1741.0,1000.5 1741.2,1000.7 1741.5,1001.0 1741.8,1001.3 1742.0,1001.6 1742.2,1001.8 1742.5,1001.9 1742.8,1002.1 1743.0,1002.2 1743.2,1002.2 1743.5,1002.1 1743.8,1002.1 1744.0,1002.1 1744.2,1002.0 1744.5,1002.0 1744.8,1002.0 1745.0,1002.0 1745.2,1002.1 1745.5,1002.2 1745.8,1002.3 1746.0,1002.4 1746.2,1002.4 1746.5,1002.4 1746.8,1002.4 1747.0,1002.3 1747.2,1002.2 1747.5,1002.0 1747.8,1001.8 1748.0,1001.6 1748.2,1002.0 1748.5,1002.3 1748.8,1002.7 1749.0,1003.0 1749.2,1003.1 1749.5,1003.1 1749.8,1003.1 1750.0,1003.2 1750.2,1002.9 1750.5,1002.6 1750.8,1002.3 1751.0,1002.0 1751.2,1002.5 1751.5,1003.1 1751.8,1003.6 1752.0,1004.2 1752.2,1003.8 1752.5,1003.4 1752.8,1003.1 1753.0,1002.7 1753.2,1002.8 1753.5,1002.9 1753.8,1002.9 1754.0,1003.0 1754.2,1003.2 1754.5,1003.3 1754.8,1003.4 1755.0,1003.6 1756.0,1004.0 1757.0,1005.3 1758.0,1004.4 1759.0,1005.0 1760.0,1004.4 1761.0,1004.9 1762.0,1005.8 1763.0,1005.4 1764.0,1006.8 1765.0,1006.2 1766.0,1005.2 1767.0,1004.8 1768.0,1005.3 1769.0,1005.3 1770.0,1004.4 1771.0,1005.3 1772.0,1004.7 1773.0,1004.8 1774.0,1003.7 1775.0,1005.0 1776.0,1005.2 1777.0,1005.9 1778.0,1004.7 1779.0,1005.3 1780.0,1004.7 1781.0,1006.3 1782.0,1006.3 1783.0,1005.1 1784.0,1005.1 1785.0,1004.1 1786.0,1005.2 1787.0,1004.6 1788.0,1004.7 1789.0,1005.5 1790.0,1005.2 1791.0,1005.9 1792.0,1006.2 1793.0,1005.5 1794.0,1006.1 1795.0,1004.8 1796.0,1004.5 1797.0,1004.2 1798.0,1003.9 1799.0,1005.0 1800.0,1005.0 1801.0,1005.7 1802.0,1005.1 1803.0,1005.5 1804.0,1005.3 1805.0,1006.3 1806.0,1006.5 1807.0,1006.1 1808.0,1005.1 1809.0,1004.4 1810.0,1005.4 1811.0,1004.9 1812.0,1003.8 1813.0,1004.9 1814.0,1004.7 1815.0,1004.5 1816.0,1005.6 1817.0,1005.5 1818.0,1005.9 1819.0,1005.8 1820.0,1006.0 1821.0,1006.6 1822.0,1005.3 1823.0,1004.2 1824.0,1005.9 1825.0,1005.6 1826.0,1006.5 1827.0,1006.7 1828.0,1007.1 1829.0,1005.1 1830.0,1006.2 1831.0,1004.9 1832.0,1004.7 1833.0,1006.2 1834.0,1006.5 1835.0,1005.3 1836.0,1005.8 1837.0,1006.1 1838.0,1003.7 1839.0,1005.9 1840.0,1006.4 1841.0,1005.9 1842.0,1005.7 1843.0,1005.7 1844.0,1004.7 1845.0,1004.5 1846.0,1005.7 1847.0,1005.2 1848.0,1005.8 1849.0,1006.4 1850.0,1005.5 1851.0,1006.6 1852.0,1005.2 1853.0,1004.5 1854.0,1004.2 1855.0,1005.4 1856.0,1005.4 1857.0,1005.6 1858.0,1004.8 1859.0,1005.2 1860.0,1004.6 1861.0,1004.7 1862.0,1005.1 1863.0,1004.5 1864.0,1005.1 1865.0,1004.9 1866.0,1003.4 1867.0,1004.0 1868.0,1004.0 1869.0,1004.1 1870.0,1005.5 1871.0,1004.6 1872.0,1005.3 1873.0,1005.2 1874.0,1005.4 1875.0,1005.2 1876.0,1005.1 1877.0,1005.0 1878.0,1005.7 1879.0,1004.6 1880.0,1004.0 1881.0,1004.6 1882.0,1004.2 1883.0,1005.3 1884.0,1005.7 1885.0,1005.1 1886.0,1005.9 1887.0,1005.4 1888.0,1005.8 1889.0,1006.3 1890.0,1006.4 1891.0,1006.5 1892.0,1004.1 1893.0,1005.7 1894.0,1003.7 1895.0,1004.8 1896.0,1006.1 1897.0,1005.8 1898.0,1005.9 1899.0,1004.6 1900.0,1005.0 1901.0,1005.4 1902.0,1004.5 1903.0,1004.7 1904.0,1004.9 1905.0,1005.2 1906.0,1003.5 1907.0,1004.6 1908.0,1005.0 1909.0,1005.9 1910.0,1004.7 1911.0,1005.2 1912.0,1004.1 1913.0,1003.8 1914.0,1003.4 1915.0,1005.4 1916.0,1005.4 1917.0,1005.8 1918.0,1005.1 1919.0,1005.1 1920.0,1004.2 1921.0,1004.5 1922.0,1003.3 1923.0,1003.7"/>
<polyline fill="none" stroke="#000000" stroke-width="7.0" stroke-linejoin="miter" stroke-miterlimit="2" shape-rendering="crispEdges" points="140.0,1275.1 141.0,1275.2 142.0,1275.2 143.0,1275.3 144.0,1275.1 145.0,1274.9 146.0,1275.0 147.0,1274.9 148.0,1274.0 149.0,1273.4 150.0,1273.9 151.0,1273.6 152.0,1273.8 153.0,1272.3 154.0,1273.4 155.0,1275.4 156.0,1274.1 157.0,1273.5 158.0,1274.2 159.0,1273.6 160.0,1274.0 161.0,1273.4 162.0,1272.3 163.0,1274.4 164.0,1274.1 165.0,1273.9 166.0,1273.3 167.0,1275.1 168.0,1273.9 169.0,1274.3 170.0,1274.3 171.0,1273.4 172.0,1274.1 173.0,1273.1 174.0,1273.7 175.0,1274.6 176.0,1274.1 177.0,1273.9 178.0,1274.4 179.0,1272.5 180.0,1274.5 181.0,1274.1 182.0,1274.4 183.0,1273.8 184.0,1274.1 185.0,1275.3 186.0,1274.6 187.0,1274.1 188.0,1274.8 189.0,1272.9 190.0,1274.5 191.0,1274.5 192.0,1275.0 193.0,1275.1 194.0,1275.1 195.0,1277.3 196.0,1274.3 197.0,1273.7 198.0,1274.7 199.0,1274.3 200.0,1274.3 201.0,1274.0 202.0,1273.6 203.0,1273.0 204.0,1273.2 205.0,1273.9 206.0,1273.5 207.0,1274.1 208.0,1273.4 209.0,1271.5 210.0,1273.2 211.0,1271.9 212.0,1270.1 213.0,1273.1 214.0,1273.0 215.0,1272.7 216.0,1272.6 217.0,1272.3 218.0,1272.5 219.0,1272.4 220.0,1272.3 221.0,1272.9 222.0,1272.8 223.0,1274.4 224.0,1273.0 225.0,1273.0 226.0,1273.3 227.0,1274.0 228.0,1272.8 229.0,1272.1 230.0,1271.4 231.0,1272.1 232.0,1273.3 233.0,1274.1 234.0,1273.1 235.0,1272.5 236.0,1271.7 237.0,1271.9 238.0,1273.1 239.0,1273.4 240.0,1274.2 241.0,1273.7 242.0,1274.2 243.0,1272.5 244.0,1273.1 245.0,1273.3 246.0,1274.1 247.0,1273.2 248.0,1272.6 249.0,1273.0 250.0,1272.4 251.0,1273.4 252.0,1273.7 253.0,1274.3 254.0,1274.4 255.0,1275.2 256.0,1274.2 257.0,1272.7 258.0,1274.4 259.0,1272.9 260.0,1273.1 261.0,1273.7 262.0,1274.6 263.0,1272.4 264.0,1274.0 265.0,1275.8 266.0,1274.4 267.0,1276.2 268.0,1275.9 269.0,1275.8 270.0,1276.7 271.0,1275.9 272.0,1277.1 273.0,1277.1 274.0,1274.8 275.0,1275.0 276.0,1276.6 277.0,1276.8 278.0,1277.0 279.0,1278.1 280.0,1275.6 281.0,1276.5 282.0,1277.2 283.0,1277.3 284.0,1277.9 285.0,1275.8 286.0,1276.4 287.0,1275.3 288.0,1276.9 289.0,1277.5 290.0,1277.0 291.0,1276.5 292.0,1277.1 293.0,1277.8 294.0,1276.7 295.0,1277.8 296.0,1278.1 297.0,1280.1 298.0,1278.8 299.0,1277.8 300.0,1277.1 301.0,1277.7 302.0,1278.7 303.0,1278.8 304.0,1280.0 305.0,1277.8 306.0,1280.8 307.0,1280.1 308.0,1280.1 309.0,1281.3 310.0,1277.8 311.0,1279.1 312.0,1278.5 313.0,1279.8 314.0,1279.5 315.0,1280.5 316.0,1282.5 317.0,1280.8 318.0,1281.3 319.0,1282.1 320.0,1279.6 321.0,1280.1 322.0,1279.5 323.0,1279.6 324.0,1278.4 325.0,1280.2 326.0,1280.5 327.0,1281.4 328.0,1279.2 329.0,1279.2 330.0,1280.0 331.0,1278.3 332.0,1279.2 333.0,1279.3 334.0,1278.0 335.0,1278.2 336.0,1277.5 337.0,1277.2 338.0,1276.6 339.0,1279.0 340.0,1278.3 341.0,1278.2 342.0,1279.6 343.0,1278.2 344.0,1277.9 345.0,1279.6 346.0,1279.4 347.0,1280.2 347.5,1279.5 347.8,1279.2 348.0,1278.9 348.2,1278.5 348.5,1278.1 348.8,1277.7 349.0,1277.3 349.2,1277.5 349.5,1277.7 349.8,1277.8 350.0,1278.0 350.2,1278.0 350.5,1278.0 350.8,1278.0 351.0,1277.9 351.2,1277.5 351.5,1277.0 351.8,1276.5 352.0,1276.0 352.2,1276.0 352.5,1276.0 352.8,1275.9 353.0,1275.9 353.2,1276.1 353.5,1276.2 353.8,1276.4 354.0,1276.5 354.2,1276.5 354.5,1276.5 354.8,1276.5 355.0,1276.4 355.2,1276.5 355.5,1276.6 355.8,1276.7 356.0,1276.7 356.2,1276.7 356.5,1276.6 356.8,1276.6 357.0,1276.5 357.2,1276.2 357.5,1275.8 357.8,1275.4 358.0,1275.0 358.2,1274.4 358.5,1273.9 358.8,1273.3 359.0,1272.7 359.2,1272.3 359.5,1271.9 359.8,1271.6 360.0,1271.2 360.2,1270.5 360.5,1269.9 360.8,1269.2 361.0,1268.6 361.2,1267.9 361.5,1267.2 361.8,1266.4 362.0,1265.7 362.2,1265.2 362.5,1264.7 362.8,1264.3 363.0,1263.8 363.2,1262.6 363.5,1261.5 363.8,1260.4 364.0,1259.3 364.2,1259.3 364.5,1259.3 364.8,1259.4 365.0,1259.4 365.2,1259.2 365.5,1258.9 365.8,1258.6 366.0,1258.3 366.2,1257.7 366.5,1257.0 366.8,1256.3 367.0,1255.6 367.2,1255.6 367.5,1255.5 367.8,1254.9 368.0,1253.6 368.2,1250.4 368.5,1246.8 368.8,1242.6 369.0,1238.2 369.2,1233.8 369.5,1229.2 369.8,1224.0 370.0,1217.6 370.2,1210.9 370.5,1204.0 370.8,1197.4 371.0,1191.3 371.2,1185.2 371.5,1179.2 371.8,1173.4 372.0,1168.0 372.2,1162.8 372.5,1158.1 372.8,1153.8 373.0,1149.7 373.2,1145.5 373.5,1141.3 373.8,1137.0 374.0,1132.5 374.2,1128.1 374.5,1123.6 374.8,1118.9 375.0,1114.1 375.2,1109.1 375.5,1103.8 375.8,1098.2 376.0,1091.6 376.2,1083.0 376.5,1073.6 376.8,1064.4 377.0,1056.5 377.2,1051.0 377.5,1048.9 377.8,1050.6 378.0,1055.0 378.2,1061.1 378.5,1068.4 378.8,1076.2 379.0,1083.9 379.2,1090.9 379.5,1096.2 379.8,1100.1 380.0,1103.5 380.2,1106.7 380.5,1109.7 380.8,1112.5 381.0,1115.4 381.2,1118.2 381.5,1121.3 381.8,1124.9 382.0,1129.0 382.2,1134.5 382.5,1141.2 382.8,1148.5 383.0,1155.8 383.2,1161.9 383.5,1167.2 383.8,1171.9 384.0,1176.4 384.2,1181.1 384.5,1185.8 384.8,1190.8 385.0,1196.2 385.2,1202.0 385.5,1208.2 385.8,1214.7 386.0,1221.2 386.2,1227.7 386.5,1234.5 386.8,1242.0 387.0,1249.2 387.2,1254.7 387.5,1257.4 387.8,1258.4 388.0,1259.3 388.2,1259.9 388.5,1260.5 388.8,1261.0 389.0,1261.4 389.2,1261.8 389.5,1262.1 389.8,1262.4 390.0,1262.7 390.2,1263.3 390.5,1264.0 390.8,1264.6 391.0,1265.3 391.2,1265.8 391.5,1266.2 391.8,1266.6 392.0,1267.0 392.2,1267.4 392.5,1267.7 392.8,1268.1 393.0,1268.5 393.2,1269.0 393.5,1269.6 393.8,1270.1 394.0,1270.7 394.2,1271.2 394.5,1271.7 394.8,1272.3 395.0,1272.8 395.2,1273.0 395.5,1273.3 395.8,1273.6 396.0,1273.8 396.2,1273.9 396.5,1274.1 396.8,1274.2 397.0,1274.3 397.2,1274.7 397.5,1275.0 397.8,1275.4 398.0,1275.7 398.2,1275.8 398.5,1275.8 398.8,1275.9 399.0,1275.9 399.2,1276.3 399.5,1276.7 399.8,1277.0 400.0,1277.4 400.2,1277.5 400.5,1277.7 400.8,1277.8 401.0,1278.0 401.2,1278.1 401.5,1278.3 401.8,1278.4 402.0,1278.6 402.2,1279.0 402.5,1279.5 402.8,1280.0 403.0,1280.4 403.2,1280.3 403.5,1280.3 403.8,1280.2 404.0,1280.2 404.2,1280.5 404.5,1280.9 404.8,1281.2 405.0,1281.6 405.2,1282.0 405.5,1282.5 405.8,1283.0 406.0,1283.4 406.2,1284.0 406.5,1284.5 406.8,1285.1 407.0,1285.6 407.2,1284.7 408.0,1281.9 409.0,1281.2 410.0,1282.8 411.0,1283.7 412.0,1281.6 413.0,1282.2 414.0,1282.1 415.0,1284.0 416.0,1281.9 417.0,1284.3 418.0,1284.4 419.0,1283.4 420.0,1283.4 421.0,1284.1 422.0,1283.1 423.0,1283.0 424.0,1284.2 425.0,1283.9 426.0,1282.7 427.0,1283.6 428.0,1283.3 429.0,1282.3 430.0,1282.6 431.0,1283.3 432.0,1283.0 433.0,1283.9 434.0,1283.5 435.0,1282.5 436.0,1283.8 437.0,1284.6 438.0,1283.3 439.0,1283.8 440.0,1284.2 441.0,1283.5 442.0,1284.9 443.0,1284.1 444.0,1286.4 445.0,1285.4 446.0,1284.0 447.0,1282.6 448.0,1282.1 449.0,1283.9 450.0,1281.9 451.0,1283.4 452.0,1283.5 453.0,1282.7 454.0,1284.1 455.0,1283.2 456.0,1286.6 457.0,1286.4 458.0,1287.2 459.0,1287.3 460.0,1287.8 461.0,1287.6 462.0,1286.5 463.0,1285.5 464.0,1285.4 465.0,1285.3 466.0,1286.5 467.0,1286.3 468.0,1287.5 469.0,1287.6 470.0,1286.2 471.0,1287.5 472.0,1288.8 473.0,1288.5 474.0,1288.6 475.0,1288.8 476.0,1291.6 477.0,1289.7 478.0,1289.7 479.0,1288.2 480.0,1288.8 481.0,1289.4 482.0,1287.5 483.0,1288.3 484.0,1288.0 485.0,1287.9 486.0,1289.2 487.0,1290.1 488.0,1290.9 489.0,1290.8 490.0,1290.3 491.0,1289.7 492.0,1291.5 493.0,1291.5 494.0,1291.9 495.0,1291.8 496.0,1292.6 497.0,1293.7 498.0,1293.2 499.0,1293.1 500.0,1293.1 501.0,1292.3 502.0,1291.8 503.0,1291.1 504.0,1291.5 505.0,1292.5 506.0,1293.6 507.0,1295.7 508.0,1294.7 509.0,1294.9 510.0,1293.9 511.0,1294.2 512.0,1294.5 513.0,1294.9 514.0,1295.4 515.0,1294.6 516.0,1294.6 517.0,1295.3 518.0,1295.9 519.0,1294.1 520.0,1294.2 521.0,1296.7 522.0,1295.2 523.0,1296.1 524.0,1296.6 525.0,1296.6 526.0,1296.5 527.0,1297.1 528.0,1296.5 529.0,1296.7 530.0,1295.8 531.0,1296.9 532.0,1296.4 533.0,1296.1 534.0,1296.9 535.0,1296.8 536.0,1296.9 537.0,1297.1 538.0,1296.7 539.0,1297.3 540.0,1297.6 541.0,1298.9 542.0,1297.5 543.0,1297.7 544.0,1298.5 545.0,1299.4 546.0,1298.6 547.0,1298.8 548.0,1298.4 549.0,1297.4 550.0,1298.2 551.0,1300.6 552.0,1299.1 553.0,1299.9 554.0,1299.3 555.0,1300.3 556.0,1300.1 557.0,1299.1 558.0,1297.5 559.0,1299.0 560.0,1298.5 561.0,1298.8 562.0,1299.2 563.0,1299.0 564.0,1299.5 565.0,1299.4 566.0,1298.3 567.0,1298.6 568.0,1299.4 569.0,1298.2 570.0,1300.1 571.0,1300.3 572.0,1299.9 573.0,1300.5 574.0,1299.4 575.0,1301.0 576.0,1301.6 577.0,1301.8 578.0,1302.5 579.0,1301.7 580.0,1302.3 581.0,1300.6 582.0,1300.9 583.0,1301.6 584.0,1301.0 585.0,1300.7 586.0,1301.5 587.0,1299.8 588.0,1300.2 589.0,1301.0 590.0,1300.1 591.0,1300.2 592.0,1300.5 593.0,1301.0 594.0,1302.9 595.0,1301.9 596.0,1302.1 597.0,1300.9 598.0,1301.1 599.0,1302.2 600.0,1303.2 601.0,1303.4 602.0,1301.9 603.0,1302.4 604.0,1303.7 605.0,1301.7 606.0,1302.3 607.0,1302.1 608.0,1301.6 609.0,1303.1 610.0,1303.4 611.0,1304.2 612.0,1303.0 613.0,1301.7 614.0,1303.4 615.0,1303.5 616.0,1303.2 617.0,1302.4 618.0,1302.3 619.0,1301.9 620.0,1305.5 621.0,1304.0 622.0,1304.4 623.0,1303.9 624.0,1302.4 625.0,1303.0 626.0,1302.2 627.0,1302.8 628.0,1304.7 629.0,1305.5 630.0,1304.9 631.0,1304.9 632.0,1303.0 633.0,1304.4 634.0,1304.2 635.0,1303.4 636.0,1303.0 637.0,1303.0 638.0,1303.7 639.0,1302.7 640.0,1302.9 641.0,1302.9 642.0,1305.1 643.0,1305.1 644.0,1304.3 645.0,1305.2 646.0,1303.9 647.0,1304.4 648.0,1303.6 649.0,1304.0 650.0,1304.4 651.0,1303.8 652.0,1303.7 653.0,1303.2 654.0,1304.5 655.0,1304.8 656.0,1304.4 657.0,1303.6 658.0,1303.9 659.0,1304.2 660.0,1303.0 661.0,1304.7 662.0,1303.8 663.0,1303.9 664.0,1304.3 665.0,1305.4 666.0,1306.1 667.0,1305.6 668.0,1307.3 669.0,1306.0 670.0,1306.2 671.0,1305.5 672.0,1304.5 673.0,1305.6 674.0,1305.4 675.0,1304.4 676.0,1307.3 677.0,1304.3 678.0,1304.8 679.0,1306.4 680.0,1305.2 681.0,1304.8 682.0,1303.8 683.0,1306.1 684.0,1307.1 685.0,1307.8 686.0,1305.7 687.0,1306.3 688.0,1306.6 689.0,1306.8 690.0,1306.7 691.0,1305.6 692.0,1307.5 693.0,1305.1 694.0,1304.0 695.0,1304.9 696.0,1304.9 697.0,1305.1 698.0,1305.8 699.0,1304.3 700.0,1303.5 701.0,1304.7 702.0,1306.6 703.0,1306.4 704.0,1305.7 705.0,1304.8 706.0,1305.5 707.0,1305.5 708.0,1306.2 709.0,1306.2 710.0,1306.4 711.0,1306.9 712.0,1306.0 713.0,1306.4 714.0,1303.8 715.0,1304.8 716.0,1305.9 717.0,1305.9 718.0,1305.5 719.0,1306.3 720.0,1306.2 721.0,1306.4 722.0,1307.7 723.0,1307.1 724.0,1307.8 725.0,1307.4 726.0,1307.2 727.0,1306.8 728.0,1307.1 729.0,1307.4 730.0,1307.3 731.0,1307.5 732.0,1307.5 733.0,1308.1 734.0,1308.7 735.0,1309.2 736.0,1308.9 737.0,1308.7 738.0,1307.7 739.0,1307.8 740.0,1307.1 741.0,1306.1 742.0,1307.1 743.0,1307.4 744.0,1307.3 745.0,1308.0 746.0,1308.3 747.0,1309.5 748.0,1308.6 749.0,1309.7 750.0,1310.0 751.0,1310.5 752.0,1310.2 753.0,1308.2 754.0,1308.9 755.0,1307.1 756.0,1308.2 757.0,1308.1 758.0,1309.5 759.0,1309.8 760.0,1310.8 761.0,1310.7 762.0,1310.3 763.0,1310.3 764.0,1310.7 765.0,1309.4 766.0,1309.1 767.0,1308.3 768.0,1308.7 769.0,1308.8 770.0,1309.6 771.0,1310.1 772.0,1309.9 773.0,1310.0 774.0,1310.6 775.0,1310.9 776.0,1309.9 777.0,1309.6 778.0,1309.7 779.0,1310.9 780.0,1309.9 781.0,1310.4 782.0,1310.5 783.0,1310.0 784.0,1309.9 785.0,1307.7 786.0,1308.8 787.0,1309.3 788.0,1309.5 789.0,1310.3 790.0,1311.0 791.0,1310.5 792.0,1310.1 793.0,1310.3 794.0,1310.0 795.0,1310.4 796.0,1310.3 797.0,1311.2 798.0,1310.2 799.0,1309.6 800.0,1308.2 801.0,1308.6 802.0,1309.9 803.0,1309.6 804.0,1310.0 805.0,1308.9 806.0,1309.5 807.0,1310.3 808.0,1309.3 809.0,1310.4 810.0,1311.0 811.0,1311.7 812.0,1311.0 813.0,1310.5 814.0,1309.7 815.0,1310.7 816.0,1310.4 817.0,1310.2 818.0,1310.3 819.0,1310.8 820.0,1310.3 821.0,1309.6 822.0,1309.4 823.0,1309.1 824.0,1308.9 825.0,1308.5 826.0,1309.8 827.0,1310.0 828.0,1311.6 829.0,1311.6 830.0,1313.6 831.0,1310.7 832.0,1310.5 833.0,1310.0 834.0,1311.0 835.0,1312.5 836.0,1311.7 837.0,1311.7 838.0,1312.5 839.0,1312.2 840.0,1312.7 841.0,1312.0 842.0,1311.3 843.0,1310.1 844.0,1311.0 845.0,1311.5 846.0,1311.7 847.0,1311.4 848.0,1311.6 849.0,1311.6 850.0,1312.4 851.0,1312.7 852.0,1313.3 853.0,1312.3 854.0,1311.6 855.0,1313.1 856.0,1312.1 857.0,1312.8 858.0,1314.3 859.0,1312.9 860.0,1313.2 861.0,1310.8 862.0,1313.4 863.0,1313.0 864.0,1312.9 865.0,1312.6 866.0,1311.0 867.0,1312.4 868.0,1313.3 869.0,1314.5 870.0,1311.8 871.0,1313.2 872.0,1312.6 873.0,1313.6 874.0,1313.2 875.0,1314.2 876.0,1313.0 877.0,1312.3 878.0,1313.3 879.0,1312.2 880.0,1312.3 881.0,1312.8 882.0,1312.7 883.0,1311.7 884.0,1312.6 885.0,1312.6 886.0,1313.2 887.0,1312.3 888.0,1313.6 889.0,1314.1 890.0,1313.3 891.0,1313.0 892.0,1312.7 893.0,1312.1 894.0,1312.3 895.0,1313.1 896.0,1312.1 897.0,1311.8 898.0,1313.2 899.0,1312.9 900.0,1313.4 901.0,1312.7 902.0,1312.5 903.0,1311.9 904.0,1312.0 905.0,1313.7 906.0,1313.1 907.0,1311.7 908.0,1312.9 909.0,1313.5 910.0,1311.9 911.0,1311.6 912.0,1310.4 913.0,1310.1 914.0,1311.0 915.0,1311.2 916.0,1312.0 917.0,1312.8 918.0,1312.9 919.0,1314.8 920.0,1313.2 921.0,1314.5 922.0,1313.8 923.0,1314.1 924.0,1313.3 925.0,1311.6 926.0,1312.6 927.0,1313.9 928.0,1313.9 929.0,1313.5 930.0,1313.8 931.0,1314.0 932.0,1313.9 933.0,1312.7 934.0,1312.9 935.0,1312.6 936.0,1312.7 937.0,1313.7 938.0,1315.0 939.0,1314.1 940.0,1314.2 941.0,1314.4 942.0,1314.5 943.0,1314.3 944.0,1313.8 945.0,1314.0 946.0,1314.3 947.0,1313.6 948.0,1314.1 949.0,1313.0 950.0,1314.3 951.0,1314.7 952.0,1315.4 953.0,1313.9 954.0,1313.9 955.0,1314.0 956.0,1313.9 957.0,1313.1 958.0,1312.8 959.0,1312.2 960.0,1313.5 961.0,1314.2 962.0,1314.8 963.0,1315.3 964.0,1314.1 965.0,1313.5 966.0,1313.3 967.0,1314.9 968.0,1314.1 969.0,1313.9 970.0,1314.2 971.0,1313.2 972.0,1312.2 973.0,1312.5 974.0,1313.6 975.0,1313.1 976.0,1313.3 977.0,1312.6 978.0,1313.3 979.0,1314.5 980.0,1314.3 981.0,1314.0 982.0,1314.1 983.0,1313.4 984.0,1314.5 985.0,1313.5 986.0,1313.5 987.0,1313.7 988.0,1313.4 989.0,1314.2 990.0,1313.2 991.0,1313.4 992.0,1311.9 993.0,1312.6 994.0,1313.1 995.0,1313.0 996.0,1313.9 997.0,1313.4 998.0,1315.1 999.0,1313.0 1000.0,1312.4 1001.0,1311.5 1002.0,1312.1 1003.0,1311.7 1004.0,1313.5 1005.0,1314.1 1006.0,1314.8 1007.0,1315.6 1008.0,1314.1 1009.0,1314.6 1010.0,1313.6 1011.0,1314.3 1012.0,1313.9 1013.0,1313.7 1014.0,1313.7 1015.0,1315.0 1016.0,1312.3 1017.0,1313.5 1018.0,1313.4 1019.0,1314.0 1020.0,1313.3 1021.0,1315.1 1022.0,1314.5 1023.0,1313.7 1024.0,1315.0 1025.0,1313.9 1026.0,1313.0 1027.0,1313.1 1028.0,1313.8 1029.0,1313.4 1030.0,1313.0 1031.0,1313.5 1032.0,1314.2 1033.0,1314.6 1034.0,1314.1 1035.0,1314.9 1036.0,1314.3 1037.0,1314.4 1038.0,1315.3 1039.0,1315.1 1040.0,1315.3 1041.0,1314.7 1042.0,1314.1 1043.0,1314.0 1044.0,1313.9 1045.0,1313.6 1046.0,1314.5 1047.0,1314.2 1048.0,1314.4 1049.0,1313.6 1050.0,1313.9 1051.0,1313.6 1052.0,1312.7 1053.0,1312.6 1054.0,1313.2 1055.0,1314.2 1056.0,1314.9 1057.0,1315.2 1058.0,1315.4 1059.0,1315.4 1060.0,1314.9 1061.0,1313.8 1062.0,1313.5 1063.0,1313.6 1064.0,1313.9 1065.0,1314.5 1066.0,1315.9 1067.0,1314.7 1068.0,1315.4 1069.0,1315.4 1070.0,1315.3 1071.0,1314.6 1072.0,1315.4 1073.0,1313.5 1074.0,1315.6 1075.0,1314.0 1076.0,1314.6 1077.0,1315.4 1078.0,1315.8 1079.0,1316.0 1080.0,1315.9 1081.0,1315.2 1082.0,1314.8 1083.0,1314.5 1084.0,1313.7 1085.0,1314.2 1086.0,1315.3 1087.0,1316.0 1088.0,1315.8 1089.0,1316.3 1090.0,1316.0 1091.0,1316.7 1092.0,1315.0 1093.0,1314.5 1094.0,1314.1 1095.0,1315.2 1096.0,1314.2 1097.0,1314.7 1098.0,1314.0 1099.0,1314.4 1100.0,1316.1 1101.0,1316.1 1102.0,1315.8 1103.0,1315.0 1104.0,1314.4 1105.0,1314.5 1106.0,1314.2 1107.0,1314.9 1108.0,1316.1 1109.0,1315.8 1110.0,1315.2 1111.0,1315.7 1112.0,1314.8 1113.0,1314.5 1114.0,1314.7 1115.0,1314.4 1116.0,1313.5 1117.0,1314.6 1118.0,1314.6 1119.0,1314.6 1120.0,1315.6 1121.0,1314.7 1122.0,1314.6 1123.0,1315.4 1124.0,1315.2 1125.0,1315.8 1126.0,1314.0 1127.0,1315.3 1128.0,1314.6 1129.0,1314.8 1130.0,1313.7 1131.0,1313.9 1132.0,1314.3 1133.0,1314.6 1134.0,1315.0 1135.0,1315.3 1136.0,1315.6 1137.0,1315.6 1138.0,1315.6 1139.0,1315.5 1140.0,1315.1 1141.0,1314.2 1142.0,1313.4 1143.0,1313.5 1144.0,1312.6 1145.0,1313.9 1146.0,1314.8 1147.0,1315.9 1148.0,1316.0 1149.0,1315.7 1150.0,1315.7 1151.0,1315.5 1152.0,1316.3 1153.0,1315.7 1154.0,1315.1 1155.0,1315.7 1156.0,1316.3 1157.0,1316.7 1158.0,1315.8 1159.0,1316.3 1160.0,1315.9 1161.0,1315.3 1162.0,1315.8 1163.0,1315.7 1164.0,1315.5 1165.0,1315.7 1166.0,1315.8 1167.0,1315.7 1168.0,1315.5 1169.0,1315.5 1170.0,1315.5 1171.0,1315.7 1172.0,1315.0 1173.0,1315.5 1174.0,1315.3 1175.0,1315.6 1176.0,1314.9 1177.0,1316.1 1178.0,1315.3 1179.0,1314.8 1180.0,1314.2 1181.0,1315.4 1182.0,1316.1 1183.0,1315.6 1184.0,1315.8 1185.0,1316.4 1186.0,1315.0 1187.0,1314.9 1188.0,1315.0 1189.0,1314.6 1190.0,1313.8 1191.0,1314.2 1192.0,1315.0 1193.0,1315.7 1194.0,1316.5 1195.0,1316.0 1196.0,1314.9 1197.0,1315.1 1198.0,1315.1 1199.0,1315.3 1200.0,1315.8 1201.0,1315.6 1202.0,1316.5 1203.0,1316.0 1204.0,1315.8 1205.0,1315.9 1206.0,1315.2 1207.0,1316.6 1208.0,1316.1 1209.0,1317.1 1210.0,1315.0 1211.0,1314.6 1212.0,1315.2 1213.0,1314.5 1214.0,1315.2 1215.0,1314.8 1216.0,1316.0 1217.0,1314.6 1218.0,1315.0 1219.0,1313.8 1220.0,1315.2 1221.0,1316.0 1222.0,1316.3 1223.0,1315.9 1224.0,1315.9 1225.0,1315.4 1226.0,1314.8 1227.0,1315.4 1228.0,1316.2 1229.0,1315.9 1230.0,1315.8 1231.0,1315.6 1232.0,1315.9 1233.0,1315.6 1234.0,1315.1 1235.0,1314.8 1236.0,1315.3 1237.0,1313.8 1238.0,1314.3 1239.0,1314.5 1240.0,1314.3 1241.0,1315.6 1242.0,1315.4 1243.0,1316.0 1244.0,1314.8 1245.0,1315.5 1246.0,1314.7 1247.0,1314.1 1248.0,1315.7 1249.0,1316.5 1250.0,1316.6 1251.0,1317.1 1252.0,1316.2 1253.0,1317.1 1254.0,1316.1 1255.0,1316.9 1256.0,1317.3 1257.0,1317.5 1258.0,1316.4 1259.0,1316.5 1260.0,1315.7 1261.0,1315.8 1262.0,1314.5 1263.0,1315.8 1264.0,1315.8 1265.0,1316.0 1266.0,1317.1 1267.0,1315.6 1268.0,1316.3 1269.0,1316.5 1270.0,1315.8 1271.0,1315.2 1272.0,1315.8 1273.0,1315.9 1274.0,1317.0 1275.0,1316.3 1276.0,1314.7 1277.0,1315.9 1278.0,1316.4 1279.0,1317.0 1280.0,1317.0 1281.0,1316.7 1282.0,1316.2 1283.0,1315.2 1284.0,1316.0 1285.0,1315.0 1286.0,1316.6 1287.0,1316.6 1288.0,1317.4 1289.0,1316.4 1290.0,1316.9 1291.0,1316.3 1292.0,1316.3 1293.0,1316.9 1294.0,1316.7 1295.0,1315.5 1296.0,1315.6 1297.0,1315.3 1298.0,1315.9 1299.0,1315.1 1300.0,1314.9 1301.0,1315.5 1302.0,1316.8 1303.0,1316.0 1304.0,1317.0 1305.0,1317.6 1306.0,1316.0 1307.0,1316.1 1308.0,1316.0 1309.0,1316.5 1310.0,1315.5 1311.0,1316.4 1312.0,1315.5 1313.0,1315.6 1314.0,1316.0 1315.0,1317.4 1316.0,1317.9 1317.0,1317.2 1318.0,1317.8 1319.0,1318.1 1320.0,1318.3 1321.0,1318.3 1322.0,1317.5 1323.0,1317.4 1324.0,1317.0 1325.0,1318.2 1326.0,1318.0 1327.0,1317.7 1328.0,1317.8 1329.0,1318.7 1330.0,1319.1 1331.0,1318.0 1332.0,1317.6 1333.0,1316.0 1334.0,1316.4 1335.0,1316.7 1336.0,1316.5 1337.0,1316.4 1338.0,1317.2 1339.0,1317.4 1340.0,1318.5 1341.0,1317.5 1342.0,1317.9 1343.0,1317.4 1344.0,1317.7 1345.0,1318.4 1346.0,1318.6 1347.0,1317.2 1348.0,1316.5 1349.0,1317.0 1350.0,1316.6 1351.0,1318.6 1352.0,1318.3 1353.0,1316.9 1354.0,1318.4 1355.0,1317.7 1356.0,1317.7 1357.0,1316.9 1358.0,1318.0 1359.0,1317.0 1360.0,1315.9 1361.0,1316.9 1362.0,1316.1 1363.0,1316.7 1364.0,1316.9 1365.0,1317.9 1366.0,1317.6 1367.0,1318.6 1368.0,1317.6 1369.0,1318.8 1370.0,1318.7 1371.0,1317.2 1372.0,1318.6 1373.0,1317.1 1374.0,1317.7 1375.0,1317.0 1376.0,1318.8 1377.0,1319.6 1378.0,1319.5 1379.0,1318.9 1380.0,1318.5 1381.0,1318.6 1382.0,1319.1 1383.0,1317.9 1384.0,1317.9 1385.0,1319.6 1386.0,1318.1 1387.0,1318.1 1388.0,1317.5 1389.0,1317.8 1390.0,1317.6 1391.0,1317.7 1392.0,1316.7 1393.0,1317.3 1394.0,1317.6 1395.0,1319.1 1396.0,1318.7 1397.0,1318.8 1398.0,1317.7 1399.0,1318.2 1400.0,1318.8 1401.0,1318.1 1402.0,1319.2 1403.0,1318.9 1404.0,1318.9 1405.0,1319.1 1406.0,1318.1 1407.0,1317.5 1408.0,1318.3 1409.0,1318.3 1410.0,1319.4 1411.0,1319.1 1412.0,1318.1 1413.0,1318.8 1414.0,1317.9 1415.0,1318.5 1416.0,1318.7 1417.0,1318.0 1418.0,1317.8 1419.0,1318.0 1420.0,1317.4 1421.0,1317.1 1422.0,1318.3 1423.0,1317.5 1424.0,1317.3 1425.0,1317.8 1426.0,1319.0 1427.0,1319.2 1428.0,1320.3 1429.0,1320.2 1430.0,1319.5 1431.0,1319.6 1432.0,1318.8 1433.0,1317.9 1434.0,1317.8 1435.0,1316.9 1436.0,1317.9 1437.0,1318.4 1438.0,1319.3 1439.0,1318.4 1440.0,1318.3 1441.0,1318.2 1442.0,1319.3 1443.0,1318.8 1444.0,1319.0 1445.0,1319.2 1446.0,1319.5 1447.0,1319.0 1448.0,1318.6 1449.0,1318.8 1450.0,1318.7 1451.0,1317.7 1452.0,1318.2 1453.0,1318.4 1454.0,1320.0 1455.0,1319.8 1456.0,1319.3 1457.0,1318.2 1458.0,1319.7 1459.0,1318.6 1460.0,1317.9 1461.0,1319.7 1462.0,1319.5 1463.0,1319.1 1464.0,1319.7 1465.0,1320.2 1466.0,1320.5 1467.0,1319.4 1468.0,1320.6 1469.0,1319.7 1470.0,1319.3 1471.0,1318.9 1472.0,1318.6 1473.0,1318.5 1474.0,1318.2 1475.0,1318.9 1476.0,1318.4 1477.0,1319.1 1478.0,1318.3 1479.0,1318.9 1480.0,1318.5 1481.0,1317.7 1482.0,1319.5 1483.0,1319.6 1484.0,1319.7 1485.0,1319.5 1486.0,1320.5 1487.0,1319.5 1488.0,1320.3 1489.0,1319.6 1490.0,1318.7 1491.0,1319.2 1492.0,1318.0 1493.0,1318.9 1494.0,1319.1 1495.0,1319.5 1496.0,1318.9 1497.0,1321.3 1498.0,1321.5 1499.0,1320.1 1500.0,1320.0 1501.0,1320.5 1502.0,1318.8 1503.0,1319.4 1504.0,1318.6 1505.0,1318.8 1506.0,1319.3 1507.0,1319.1 1508.0,1317.7 1509.0,1317.1 1510.0,1318.0 1511.0,1319.0 1512.0,1319.5 1513.0,1319.8 1514.0,1319.7 1515.0,1318.7 1516.0,1319.9 1517.0,1320.4 1518.0,1320.2 1519.0,1318.4 1520.0,1317.7 1521.0,1318.3 1522.0,1317.0 1523.0,1318.8 1524.0,1318.9 1525.0,1317.9 1526.0,1318.3 1527.0,1319.3 1528.0,1319.8 1529.0,1319.5 1530.0,1318.6 1531.0,1318.4 1532.0,1318.0 1533.0,1317.3 1534.0,1317.5 1535.0,1319.0 1536.0,1318.8 1537.0,1319.5 1538.0,1320.2 1539.0,1319.8 1540.0,1320.4 1541.0,1320.5 1542.0,1320.1 1543.0,1319.2 1544.0,1318.9 1545.0,1319.2 1546.0,1319.6 1547.0,1319.4 1548.0,1319.6 1549.0,1318.7 1550.0,1319.1 1551.0,1318.0 1552.0,1319.1 1553.0,1318.9 1554.0,1317.7 1555.0,1319.3 1556.0,1319.3 1557.0,1319.3 1558.0,1319.6 1559.0,1319.8 1560.0,1319.6 1561.0,1319.7 1562.0,1319.2 1563.0,1318.6 1564.0,1319.8 1565.0,1320.4 1566.0,1320.8 1567.0,1322.6 1568.0,1321.1 1569.0,1319.7 1570.0,1320.4 1571.0,1319.7 1572.0,1319.1 1573.0,1320.3 1574.0,1319.0 1575.0,1319.0 1576.0,1319.9 1577.0,1318.9 1578.0,1320.7 1579.0,1320.7 1580.0,1320.1 1581.0,1320.3 1582.0,1320.3 1583.0,1320.1 1584.0,1318.7 1585.0,1319.5 1586.0,1318.6 1587.0,1319.5 1588.0,1319.5 1589.0,1318.8 1590.0,1319.4 1591.0,1319.1 1592.0,1319.1 1593.0,1318.6 1594.0,1317.8 1595.0,1318.7 1596.0,1318.5 1597.0,1319.7 1598.0,1319.6 1599.0,1320.0 1600.0,1318.5 1601.0,1319.2 1602.0,1319.0 1603.0,1319.2 1604.0,1319.4 1605.0,1319.0 1606.0,1318.4 1607.0,1319.0 1608.0,1319.7 1609.0,1318.9 1610.0,1319.8 1611.0,1319.7 1612.0,1318.5 1613.0,1320.1 1614.0,1319.9 1615.0,1318.8 1616.0,1317.8 1617.0,1318.8 1618.0,1320.0 1619.0,1320.6 1620.0,1321.2 1621.0,1320.0 1622.0,1319.4 1623.0,1319.7 1624.0,1319.2 1625.0,1320.0 1626.0,1319.7 1627.0,1319.8 1628.0,1318.9 1629.0,1320.0 1630.0,1318.6 1631.0,1318.3 1632.0,1318.3 1633.0,1320.0 1634.0,1319.5 1635.0,1320.6 1636.0,1320.8 1637.0,1321.5 1638.0,1320.2 1639.0,1319.8 1640.0,1321.1 1641.0,1320.8 1642.0,1319.7 1643.0,1320.2 1644.0,1320.7 1645.0,1319.7 1646.0,1318.9 1647.0,1319.7 1648.0,1320.2 1649.0,1320.6 1650.0,1321.0 1651.0,1321.4 1652.0,1320.3 1653.0,1320.1 1654.0,1319.3 1655.0,1318.9 1656.0,1318.9 1657.0,1319.6 1658.0,1320.2 1659.0,1320.4 1660.0,1319.3 1661.0,1319.9 1662.0,1320.3 1663.0,1319.8 1664.0,1320.2 1665.0,1321.3 1666.0,1320.3 1667.0,1319.2 1668.0,1319.1 1669.0,1320.4 1670.0,1321.1 1671.0,1321.0 1672.0,1321.1 1673.0,1321.5 1674.0,1320.5 1675.0,1320.4 1676.0,1320.3 1677.0,1320.1 1678.0,1320.2 1679.0,1321.2 1680.0,1318.9 1681.0,1320.2 1682.0,1319.5 1683.0,1320.0 1684.0,1320.3 1685.0,1321.7 1686.0,1321.5 1687.0,1320.5 1688.0,1320.4 1689.0,1319.5 1690.0,1317.7 1691.0,1319.9 1692.0,1320.2 1693.0,1321.5 1694.0,1321.0 1695.0,1320.5 1696.0,1319.9 1697.0,1319.7 1698.0,1319.7 1699.0,1318.8 1700.0,1319.0 1701.0,1320.3 1702.0,1319.0 1703.0,1319.5 1704.0,1320.0 1705.0,1320.1 1706.0,1320.4 1707.0,1320.6 1708.0,1320.3 1709.0,1320.4 1710.0,1319.9 1711.0,1320.0 1712.0,1319.7 1713.0,1320.1 1714.0,1321.0 1715.0,1321.1 1716.0,1320.0 1717.0,1319.9 1718.0,1321.7 1719.0,1319.4 1720.0,1320.8 1721.0,1319.6 1722.0,1320.3 1723.0,1320.0 1724.0,1320.8 1725.0,1320.2 1726.0,1321.0 1727.0,1321.2 1728.0,1317.8 1729.0,1319.3 1730.0,1318.4 1731.0,1319.1 1732.0,1320.1 1733.0,1321.1 1734.0,1321.8 1735.0,1321.4 1736.0,1320.8 1737.0,1321.7 1738.0,1320.6 1739.0,1320.2 1740.0,1320.1 1741.0,1319.1 1742.0,1319.6 1743.0,1319.5 1744.0,1320.3 1745.0,1321.2 1746.0,1320.9 1747.0,1321.7 1748.0,1322.0 1749.0,1320.5 1750.0,1320.1 1751.0,1319.6 1752.0,1321.0 1753.0,1320.4 1754.0,1321.1 1755.0,1320.4 1756.0,1320.9 1757.0,1322.1 1758.0,1321.8 1759.0,1319.9 1760.0,1320.9 1761.0,1322.1 1762.0,1320.8 1763.0,1321.7 1764.0,1320.6 1765.0,1319.9 1766.0,1320.0 1767.0,1322.3 1768.0,1319.9 1769.0,1321.1 1770.0,1321.1 1771.0,1322.1 1772.0,1321.4 1773.0,1322.4 1774.0,1321.6 1775.0,1321.3 1776.0,1321.3 1777.0,1322.0 1778.0,1321.3 1779.0,1321.9 1780.0,1321.5 1781.0,1322.1 1782.0,1322.8 1783.0,1322.8 1784.0,1323.1 1785.0,1322.3 1786.0,1322.7 1787.0,1321.5 1788.0,1322.3 1789.0,1321.8 1790.0,1321.2 1791.0,1322.2 1792.0,1320.9 1793.0,1320.6 1794.0,1322.0 1795.0,1321.8 1796.0,1319.8 1797.0,1321.0 1798.0,1320.3 1799.0,1320.6 1800.0,1321.1 1801.0,1321.2 1802.0,1322.0 1803.0,1320.6 1804.0,1321.0 1805.0,1321.0 1806.0,1321.4 1807.0,1321.2 1808.0,1323.0 1809.0,1322.3 1810.0,1322.0 1811.0,1322.5 1812.0,1322.1 1813.0,1322.7 1814.0,1321.4 1815.0,1321.3 1816.0,1321.0 1817.0,1321.1 1818.0,1321.2 1819.0,1322.2 1820.0,1321.7 1821.0,1322.2 1822.0,1321.8 1823.0,1322.2 1824.0,1321.5 1825.0,1321.5 1826.0,1322.9 1827.0,1321.8 1828.0,1320.8 1829.0,1322.0 1830.0,1321.5 1831.0,1321.0 1832.0,1321.6 1833.0,1320.9 1834.0,1322.6 1835.0,1321.7 1836.0,1320.8 1837.0,1320.4 1838.0,1322.4 1839.0,1321.7 1840.0,1321.1 1841.0,1322.3 1842.0,1322.1 1843.0,1322.5 1844.0,1323.1 1845.0,1322.7 1846.0,1322.5 1847.0,1323.5 1848.0,1323.2 1849.0,1320.9 1850.0,1321.9 1851.0,1321.3 1852.0,1322.7 1853.0,1321.5 1854.0,1322.1 1855.0,1322.7 1856.0,1321.6 1857.0,1321.6 1858.0,1320.3 1859.0,1320.3 1860.0,1320.8 1861.0,1322.5 1862.0,1321.9 1863.0,1323.1 1864.0,1321.7 1865.0,1322.5 1866.0,1321.8 1867.0,1321.3 1868.0,1321.8 1869.0,1321.9 1870.0,1321.6 1871.0,1321.3 1872.0,1321.9 1873.0,1321.7 1874.0,1321.6 1875.0,1321.1 1876.0,1321.0 1877.0,1323.0 1878.0,1322.1 1879.0,1322.0 1880.0,1321.6 1881.0,1321.9 1882.0,1320.9 1883.0,1322.4 1884.0,1323.6 1885.0,1322.6 1886.0,1323.1 1887.0,1323.9 1888.0,1323.2 1889.0,1322.8 1890.0,1322.0 1891.0,1320.8 1892.0,1321.9 1893.0,1320.9 1894.0,1321.6 1895.0,1321.1 1896.0,1321.5 1897.0,1322.9 1898.0,1324.2 1899.0,1323.4 1900.0,1323.2 1901.0,1323.0 1902.0,1322.9 1903.0,1321.8 1904.0,1321.6 1905.0,1321.5 1906.0,1321.4 1907.0,1323.0 1908.0,1321.2 1909.0,1322.5 1910.0,1323.2 1911.0,1323.4 1912.0,1322.9 1913.0,1322.5 1914.0,1321.0 1915.0,1321.8 1916.0,1322.6 1917.0,1322.5 1918.0,1322.8 1919.0,1323.3 1920.0,1323.0 1921.0,1322.9 1922.0,1322.8 1923.0,1322.6"/>
</g>
<g fill="#000">
<text transform="translate(746.84,165.50) scale(0.962,1)" style="font-family:'DejaVu Sans',sans-serif;font-size:48.73px">&#x2665;</text>
<text transform="translate(1252.80,253.70) scale(0.957,1)" style="font-family:'DejaVu Sans',sans-serif;font-size:49.42px">&#x2665;</text>
<text transform="translate(1697.05,268.50) scale(0.955,1)" style="font-family:'DejaVu Sans',sans-serif;font-size:50.10px">&#x2665;</text>
<text transform="translate(748.90,428.30) scale(0.951,1)" style="font-family:'DejaVu Sans',sans-serif;font-size:49.69px">&#x2665;</text>
<text transform="translate(1261.30,509.30) scale(0.945,1)" style="font-family:'DejaVu Sans',sans-serif;font-size:48.87px">&#x2665;</text>
<text transform="translate(1688.00,507.00) scale(0.951,1)" style="font-family:'DejaVu Sans',sans-serif;font-size:49.69px">&#x2665;</text>
<text transform="translate(744.40,632.70) scale(0.932,1)" style="font-family:'DejaVu Sans',sans-serif;font-size:49.55px">&#x2665;</text>
<text transform="translate(1261.30,742.70) scale(0.934,1)" style="font-family:'DejaVu Sans',sans-serif;font-size:49.42px">&#x2665;</text>
<text transform="translate(1695.25,767.90) scale(0.996,1)" style="font-family:'DejaVu Sans',sans-serif;font-size:48.04px">&#x2665;</text>
<text transform="translate(746.95,883.30) scale(0.964,1)" style="font-family:'DejaVu Sans',sans-serif;font-size:48.45px">&#x2665;</text>
<text transform="translate(1262.64,989.80) scale(0.948,1)" style="font-family:'DejaVu Sans',sans-serif;font-size:49.42px">&#x2665;</text>
<text transform="translate(1696.85,979.60) scale(0.951,1)" style="font-family:'DejaVu Sans',sans-serif;font-size:49.14px">&#x2665;</text>
<text transform="translate(1236.36,112.20) scale(0.984,1)" style="font-family:'DejaVu Sans',sans-serif;font-size:48.45px">&#x2665;</text>
<text transform="translate(620.63,512.90) scale(1.071,1)" style="font-family:'DejaVu Sans',sans-serif;font-size:50.38px">&#x2666;</text>
<text transform="translate(1009.63,519.40) scale(0.993,1)" style="font-family:'DejaVu Sans',sans-serif;font-size:52.57px">&#x2666;</text>
<text transform="translate(1345.21,515.40) scale(1.036,1)" style="font-family:'DejaVu Sans',sans-serif;font-size:51.06px">&#x2666;</text>
<text transform="translate(1399.22,112.30) scale(1.024,1)" style="font-family:'DejaVu Sans',sans-serif;font-size:52.16px">&#x2666;</text>
<text transform="translate(353.75,1047.20) scale(1.096,1)" style="font-family:'DejaVu Sans',sans-serif;font-size:51.20px">&#x2663;</text>
<text transform="translate(1076.48,111.20) scale(1.108,1)" style="font-family:'DejaVu Sans',sans-serif;font-size:51.20px">&#x2663;</text>
<text x="583.45" y="749.88" style="font-family:'Liberation Serif',serif;font-size:53.47px">&#x25CF;</text>
<text x="710.35" y="752.08" style="font-family:'Liberation Serif',serif;font-size:53.47px">&#x25CF;</text>
<text x="1638.35" y="775.58" style="font-family:'Liberation Serif',serif;font-size:53.47px">&#x25CF;</text>
<text x="1550.45" y="107.98" style="font-family:'Liberation Serif',serif;font-size:53.47px">&#x25CF;</text>
<text x="701.55" y="968.09" style="font-family:'Liberation Serif',serif;font-size:55.80px">&#x25A0;</text>
<text x="923.55" y="985.19" style="font-family:'Liberation Serif',serif;font-size:55.80px">&#x25A0;</text>
<text x="1560.55" y="989.29" style="font-family:'Liberation Serif',serif;font-size:55.80px">&#x25A0;</text>
<text x="1684.55" y="111.59" style="font-family:'Liberation Serif',serif;font-size:55.80px">&#x25A0;</text>
</g>
<g fill="#000">
<text x="274.3" y="212.2" style="font-family:'Liberation Serif',serif;font-weight:bold;font-size:66px" text-anchor="start">Cr</text>
<text x="240.7" y="454.5" style="font-family:'Liberation Serif',serif;font-weight:bold;font-size:66px" text-anchor="start">Ti/Cr</text>
<text x="231.5" y="677.0" style="font-family:'Liberation Serif',serif;font-weight:bold;font-size:66px" text-anchor="start">Al/Cr</text>
<text x="228.3" y="904.5" style="font-family:'Liberation Serif',serif;font-weight:bold;font-size:66px" text-anchor="start">Ni/Cr</text>
<text x="433.6" y="1234.8" style="font-family:'Liberation Serif',serif;font-weight:bold;font-size:66px" text-anchor="start">Substrate</text>
<text x="140.5" y="1485.3" style="font-family:'Liberation Serif',serif;font-weight:bold;font-size:74px" text-anchor="middle">20</text>
<text x="395.6" y="1485.3" style="font-family:'Liberation Serif',serif;font-weight:bold;font-size:74px" text-anchor="middle">30</text>
<text x="650.6" y="1485.3" style="font-family:'Liberation Serif',serif;font-weight:bold;font-size:74px" text-anchor="middle">40</text>
<text x="905.7" y="1485.3" style="font-family:'Liberation Serif',serif;font-weight:bold;font-size:74px" text-anchor="middle">50</text>
<text x="1160.8" y="1485.3" style="font-family:'Liberation Serif',serif;font-weight:bold;font-size:74px" text-anchor="middle">60</text>
<text x="1415.8" y="1485.3" style="font-family:'Liberation Serif',serif;font-weight:bold;font-size:74px" text-anchor="middle">70</text>
<text x="1670.9" y="1485.3" style="font-family:'Liberation Serif',serif;font-weight:bold;font-size:74px" text-anchor="middle">80</text>
<text x="1926.0" y="1485.3" style="font-family:'Liberation Serif',serif;font-weight:bold;font-size:74px" text-anchor="middle">90</text>
<text x="896.2" y="1580.0" style="font-family:'Liberation Serif',serif;font-weight:bold;font-size:66px" text-anchor="start">2&#x3B8;/degree</text>
<text transform="translate(70.7,902.8) rotate(-90)" style="font-family:'Liberation Serif',serif;font-weight:bold;font-size:66px">Intensity/a.u.</text>
<text x="700.8" y="104.9" style="font-family:'Liberation Serif',serif;font-size:66px" text-anchor="start">(110)</text>
<text x="1198.7" y="202.0" style="font-family:'Liberation Serif',serif;font-size:66px" text-anchor="start">(200)</text>
<text x="1651.0" y="207.0" style="font-family:'Liberation Serif',serif;font-size:66px" text-anchor="start">(211)</text>
<text x="1126.6" y="111.0" style="font-family:'Liberation Serif',serif;font-size:66px" text-anchor="start">Si</text>
<text x="1282.5" y="111.6" style="font-family:'Liberation Serif',serif;font-size:66px" text-anchor="start">Cr</text>
<text x="1448.6" y="111.9" style="font-family:'Liberation Serif',serif;font-size:66px" text-anchor="start">Ti</text>
<text x="1582.4" y="111.9" style="font-family:'Liberation Serif',serif;font-size:66px" text-anchor="start">Al</text>
<text x="1717.1" y="109.4" style="font-family:'Liberation Serif',serif;font-size:66px" text-anchor="start">Ni</text>
</g>
</svg>
</body></html>
